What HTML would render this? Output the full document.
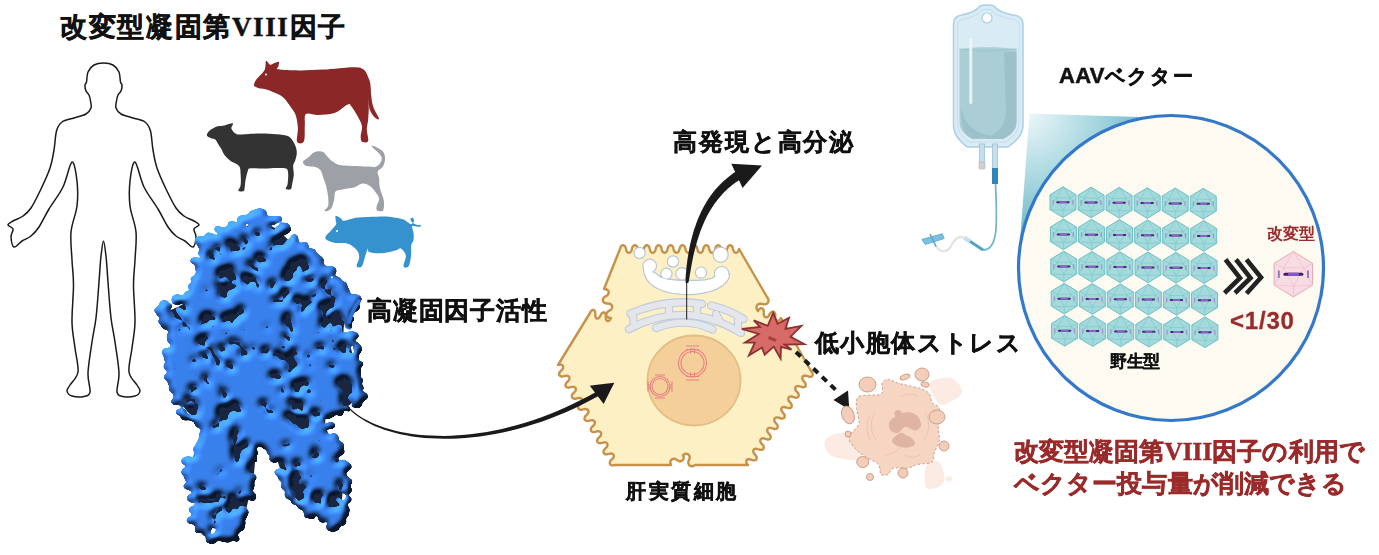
<!DOCTYPE html>
<html><head><meta charset="utf-8">
<style>
html,body{margin:0;padding:0;background:#fff;}
body{width:1379px;height:555px;position:relative;overflow:hidden;font-family:"Liberation Sans",sans-serif;}
.t{position:absolute;white-space:nowrap;line-height:1;font-weight:bold;color:#111;-webkit-text-stroke:0.5px currentColor;}
svg{position:absolute;left:0;top:0;}
</style></head><body>
<svg width="1379" height="555" viewBox="0 0 1379 555">
<defs>
 <radialGradient id="wedge" gradientUnits="userSpaceOnUse" cx="1027" cy="112" r="150">
  <stop offset="0" stop-color="#eef8fa"/>
  <stop offset="0.45" stop-color="#a9d7e0"/>
  <stop offset="1" stop-color="#4fa9bc"/>
 </radialGradient>
 <filter id="rough" x="-10%" y="-10%" width="120%" height="120%">
  <feTurbulence type="fractalNoise" baseFrequency="0.09" numOctaves="2" seed="3" result="n"/>
  <feDisplacementMap in="SourceGraphic" in2="n" scale="14" xChannelSelector="R" yChannelSelector="G"/>
 </filter>
 <filter id="spots" x="0" y="0" width="100%" height="100%">
  <feTurbulence type="fractalNoise" baseFrequency="0.12" numOctaves="2" seed="7" result="n"/>
  <feColorMatrix in="n" type="matrix" values="0 0 0 0 0.09  0 0 0 0 0.14  0 0 0 0 0.28  14 0 0 0 -8.0" result="m"/>
  <feComposite in="m" in2="SourceGraphic" operator="in"/>
 </filter>
 <radialGradient id="pg1" cx="0.4" cy="0.4" r="0.6" fx="0.35" fy="0.3"><stop offset="0" stop-color="#3a86ec"/><stop offset="0.55" stop-color="#2f70d8"/><stop offset="1" stop-color="#1a3f85"/></radialGradient>
 <radialGradient id="pg2" cx="0.4" cy="0.4" r="0.6" fx="0.35" fy="0.3"><stop offset="0" stop-color="#337ae2"/><stop offset="0.6" stop-color="#2a65c8"/><stop offset="1" stop-color="#1c468c"/></radialGradient>
 <radialGradient id="pg3" cx="0.4" cy="0.4" r="0.6" fx="0.35" fy="0.3"><stop offset="0" stop-color="#4390f0"/><stop offset="0.6" stop-color="#3177dd"/><stop offset="1" stop-color="#2356a8"/></radialGradient>
 <filter id="goo" x="-5%" y="-5%" width="110%" height="110%" color-interpolation-filters="sRGB">
  <feGaussianBlur in="SourceAlpha" stdDeviation="1.4" result="b"/>
  <feColorMatrix in="b" type="matrix" values="0 0 0 0 0  0 0 0 0 0  0 0 0 0 0  0 0 0 10 -4.3" result="g"/>
  <feGaussianBlur in="g" stdDeviation="3.0" result="gb"/>
  <feDiffuseLighting in="gb" surfaceScale="8" diffuseConstant="1.4" lighting-color="#3a82ec" result="light"><feDistantLight azimuth="240" elevation="42"/></feDiffuseLighting>
  <feFlood flood-color="#2f6ed6" result="fl"/>
  <feComposite in="light" in2="fl" operator="arithmetic" k1="0" k2="0.85" k3="0.22" k4="0" result="lit"/>
  <feComposite in="lit" in2="g" operator="in"/>
 </filter>
 <clipPath id="pclip"><path d="M 203.0 243.0 C 206.4 238.4 207.8 238.4 214.0 235.0 C 220.2 231.6 227.0 229.6 234.0 226.0 C 241.0 222.4 243.4 219.2 249.0 217.0 C 254.6 214.8 256.4 214.2 262.0 215.0 C 267.6 215.8 270.8 216.8 277.0 221.0 C 283.2 225.2 286.6 229.8 293.0 236.0 C 299.4 242.2 302.4 245.6 309.0 252.0 C 315.6 258.4 319.6 261.4 326.0 268.0 C 332.4 274.6 337.0 278.6 341.0 285.0 C 345.0 291.4 342.8 297.0 346.0 300.0 C 349.2 303.0 356.6 294.4 357.0 300.0 C 357.4 305.6 348.0 317.8 348.0 328.0 C 348.0 338.2 354.6 338.8 357.0 351.0 C 359.4 363.2 360.4 378.0 360.0 389.0 C 359.6 400.0 361.0 400.2 355.0 406.0 C 349.0 411.8 334.0 410.2 330.0 418.0 C 326.0 425.8 332.0 434.8 335.0 445.0 C 338.0 455.2 342.6 458.2 345.0 469.0 C 347.4 479.8 348.0 488.4 347.0 499.0 C 346.0 509.6 344.8 517.8 340.0 522.0 C 335.2 526.2 331.0 523.0 323.0 520.0 C 315.0 517.0 307.2 513.4 300.0 507.0 C 292.8 500.6 291.6 497.0 287.0 488.0 C 282.4 479.0 281.0 470.8 277.0 462.0 C 273.0 453.2 271.0 448.8 267.0 444.0 C 263.0 439.2 259.6 431.6 257.0 438.0 C 254.4 444.4 256.0 461.6 254.0 476.0 C 252.0 490.4 250.2 498.0 247.0 510.0 C 243.8 522.0 243.0 530.2 238.0 536.0 C 233.0 541.8 230.0 540.8 222.0 539.0 C 214.0 537.2 204.0 535.0 198.0 527.0 C 192.0 519.0 194.2 510.4 192.0 499.0 C 189.8 487.6 185.4 481.8 187.0 470.0 C 188.6 458.2 197.4 448.8 200.0 440.0 C 202.6 431.2 203.8 432.0 200.0 426.0 C 196.2 420.0 187.4 419.2 181.0 410.0 C 174.6 400.8 170.6 392.0 168.0 380.0 C 165.4 368.0 167.4 360.8 168.0 350.0 C 168.6 339.2 172.0 331.6 171.0 326.0 C 170.0 320.4 165.0 325.2 163.0 322.0 C 161.0 318.8 158.4 314.0 161.0 310.0 C 163.6 306.0 170.2 305.6 176.0 302.0 C 181.8 298.4 186.0 296.4 190.0 292.0 C 194.0 287.6 194.6 286.8 196.0 280.0 C 197.4 273.2 195.6 265.4 197.0 258.0 C 198.4 250.6 199.6 247.6 203.0 243.0 Z"/></clipPath>
</defs>
<!-- human -->
<path d="M 103.5 63.0 C 100.3 63.0 96.6 63.5 94.0 65.0 C 91.4 66.5 89.2 69.2 88.0 72.0 C 86.8 74.8 87.0 79.8 86.5 82.0 C 86.0 84.2 85.1 83.5 85.0 85.0 C 84.9 86.5 85.3 89.3 86.0 91.0 C 86.7 92.7 88.2 93.3 89.0 95.0 C 89.8 96.7 90.2 98.8 90.5 101.0 C 90.8 103.2 91.8 105.8 91.0 108.0 C 90.2 110.2 88.8 112.3 86.0 114.0 C 83.2 115.7 78.0 116.7 74.0 118.0 C 70.0 119.3 64.9 119.8 62.0 122.0 C 59.1 124.2 57.8 126.3 56.5 131.0 C 55.2 135.7 55.1 143.8 54.0 150.0 C 52.9 156.2 52.2 161.5 50.0 168.0 C 47.8 174.5 44.2 182.3 41.0 189.0 C 37.8 195.7 34.0 203.5 31.0 208.0 C 28.0 212.5 26.0 213.8 23.0 216.0 C 20.0 218.2 15.5 219.5 13.0 221.0 C 10.5 222.5 8.0 223.7 8.0 225.0 C 8.0 226.3 12.5 227.0 13.0 229.0 C 13.5 231.0 10.8 234.0 11.0 237.0 C 11.2 240.0 12.2 246.3 14.0 247.0 C 15.8 247.7 19.2 242.8 22.0 241.0 C 24.8 239.2 28.2 238.3 31.0 236.0 C 33.8 233.7 36.0 231.5 39.0 227.0 C 42.0 222.5 45.0 215.7 49.0 209.0 C 53.0 202.3 59.2 194.8 63.0 187.0 C 66.8 179.2 69.7 163.0 72.0 162.0 C 74.3 161.0 76.2 173.7 77.0 181.0 C 77.8 188.3 78.0 197.5 77.0 206.0 C 76.0 214.5 71.8 223.0 71.0 232.0 C 70.2 241.0 71.6 251.2 72.0 260.0 C 72.4 268.8 73.5 274.7 73.5 285.0 C 73.5 295.3 71.8 311.5 72.0 322.0 C 72.2 332.5 74.0 339.7 75.0 348.0 C 76.0 356.3 78.8 365.8 78.0 372.0 C 77.2 378.2 71.8 381.8 70.0 385.0 C 68.2 388.2 66.7 389.2 67.0 391.0 C 67.3 392.8 69.2 395.1 72.0 396.0 C 74.8 396.9 81.0 397.2 84.0 396.5 C 87.0 395.8 89.3 395.9 90.0 392.0 C 90.7 388.1 87.7 381.3 88.0 373.0 C 88.3 364.7 90.7 351.2 92.0 342.0 C 93.3 332.8 94.8 328.0 96.0 318.0 C 97.2 308.0 98.2 292.3 99.0 282.0 C 99.8 271.7 100.2 262.8 101.0 256.0 C 101.8 249.2 102.7 241.0 103.5 241.0 C 104.3 241.0 105.2 249.2 106.0 256.0 C 106.8 262.8 107.2 271.7 108.0 282.0 C 108.8 292.3 109.8 308.0 111.0 318.0 C 112.2 328.0 113.7 332.8 115.0 342.0 C 116.3 351.2 118.7 364.7 119.0 373.0 C 119.3 381.3 116.3 388.1 117.0 392.0 C 117.7 395.9 120.0 395.8 123.0 396.5 C 126.0 397.2 132.2 396.9 135.0 396.0 C 137.8 395.1 139.7 392.8 140.0 391.0 C 140.3 389.2 138.8 388.2 137.0 385.0 C 135.2 381.8 129.8 378.2 129.0 372.0 C 128.2 365.8 131.0 356.3 132.0 348.0 C 133.0 339.7 134.8 332.5 135.0 322.0 C 135.2 311.5 133.5 295.3 133.5 285.0 C 133.5 274.7 134.6 268.8 135.0 260.0 C 135.4 251.2 136.8 241.0 136.0 232.0 C 135.2 223.0 131.0 214.5 130.0 206.0 C 129.0 197.5 129.2 188.3 130.0 181.0 C 130.8 173.7 132.7 161.0 135.0 162.0 C 137.3 163.0 140.2 179.2 144.0 187.0 C 147.8 194.8 154.0 202.3 158.0 209.0 C 162.0 215.7 165.0 222.5 168.0 227.0 C 171.0 231.5 173.2 233.7 176.0 236.0 C 178.8 238.3 182.2 239.2 185.0 241.0 C 187.8 242.8 191.2 247.7 193.0 247.0 C 194.8 246.3 195.8 240.0 196.0 237.0 C 196.2 234.0 193.5 231.0 194.0 229.0 C 194.5 227.0 199.0 226.3 199.0 225.0 C 199.0 223.7 196.5 222.5 194.0 221.0 C 191.5 219.5 187.0 218.2 184.0 216.0 C 181.0 213.8 179.0 212.5 176.0 208.0 C 173.0 203.5 169.2 195.7 166.0 189.0 C 162.8 182.3 159.2 174.5 157.0 168.0 C 154.8 161.5 154.1 156.2 153.0 150.0 C 151.9 143.8 151.8 135.7 150.5 131.0 C 149.2 126.3 147.9 124.2 145.0 122.0 C 142.1 119.8 137.0 119.3 133.0 118.0 C 129.0 116.7 123.8 115.7 121.0 114.0 C 118.2 112.3 116.8 110.2 116.0 108.0 C 115.2 105.8 116.2 103.2 116.5 101.0 C 116.8 98.8 117.2 96.7 118.0 95.0 C 118.8 93.3 120.3 92.7 121.0 91.0 C 121.7 89.3 122.1 86.5 122.0 85.0 C 121.9 83.5 121.0 84.2 120.5 82.0 C 120.0 79.8 120.2 74.8 119.0 72.0 C 117.8 69.2 115.6 66.5 113.0 65.0 C 110.4 63.5 106.7 63.0 103.5 63.0 Z" fill="#fff" stroke="#1a1a1a" stroke-width="1.5" stroke-linejoin="round"/>
<!-- animals -->
<path d="M 254.1 84.2 C 254.3 83.0 254.9 81.5 256.5 79.3 C 258.1 77.2 262.3 73.4 263.8 71.2 C 265.3 69.1 265.0 68.1 265.4 66.4 C 265.8 64.6 265.4 60.9 266.2 60.7 C 267.0 60.4 268.9 64.3 270.3 64.7 C 271.6 65.1 272.9 63.6 274.3 63.1 C 275.8 62.6 278.2 61.3 278.9 61.8 C 279.6 62.4 278.5 65.1 278.4 66.4 C 278.3 67.6 275.0 68.6 278.4 69.3 C 281.8 70.0 291.2 70.4 298.7 70.4 C 306.1 70.5 313.8 70.1 323.0 69.6 C 332.2 69.1 347.1 67.2 353.8 67.2 C 360.6 67.2 361.2 68.0 363.6 69.6 C 366.0 71.2 367.0 74.5 368.1 76.9 C 369.3 79.3 369.9 80.8 370.4 84.2 C 370.9 87.6 370.8 93.3 371.4 97.2 C 371.9 101.1 372.4 104.2 373.6 107.7 C 374.9 111.3 378.8 117.0 379.0 118.6 C 379.2 120.3 376.5 119.2 374.9 117.6 C 373.4 116.1 370.8 112.5 369.7 109.4 C 368.7 106.2 368.6 98.9 368.4 98.8 C 368.3 98.7 368.8 105.0 368.8 108.5 C 368.7 112.1 368.4 116.4 368.1 119.9 C 367.8 123.4 366.8 126.1 366.8 129.6 C 366.8 133.2 368.9 139.0 368.1 141.0 C 367.3 143.0 363.2 142.6 362.0 141.8 C 360.7 141.0 360.7 138.7 360.7 136.1 C 360.7 133.6 362.4 129.6 362.0 126.4 C 361.5 123.1 359.7 120.0 357.9 116.7 C 356.1 113.4 353.1 108.6 351.4 106.6 C 349.7 104.6 350.7 103.4 347.8 104.5 C 345.0 105.6 339.3 111.3 334.4 113.1 C 329.4 114.8 322.9 114.9 318.1 115.0 C 313.4 115.2 308.2 112.4 306.0 114.1 C 303.8 115.7 305.2 120.2 304.8 124.8 C 304.5 129.3 305.2 138.5 303.9 141.3 C 302.6 144.2 298.1 144.0 297.1 141.8 C 296.1 139.6 298.1 132.4 297.9 128.0 C 297.6 123.6 296.9 118.8 295.8 115.4 C 294.6 111.9 293.0 110.2 290.9 107.2 C 288.8 104.3 286.0 99.9 283.3 97.5 C 280.5 95.1 277.2 94.0 274.3 92.6 C 271.5 91.3 268.7 90.1 266.2 89.4 C 263.8 88.7 261.6 89.0 259.7 88.6 C 257.8 88.1 255.8 87.4 254.9 86.6 C 253.9 85.9 253.8 85.4 254.1 84.2 Z" fill="#8b2727"/>
<circle cx="266" cy="74.5" r="1.1" fill="#fff"/>
<path d="M 206.9 135.4 C 206.7 134.2 207.8 132.3 209.5 130.8 C 211.2 129.3 214.4 127.4 216.9 126.5 C 219.4 125.6 221.8 125.9 224.5 125.4 C 227.2 124.9 231.8 122.9 232.9 123.4 C 234.1 123.9 230.8 126.7 231.4 128.5 C 232.0 130.3 234.3 133.2 236.8 134.2 C 239.2 135.1 241.9 134.3 246.0 134.2 C 250.0 134.0 256.2 133.4 261.3 133.4 C 266.4 133.4 272.0 133.6 276.6 134.2 C 281.2 134.7 285.8 134.7 288.9 136.4 C 291.9 138.2 293.7 142.2 295.0 144.9 C 296.3 147.6 296.8 150.0 296.8 152.5 C 296.9 155.1 295.9 158.0 295.3 160.2 C 294.7 162.4 293.4 163.1 293.2 165.6 C 292.9 168.0 293.9 171.7 293.8 174.8 C 293.6 177.8 292.7 181.5 292.2 183.9 C 291.7 186.4 291.8 188.5 290.7 189.3 C 289.6 190.1 286.3 189.7 285.8 188.8 C 285.3 188.0 287.3 186.5 287.6 183.9 C 288.0 181.3 288.4 175.8 288.1 173.2 C 287.8 170.7 288.0 169.5 286.1 168.6 C 284.2 167.7 280.2 167.9 276.6 167.9 C 273.0 167.9 268.7 168.5 264.3 168.6 C 260.0 168.7 253.3 167.9 250.6 168.3 C 247.8 168.7 248.6 169.1 247.8 170.9 C 247.0 172.8 246.2 176.7 245.7 179.3 C 245.1 182.0 245.1 185.0 244.7 187.0 C 244.4 189.0 244.7 190.5 243.7 191.1 C 242.6 191.8 238.8 191.8 238.3 190.8 C 237.8 189.9 240.2 188.3 240.6 185.5 C 241.0 182.7 240.9 177.3 240.6 174.0 C 240.3 170.7 240.7 168.0 239.1 165.9 C 237.4 163.7 233.1 162.8 230.6 161.0 C 228.2 159.2 226.0 157.1 224.5 155.1 C 223.0 153.1 222.5 150.9 221.4 149.0 C 220.4 147.2 219.1 145.7 218.1 144.1 C 217.1 142.5 216.5 140.5 215.3 139.5 C 214.1 138.5 212.1 138.7 210.7 138.0 C 209.3 137.3 207.1 136.6 206.9 135.4 Z" fill="#333333"/>
<path d="M 303.1 161.6 C 303.7 160.3 306.9 158.7 308.5 157.3 C 310.1 155.9 311.0 154.3 312.6 153.2 C 314.1 152.2 316.1 151.4 318.0 151.2 C 319.8 151.0 322.2 151.4 323.6 152.2 C 325.1 153.0 325.2 154.4 326.8 155.9 C 328.3 157.5 330.7 160.1 332.8 161.6 C 335.0 163.1 335.8 164.3 339.6 165.0 C 343.4 165.7 350.6 165.8 355.8 166.1 C 361.0 166.4 367.5 166.6 370.7 166.8 C 373.9 166.9 373.5 167.5 375.0 167.0 C 376.5 166.5 378.8 165.5 379.9 163.6 C 380.9 161.8 382.6 159.1 381.2 156.2 C 379.9 153.4 372.6 148.0 371.8 146.5 C 370.9 145.0 374.1 146.1 376.1 147.0 C 378.0 148.0 382.0 150.0 383.5 152.2 C 385.0 154.4 385.2 157.8 385.0 160.3 C 384.8 162.7 383.8 165.2 382.6 167.0 C 381.4 168.9 378.3 169.5 377.7 171.4 C 377.1 173.2 378.7 175.4 379.1 177.8 C 379.4 180.3 379.1 183.2 379.6 185.9 C 380.0 188.6 381.0 191.5 381.8 194.1 C 382.5 196.6 383.7 198.7 383.9 201.5 C 384.1 204.2 384.2 209.0 383.1 210.5 C 382.0 212.0 378.2 211.2 377.2 210.5 C 376.1 209.9 376.3 208.5 376.6 206.5 C 376.9 204.5 379.3 200.9 379.1 198.4 C 378.8 195.9 376.5 193.7 375.0 191.6 C 373.5 189.5 372.1 187.3 370.0 185.9 C 367.9 184.6 365.2 183.3 362.6 183.5 C 360.0 183.7 357.6 186.3 354.5 187.3 C 351.3 188.3 346.8 188.6 343.6 189.3 C 340.5 190.0 337.1 189.9 335.5 191.6 C 334.0 193.3 334.8 196.8 334.2 199.5 C 333.6 202.1 332.8 205.6 331.8 207.6 C 330.7 209.5 328.9 210.6 327.7 211.1 C 326.5 211.5 324.4 211.1 324.5 210.3 C 324.5 209.4 327.5 208.2 328.1 205.9 C 328.7 203.7 328.4 200.1 328.1 196.8 C 327.8 193.4 326.9 189.1 326.1 185.9 C 325.3 182.8 324.3 180.7 323.4 178.1 C 322.5 175.5 322.0 172.3 320.7 170.4 C 319.3 168.6 317.1 167.7 315.3 167.0 C 313.5 166.4 311.6 166.6 309.9 166.4 C 308.2 166.1 306.3 166.2 305.1 165.4 C 304.0 164.6 302.5 163.0 303.1 161.6 Z" fill="#9da1a7"/>
<path d="M 325.7 236.5 C 326.0 235.7 326.7 235.1 327.8 233.8 C 329.0 232.5 331.2 230.4 332.6 228.7 C 334.0 227.1 335.6 225.4 336.2 223.9 C 336.7 222.5 335.7 221.3 335.6 219.9 C 335.6 218.5 334.9 216.0 335.8 215.7 C 336.6 215.5 339.4 217.4 340.8 218.3 C 342.2 219.1 341.4 220.9 344.2 220.8 C 347.1 220.7 352.4 218.3 357.9 217.6 C 363.3 216.9 371.3 216.8 376.8 216.7 C 382.3 216.6 386.3 216.5 390.7 217.0 C 395.1 217.5 400.3 218.6 403.3 219.5 C 406.2 220.5 407.0 221.9 408.3 222.7 C 409.6 223.4 410.2 224.1 411.1 223.9 C 412.0 223.8 413.6 222.7 413.9 221.7 C 414.2 220.6 413.7 218.3 413.1 217.9 C 412.5 217.5 410.5 218.4 410.4 219.1 C 410.2 219.9 411.2 221.4 412.4 222.4 C 413.5 223.4 415.7 224.5 417.2 224.9 C 418.6 225.4 420.5 224.9 421.0 225.2 C 421.4 225.5 420.9 226.6 419.7 226.7 C 418.5 226.8 414.9 226.0 413.6 225.9 C 412.3 225.9 411.9 225.2 411.9 226.5 C 411.9 227.7 413.4 231.0 413.6 233.4 C 413.9 235.8 413.8 238.5 413.4 240.6 C 413.0 242.6 411.5 243.2 411.1 245.6 C 410.7 248.1 411.5 252.0 411.1 255.5 C 410.7 258.9 409.9 264.5 408.6 266.3 C 407.3 268.1 404.0 268.1 403.5 266.3 C 403.1 264.5 406.3 258.4 405.8 255.5 C 405.4 252.5 402.4 249.4 400.8 248.5 C 399.1 247.7 399.1 249.7 395.7 250.4 C 392.4 251.2 385.0 253.0 380.6 253.2 C 376.2 253.5 371.3 252.7 369.2 251.9 C 367.1 251.2 368.6 247.9 368.0 248.5 C 367.3 249.1 366.4 252.5 365.4 255.5 C 364.4 258.4 363.4 264.5 361.9 266.3 C 360.4 268.1 357.1 267.7 356.6 266.3 C 356.1 264.9 358.9 260.4 359.1 258.0 C 359.3 255.6 359.1 253.8 357.9 251.7 C 356.6 249.6 353.7 247.1 351.5 245.6 C 349.4 244.2 348.0 243.6 345.2 243.1 C 342.5 242.6 337.9 243.2 335.1 242.9 C 332.4 242.5 330.4 241.6 328.8 241.0 C 327.3 240.3 326.2 239.8 325.7 239.1 C 325.2 238.3 325.3 237.4 325.7 236.5 Z" fill="#3592ce"/>
<circle cx="337" cy="231" r="1.1" fill="#fff"/>
<!-- protein -->
<path d="M 203.0 243.0 C 206.4 238.4 207.8 238.4 214.0 235.0 C 220.2 231.6 227.0 229.6 234.0 226.0 C 241.0 222.4 243.4 219.2 249.0 217.0 C 254.6 214.8 256.4 214.2 262.0 215.0 C 267.6 215.8 270.8 216.8 277.0 221.0 C 283.2 225.2 286.6 229.8 293.0 236.0 C 299.4 242.2 302.4 245.6 309.0 252.0 C 315.6 258.4 319.6 261.4 326.0 268.0 C 332.4 274.6 337.0 278.6 341.0 285.0 C 345.0 291.4 342.8 297.0 346.0 300.0 C 349.2 303.0 356.6 294.4 357.0 300.0 C 357.4 305.6 348.0 317.8 348.0 328.0 C 348.0 338.2 354.6 338.8 357.0 351.0 C 359.4 363.2 360.4 378.0 360.0 389.0 C 359.6 400.0 361.0 400.2 355.0 406.0 C 349.0 411.8 334.0 410.2 330.0 418.0 C 326.0 425.8 332.0 434.8 335.0 445.0 C 338.0 455.2 342.6 458.2 345.0 469.0 C 347.4 479.8 348.0 488.4 347.0 499.0 C 346.0 509.6 344.8 517.8 340.0 522.0 C 335.2 526.2 331.0 523.0 323.0 520.0 C 315.0 517.0 307.2 513.4 300.0 507.0 C 292.8 500.6 291.6 497.0 287.0 488.0 C 282.4 479.0 281.0 470.8 277.0 462.0 C 273.0 453.2 271.0 448.8 267.0 444.0 C 263.0 439.2 259.6 431.6 257.0 438.0 C 254.4 444.4 256.0 461.6 254.0 476.0 C 252.0 490.4 250.2 498.0 247.0 510.0 C 243.8 522.0 243.0 530.2 238.0 536.0 C 233.0 541.8 230.0 540.8 222.0 539.0 C 214.0 537.2 204.0 535.0 198.0 527.0 C 192.0 519.0 194.2 510.4 192.0 499.0 C 189.8 487.6 185.4 481.8 187.0 470.0 C 188.6 458.2 197.4 448.8 200.0 440.0 C 202.6 431.2 203.8 432.0 200.0 426.0 C 196.2 420.0 187.4 419.2 181.0 410.0 C 174.6 400.8 170.6 392.0 168.0 380.0 C 165.4 368.0 167.4 360.8 168.0 350.0 C 168.6 339.2 172.0 331.6 171.0 326.0 C 170.0 320.4 165.0 325.2 163.0 322.0 C 161.0 318.8 158.4 314.0 161.0 310.0 C 163.6 306.0 170.2 305.6 176.0 302.0 C 181.8 298.4 186.0 296.4 190.0 292.0 C 194.0 287.6 194.6 286.8 196.0 280.0 C 197.4 273.2 195.6 265.4 197.0 258.0 C 198.4 250.6 199.6 247.6 203.0 243.0 Z" fill="#1a2540" transform="translate(258 378) scale(0.95) translate(-258 -378)"/>
<g filter="url(#goo)"><ellipse cx="247.3" cy="395.8" rx="11.6" ry="7.9" transform="rotate(91 247.3 395.8)" fill="url(#pg1)"/>
<ellipse cx="189.7" cy="380.0" rx="12.4" ry="5.8" transform="rotate(17 189.7 380.0)" fill="url(#pg2)"/>
<ellipse cx="180.5" cy="388.8" rx="12.1" ry="6.8" transform="rotate(107 180.5 388.8)" fill="url(#pg3)"/>
<ellipse cx="282.3" cy="262.3" rx="7.7" ry="4.9" transform="rotate(11 282.3 262.3)" fill="url(#pg1)"/>
<ellipse cx="339.1" cy="409.1" rx="5.4" ry="4.4" transform="rotate(106 339.1 409.1)" fill="url(#pg1)"/>
<ellipse cx="261.6" cy="422.6" rx="10.9" ry="5.9" transform="rotate(82 261.6 422.6)" fill="url(#pg2)"/>
<ellipse cx="237.5" cy="393.0" rx="8.8" ry="10.5" transform="rotate(46 237.5 393.0)" fill="url(#pg1)"/>
<ellipse cx="260.3" cy="219.9" rx="6.6" ry="7.6" transform="rotate(19 260.3 219.9)" fill="url(#pg2)"/>
<ellipse cx="233.1" cy="528.1" rx="7.9" ry="10.9" transform="rotate(38 233.1 528.1)" fill="url(#pg1)"/>
<ellipse cx="235.4" cy="234.2" rx="10.5" ry="5.0" transform="rotate(49 235.4 234.2)" fill="url(#pg1)"/>
<ellipse cx="238.2" cy="516.4" rx="9.2" ry="4.7" transform="rotate(2 238.2 516.4)" fill="url(#pg3)"/>
<ellipse cx="321.4" cy="269.0" rx="6.5" ry="4.6" transform="rotate(34 321.4 269.0)" fill="url(#pg1)"/>
<ellipse cx="240.1" cy="337.4" rx="12.2" ry="4.7" transform="rotate(0 240.1 337.4)" fill="url(#pg2)"/>
<ellipse cx="279.4" cy="401.6" rx="6.0" ry="6.5" transform="rotate(79 279.4 401.6)" fill="url(#pg1)"/>
<ellipse cx="316.1" cy="319.2" rx="6.6" ry="7.9" transform="rotate(16 316.1 319.2)" fill="url(#pg1)"/>
<ellipse cx="283.8" cy="252.2" rx="12.4" ry="5.6" transform="rotate(24 283.8 252.2)" fill="url(#pg3)"/>
<ellipse cx="345.3" cy="481.5" rx="3.3" ry="3.3" transform="rotate(133 345.3 481.5)" fill="url(#pg1)"/>
<ellipse cx="297.7" cy="338.9" rx="7.2" ry="8.7" transform="rotate(9 297.7 338.9)" fill="url(#pg1)"/>
<ellipse cx="201.3" cy="443.9" rx="5.2" ry="2.3" transform="rotate(107 201.3 443.9)" fill="url(#pg2)"/>
<ellipse cx="253.0" cy="427.0" rx="7.6" ry="9.2" transform="rotate(38 253.0 427.0)" fill="url(#pg1)"/>
<ellipse cx="238.5" cy="292.7" rx="6.7" ry="5.9" transform="rotate(96 238.5 292.7)" fill="url(#pg1)"/>
<ellipse cx="246.8" cy="319.9" rx="11.1" ry="7.1" transform="rotate(170 246.8 319.9)" fill="url(#pg1)"/>
<ellipse cx="348.6" cy="367.6" rx="8.1" ry="6.8" transform="rotate(6 348.6 367.6)" fill="url(#pg1)"/>
<ellipse cx="253.7" cy="452.5" rx="4.7" ry="1.8" transform="rotate(14 253.7 452.5)" fill="url(#pg2)"/>
<ellipse cx="308.5" cy="508.9" rx="6.3" ry="3.3" transform="rotate(143 308.5 508.9)" fill="url(#pg2)"/>
<ellipse cx="225.6" cy="437.5" rx="14.4" ry="6.2" transform="rotate(75 225.6 437.5)" fill="url(#pg1)"/>
<ellipse cx="335.6" cy="400.2" rx="9.7" ry="7.4" transform="rotate(105 335.6 400.2)" fill="url(#pg1)"/>
<ellipse cx="306.6" cy="339.0" rx="11.5" ry="6.8" transform="rotate(79 306.6 339.0)" fill="url(#pg1)"/>
<ellipse cx="261.5" cy="380.8" rx="6.7" ry="7.9" transform="rotate(4 261.5 380.8)" fill="url(#pg1)"/>
<ellipse cx="256.9" cy="414.0" rx="10.0" ry="9.1" transform="rotate(2 256.9 414.0)" fill="url(#pg2)"/>
<ellipse cx="223.6" cy="518.9" rx="8.3" ry="7.7" transform="rotate(73 223.6 518.9)" fill="url(#pg2)"/>
<ellipse cx="192.7" cy="353.1" rx="14.2" ry="5.9" transform="rotate(158 192.7 353.1)" fill="url(#pg3)"/>
<ellipse cx="197.2" cy="515.7" rx="5.4" ry="5.9" transform="rotate(63 197.2 515.7)" fill="url(#pg1)"/>
<ellipse cx="209.5" cy="266.2" rx="8.3" ry="7.3" transform="rotate(39 209.5 266.2)" fill="url(#pg3)"/>
<ellipse cx="232.2" cy="382.6" rx="12.1" ry="6.1" transform="rotate(152 232.2 382.6)" fill="url(#pg3)"/>
<ellipse cx="218.9" cy="485.1" rx="9.4" ry="5.4" transform="rotate(122 218.9 485.1)" fill="url(#pg2)"/>
<ellipse cx="272.7" cy="312.6" rx="7.9" ry="10.5" transform="rotate(24 272.7 312.6)" fill="url(#pg3)"/>
<ellipse cx="190.8" cy="465.4" rx="5.2" ry="2.5" transform="rotate(143 190.8 465.4)" fill="url(#pg1)"/>
<ellipse cx="246.0" cy="419.1" rx="12.6" ry="5.8" transform="rotate(173 246.0 419.1)" fill="url(#pg1)"/>
<ellipse cx="192.9" cy="367.7" rx="5.8" ry="7.9" transform="rotate(85 192.9 367.7)" fill="url(#pg1)"/>
<ellipse cx="188.5" cy="300.4" rx="7.9" ry="4.1" transform="rotate(94 188.5 300.4)" fill="url(#pg1)"/>
<ellipse cx="234.6" cy="472.9" rx="8.7" ry="10.3" transform="rotate(168 234.6 472.9)" fill="url(#pg3)"/>
<ellipse cx="177.9" cy="360.6" rx="13.1" ry="5.4" transform="rotate(68 177.9 360.6)" fill="url(#pg2)"/>
<ellipse cx="249.7" cy="426.2" rx="9.7" ry="4.9" transform="rotate(147 249.7 426.2)" fill="url(#pg1)"/>
<ellipse cx="195.9" cy="508.8" rx="5.3" ry="2.0" transform="rotate(97 195.9 508.8)" fill="url(#pg2)"/>
<ellipse cx="206.3" cy="448.5" rx="7.6" ry="5.0" transform="rotate(7 206.3 448.5)" fill="url(#pg2)"/>
<ellipse cx="254.8" cy="219.4" rx="5.5" ry="6.8" transform="rotate(144 254.8 219.4)" fill="url(#pg1)"/>
<ellipse cx="264.6" cy="437.9" rx="3.9" ry="2.6" transform="rotate(180 264.6 437.9)" fill="url(#pg3)"/>
<ellipse cx="353.3" cy="373.5" rx="7.5" ry="8.9" transform="rotate(40 353.3 373.5)" fill="url(#pg2)"/>
<ellipse cx="328.7" cy="396.4" rx="8.4" ry="5.4" transform="rotate(163 328.7 396.4)" fill="url(#pg2)"/>
<ellipse cx="217.0" cy="336.6" rx="14.3" ry="6.0" transform="rotate(37 217.0 336.6)" fill="url(#pg1)"/>
<ellipse cx="358.2" cy="384.0" rx="3.9" ry="3.8" transform="rotate(96 358.2 384.0)" fill="url(#pg1)"/>
<ellipse cx="358.4" cy="381.3" rx="4.5" ry="2.1" transform="rotate(101 358.4 381.3)" fill="url(#pg3)"/>
<ellipse cx="350.1" cy="362.4" rx="11.1" ry="5.2" transform="rotate(73 350.1 362.4)" fill="url(#pg1)"/>
<ellipse cx="251.7" cy="252.2" rx="11.4" ry="5.2" transform="rotate(162 251.7 252.2)" fill="url(#pg3)"/>
<ellipse cx="262.9" cy="246.1" rx="6.7" ry="8.8" transform="rotate(47 262.9 246.1)" fill="url(#pg1)"/>
<ellipse cx="305.6" cy="291.2" rx="9.9" ry="6.4" transform="rotate(105 305.6 291.2)" fill="url(#pg2)"/>
<ellipse cx="304.3" cy="442.9" rx="8.2" ry="10.8" transform="rotate(114 304.3 442.9)" fill="url(#pg1)"/>
<ellipse cx="264.8" cy="282.5" rx="8.8" ry="5.4" transform="rotate(106 264.8 282.5)" fill="url(#pg1)"/>
<ellipse cx="200.0" cy="455.9" rx="9.6" ry="4.0" transform="rotate(57 200.0 455.9)" fill="url(#pg2)"/>
<ellipse cx="317.3" cy="274.6" rx="9.9" ry="4.2" transform="rotate(24 317.3 274.6)" fill="url(#pg1)"/>
<ellipse cx="205.8" cy="242.2" rx="3.7" ry="2.7" transform="rotate(142 205.8 242.2)" fill="url(#pg1)"/>
<ellipse cx="193.1" cy="418.5" rx="3.0" ry="3.5" transform="rotate(103 193.1 418.5)" fill="url(#pg2)"/>
<ellipse cx="174.8" cy="377.9" rx="9.6" ry="6.3" transform="rotate(123 174.8 377.9)" fill="url(#pg1)"/>
<ellipse cx="322.6" cy="370.0" rx="8.9" ry="4.3" transform="rotate(110 322.6 370.0)" fill="url(#pg3)"/>
<ellipse cx="193.8" cy="489.0" rx="7.0" ry="2.8" transform="rotate(17 193.8 489.0)" fill="url(#pg1)"/>
<ellipse cx="234.0" cy="351.6" rx="7.5" ry="7.3" transform="rotate(67 234.0 351.6)" fill="url(#pg1)"/>
<ellipse cx="247.6" cy="455.5" rx="7.6" ry="7.6" transform="rotate(30 247.6 455.5)" fill="url(#pg1)"/>
<ellipse cx="219.6" cy="238.2" rx="7.9" ry="3.4" transform="rotate(164 219.6 238.2)" fill="url(#pg3)"/>
<ellipse cx="272.5" cy="273.4" rx="9.2" ry="7.4" transform="rotate(137 272.5 273.4)" fill="url(#pg2)"/>
<ellipse cx="317.3" cy="480.5" rx="11.7" ry="4.9" transform="rotate(158 317.3 480.5)" fill="url(#pg2)"/>
<ellipse cx="315.0" cy="464.1" rx="10.7" ry="5.4" transform="rotate(13 315.0 464.1)" fill="url(#pg2)"/>
<ellipse cx="214.9" cy="243.5" rx="10.4" ry="4.0" transform="rotate(162 214.9 243.5)" fill="url(#pg1)"/>
<ellipse cx="199.9" cy="523.6" rx="6.0" ry="4.9" transform="rotate(119 199.9 523.6)" fill="url(#pg1)"/>
<ellipse cx="264.6" cy="339.3" rx="13.3" ry="7.3" transform="rotate(126 264.6 339.3)" fill="url(#pg3)"/>
<ellipse cx="282.3" cy="455.3" rx="8.2" ry="6.1" transform="rotate(9 282.3 455.3)" fill="url(#pg1)"/>
<ellipse cx="205.6" cy="301.5" rx="9.4" ry="5.8" transform="rotate(75 205.6 301.5)" fill="url(#pg1)"/>
<ellipse cx="287.2" cy="478.8" rx="6.4" ry="3.7" transform="rotate(137 287.2 478.8)" fill="url(#pg1)"/>
<ellipse cx="233.1" cy="521.6" rx="12.1" ry="4.7" transform="rotate(154 233.1 521.6)" fill="url(#pg1)"/>
<ellipse cx="242.4" cy="374.2" rx="8.3" ry="6.2" transform="rotate(56 242.4 374.2)" fill="url(#pg2)"/>
<ellipse cx="253.9" cy="299.6" rx="13.1" ry="7.0" transform="rotate(135 253.9 299.6)" fill="url(#pg1)"/>
<ellipse cx="312.2" cy="339.5" rx="13.5" ry="6.6" transform="rotate(9 312.2 339.5)" fill="url(#pg2)"/>
<ellipse cx="242.3" cy="368.6" rx="10.1" ry="9.4" transform="rotate(94 242.3 368.6)" fill="url(#pg3)"/>
<ellipse cx="202.7" cy="444.5" rx="6.7" ry="4.9" transform="rotate(21 202.7 444.5)" fill="url(#pg1)"/>
<ellipse cx="226.7" cy="261.4" rx="7.2" ry="7.8" transform="rotate(75 226.7 261.4)" fill="url(#pg2)"/>
<ellipse cx="287.5" cy="436.4" rx="10.6" ry="5.2" transform="rotate(147 287.5 436.4)" fill="url(#pg1)"/>
<ellipse cx="201.3" cy="247.8" rx="3.4" ry="1.6" transform="rotate(112 201.3 247.8)" fill="url(#pg2)"/>
<ellipse cx="209.1" cy="412.5" rx="12.3" ry="6.3" transform="rotate(34 209.1 412.5)" fill="url(#pg2)"/>
<ellipse cx="312.0" cy="273.0" rx="11.3" ry="4.4" transform="rotate(165 312.0 273.0)" fill="url(#pg1)"/>
<ellipse cx="209.8" cy="460.9" rx="9.3" ry="9.8" transform="rotate(42 209.8 460.9)" fill="url(#pg2)"/>
<ellipse cx="254.1" cy="327.6" rx="9.1" ry="6.0" transform="rotate(24 254.1 327.6)" fill="url(#pg1)"/>
<ellipse cx="322.5" cy="358.5" rx="13.7" ry="6.1" transform="rotate(138 322.5 358.5)" fill="url(#pg3)"/>
<ellipse cx="241.2" cy="295.7" rx="10.4" ry="8.0" transform="rotate(118 241.2 295.7)" fill="url(#pg2)"/>
<ellipse cx="212.5" cy="462.0" rx="9.1" ry="9.3" transform="rotate(118 212.5 462.0)" fill="url(#pg1)"/>
<ellipse cx="249.3" cy="317.6" rx="9.6" ry="6.9" transform="rotate(102 249.3 317.6)" fill="url(#pg3)"/>
<ellipse cx="214.3" cy="467.5" rx="6.5" ry="6.3" transform="rotate(119 214.3 467.5)" fill="url(#pg1)"/>
<ellipse cx="299.4" cy="374.3" rx="9.9" ry="8.1" transform="rotate(159 299.4 374.3)" fill="url(#pg1)"/>
<ellipse cx="226.9" cy="451.0" rx="7.0" ry="7.9" transform="rotate(128 226.9 451.0)" fill="url(#pg2)"/>
<ellipse cx="244.2" cy="476.6" rx="7.9" ry="6.6" transform="rotate(72 244.2 476.6)" fill="url(#pg1)"/>
<ellipse cx="308.8" cy="332.3" rx="7.3" ry="7.8" transform="rotate(106 308.8 332.3)" fill="url(#pg1)"/>
<ellipse cx="339.4" cy="303.4" rx="7.7" ry="5.0" transform="rotate(98 339.4 303.4)" fill="url(#pg2)"/>
<ellipse cx="308.5" cy="508.5" rx="6.6" ry="3.7" transform="rotate(26 308.5 508.5)" fill="url(#pg3)"/>
<ellipse cx="202.8" cy="283.2" rx="9.8" ry="6.2" transform="rotate(138 202.8 283.2)" fill="url(#pg3)"/>
<ellipse cx="225.3" cy="478.0" rx="7.0" ry="7.7" transform="rotate(88 225.3 478.0)" fill="url(#pg1)"/>
<ellipse cx="238.3" cy="484.3" rx="13.0" ry="5.7" transform="rotate(145 238.3 484.3)" fill="url(#pg1)"/>
<ellipse cx="287.7" cy="383.9" rx="12.9" ry="6.0" transform="rotate(76 287.7 383.9)" fill="url(#pg3)"/>
<ellipse cx="297.1" cy="316.5" rx="9.5" ry="6.0" transform="rotate(49 297.1 316.5)" fill="url(#pg1)"/>
<ellipse cx="251.4" cy="452.6" rx="6.3" ry="6.7" transform="rotate(166 251.4 452.6)" fill="url(#pg1)"/>
<ellipse cx="253.4" cy="475.7" rx="2.4" ry="2.3" transform="rotate(65 253.4 475.7)" fill="url(#pg1)"/>
<ellipse cx="279.0" cy="366.7" rx="9.5" ry="6.7" transform="rotate(161 279.0 366.7)" fill="url(#pg3)"/>
<ellipse cx="217.0" cy="392.0" rx="6.2" ry="4.2" transform="rotate(47 217.0 392.0)" fill="url(#pg3)"/>
<ellipse cx="346.6" cy="323.6" rx="4.8" ry="1.9" transform="rotate(87 346.6 323.6)" fill="url(#pg1)"/>
<ellipse cx="235.9" cy="282.2" rx="4.7" ry="2.2" transform="rotate(176 235.9 282.2)" fill="url(#pg2)"/>
<ellipse cx="337.9" cy="510.5" rx="4.3" ry="3.9" transform="rotate(76 337.9 510.5)" fill="url(#pg1)"/>
<ellipse cx="239.4" cy="466.3" rx="5.0" ry="2.1" transform="rotate(146 239.4 466.3)" fill="url(#pg1)"/>
<ellipse cx="207.3" cy="387.5" rx="4.7" ry="2.2" transform="rotate(0 207.3 387.5)" fill="url(#pg1)"/>
<ellipse cx="208.0" cy="447.9" rx="3.8" ry="2.5" transform="rotate(84 208.0 447.9)" fill="url(#pg2)"/>
<ellipse cx="318.0" cy="356.1" rx="3.4" ry="2.5" transform="rotate(89 318.0 356.1)" fill="url(#pg2)"/>
<ellipse cx="218.0" cy="344.6" rx="7.1" ry="2.7" transform="rotate(120 218.0 344.6)" fill="url(#pg1)"/>
<ellipse cx="227.3" cy="438.1" rx="3.6" ry="2.7" transform="rotate(83 227.3 438.1)" fill="url(#pg1)"/>
<ellipse cx="231.1" cy="445.7" rx="4.5" ry="2.7" transform="rotate(82 231.1 445.7)" fill="url(#pg1)"/>
<ellipse cx="334.1" cy="490.4" rx="7.5" ry="3.1" transform="rotate(27 334.1 490.4)" fill="url(#pg3)"/>
<ellipse cx="269.5" cy="238.9" rx="3.8" ry="2.9" transform="rotate(20 269.5 238.9)" fill="url(#pg2)"/>
<ellipse cx="353.2" cy="396.9" rx="5.4" ry="4.4" transform="rotate(149 353.2 396.9)" fill="url(#pg1)"/>
<ellipse cx="243.3" cy="466.0" rx="5.6" ry="2.5" transform="rotate(167 243.3 466.0)" fill="url(#pg1)"/>
<ellipse cx="289.2" cy="464.6" rx="5.9" ry="4.5" transform="rotate(60 289.2 464.6)" fill="url(#pg3)"/>
<ellipse cx="284.0" cy="451.3" rx="5.0" ry="4.1" transform="rotate(142 284.0 451.3)" fill="url(#pg1)"/>
<ellipse cx="291.9" cy="412.1" rx="3.2" ry="2.6" transform="rotate(62 291.9 412.1)" fill="url(#pg3)"/>
<ellipse cx="172.8" cy="335.4" rx="5.2" ry="2.4" transform="rotate(149 172.8 335.4)" fill="url(#pg1)"/>
<ellipse cx="204.6" cy="388.9" rx="3.8" ry="3.5" transform="rotate(110 204.6 388.9)" fill="url(#pg1)"/>
<ellipse cx="273.4" cy="275.8" rx="8.8" ry="3.4" transform="rotate(127 273.4 275.8)" fill="url(#pg1)"/>
<ellipse cx="272.0" cy="218.9" rx="3.4" ry="1.6" transform="rotate(25 272.0 218.9)" fill="url(#pg3)"/>
<ellipse cx="273.9" cy="441.4" rx="5.9" ry="2.4" transform="rotate(65 273.9 441.4)" fill="url(#pg3)"/>
<ellipse cx="339.8" cy="360.2" rx="5.0" ry="4.7" transform="rotate(102 339.8 360.2)" fill="url(#pg1)"/>
<ellipse cx="270.5" cy="297.8" rx="8.7" ry="3.3" transform="rotate(147 270.5 297.8)" fill="url(#pg1)"/>
<ellipse cx="212.0" cy="507.8" rx="4.5" ry="2.7" transform="rotate(150 212.0 507.8)" fill="url(#pg1)"/>
<ellipse cx="247.7" cy="343.9" rx="7.9" ry="3.2" transform="rotate(180 247.7 343.9)" fill="url(#pg1)"/>
<ellipse cx="216.1" cy="432.8" rx="5.6" ry="4.3" transform="rotate(107 216.1 432.8)" fill="url(#pg1)"/>
<ellipse cx="184.1" cy="346.8" rx="3.7" ry="2.3" transform="rotate(21 184.1 346.8)" fill="url(#pg3)"/>
<ellipse cx="187.3" cy="382.6" rx="4.6" ry="2.8" transform="rotate(60 187.3 382.6)" fill="url(#pg1)"/>
<ellipse cx="305.2" cy="471.5" rx="4.9" ry="3.2" transform="rotate(18 305.2 471.5)" fill="url(#pg2)"/>
<ellipse cx="238.5" cy="417.1" rx="6.8" ry="3.3" transform="rotate(135 238.5 417.1)" fill="url(#pg3)"/>
<ellipse cx="341.2" cy="363.9" rx="7.4" ry="3.9" transform="rotate(149 341.2 363.9)" fill="url(#pg1)"/>
<ellipse cx="263.1" cy="384.3" rx="6.2" ry="2.6" transform="rotate(58 263.1 384.3)" fill="url(#pg1)"/>
<ellipse cx="213.6" cy="414.6" rx="4.6" ry="3.5" transform="rotate(58 213.6 414.6)" fill="url(#pg2)"/>
<ellipse cx="339.8" cy="501.2" rx="5.3" ry="2.3" transform="rotate(44 339.8 501.2)" fill="url(#pg3)"/>
<ellipse cx="359.1" cy="367.9" rx="3.3" ry="1.4" transform="rotate(98 359.1 367.9)" fill="url(#pg3)"/>
<ellipse cx="337.4" cy="332.4" rx="5.6" ry="3.4" transform="rotate(30 337.4 332.4)" fill="url(#pg3)"/>
<ellipse cx="176.6" cy="388.5" rx="4.7" ry="6.4" transform="rotate(44 176.6 388.5)" fill="url(#pg2)"/>
<ellipse cx="244.8" cy="359.4" rx="4.1" ry="4.5" transform="rotate(125 244.8 359.4)" fill="url(#pg1)"/>
<ellipse cx="343.2" cy="312.2" rx="6.6" ry="2.7" transform="rotate(176 343.2 312.2)" fill="url(#pg3)"/>
<ellipse cx="162.7" cy="314.9" rx="5.2" ry="2.2" transform="rotate(3 162.7 314.9)" fill="url(#pg1)"/>
<ellipse cx="264.6" cy="288.4" rx="8.8" ry="3.4" transform="rotate(117 264.6 288.4)" fill="url(#pg2)"/>
<ellipse cx="306.0" cy="313.9" rx="8.1" ry="3.5" transform="rotate(128 306.0 313.9)" fill="url(#pg1)"/>
<ellipse cx="222.0" cy="527.7" rx="5.9" ry="4.3" transform="rotate(30 222.0 527.7)" fill="url(#pg2)"/>
<ellipse cx="207.8" cy="449.1" rx="4.6" ry="3.9" transform="rotate(49 207.8 449.1)" fill="url(#pg1)"/>
<ellipse cx="276.8" cy="286.0" rx="5.7" ry="2.3" transform="rotate(120 276.8 286.0)" fill="url(#pg2)"/>
<ellipse cx="249.5" cy="235.3" rx="4.9" ry="5.9" transform="rotate(163 249.5 235.3)" fill="url(#pg1)"/>
<ellipse cx="278.9" cy="304.5" rx="5.2" ry="2.4" transform="rotate(16 278.9 304.5)" fill="url(#pg2)"/>
<ellipse cx="345.6" cy="316.5" rx="3.7" ry="4.8" transform="rotate(52 345.6 316.5)" fill="url(#pg1)"/>
<ellipse cx="174.1" cy="354.6" rx="6.0" ry="3.7" transform="rotate(46 174.1 354.6)" fill="url(#pg1)"/>
<ellipse cx="205.8" cy="390.7" rx="6.9" ry="4.0" transform="rotate(47 205.8 390.7)" fill="url(#pg1)"/>
<ellipse cx="278.3" cy="447.3" rx="6.7" ry="2.9" transform="rotate(32 278.3 447.3)" fill="url(#pg1)"/>
<ellipse cx="280.8" cy="412.0" rx="6.3" ry="4.1" transform="rotate(130 280.8 412.0)" fill="url(#pg1)"/>
<ellipse cx="272.3" cy="390.4" rx="5.2" ry="4.9" transform="rotate(26 272.3 390.4)" fill="url(#pg2)"/>
<ellipse cx="241.5" cy="441.0" rx="7.3" ry="3.6" transform="rotate(141 241.5 441.0)" fill="url(#pg3)"/>
<ellipse cx="328.6" cy="471.2" rx="3.5" ry="2.6" transform="rotate(66 328.6 471.2)" fill="url(#pg1)"/>
<ellipse cx="279.2" cy="254.7" rx="6.2" ry="3.9" transform="rotate(177 279.2 254.7)" fill="url(#pg1)"/>
<ellipse cx="201.7" cy="505.5" rx="3.7" ry="2.8" transform="rotate(54 201.7 505.5)" fill="url(#pg3)"/>
<ellipse cx="296.2" cy="448.1" rx="7.4" ry="4.2" transform="rotate(53 296.2 448.1)" fill="url(#pg1)"/>
<ellipse cx="268.7" cy="290.2" rx="6.5" ry="2.6" transform="rotate(66 268.7 290.2)" fill="url(#pg2)"/>
<ellipse cx="196.9" cy="263.3" rx="3.1" ry="1.2" transform="rotate(133 196.9 263.3)" fill="url(#pg1)"/>
<ellipse cx="249.5" cy="340.5" rx="5.9" ry="4.5" transform="rotate(141 249.5 340.5)" fill="url(#pg1)"/>
<ellipse cx="240.0" cy="291.8" rx="7.4" ry="3.4" transform="rotate(86 240.0 291.8)" fill="url(#pg3)"/>
<ellipse cx="196.1" cy="365.3" rx="4.4" ry="3.1" transform="rotate(179 196.1 365.3)" fill="url(#pg1)"/>
<ellipse cx="335.5" cy="277.9" rx="2.1" ry="2.6" transform="rotate(124 335.5 277.9)" fill="url(#pg2)"/>
<ellipse cx="260.1" cy="398.4" rx="4.7" ry="4.6" transform="rotate(19 260.1 398.4)" fill="url(#pg1)"/>
<ellipse cx="227.3" cy="464.2" rx="7.5" ry="3.1" transform="rotate(4 227.3 464.2)" fill="url(#pg2)"/>
<ellipse cx="330.3" cy="359.4" rx="6.0" ry="4.6" transform="rotate(46 330.3 359.4)" fill="url(#pg1)"/>
<ellipse cx="215.0" cy="411.8" rx="4.2" ry="4.2" transform="rotate(93 215.0 411.8)" fill="url(#pg1)"/>
<ellipse cx="241.2" cy="390.6" rx="4.5" ry="2.3" transform="rotate(47 241.2 390.6)" fill="url(#pg3)"/>
<ellipse cx="293.2" cy="258.9" rx="3.6" ry="3.2" transform="rotate(128 293.2 258.9)" fill="url(#pg3)"/>
<ellipse cx="179.4" cy="381.6" rx="3.6" ry="4.1" transform="rotate(67 179.4 381.6)" fill="url(#pg1)"/>
<ellipse cx="310.6" cy="370.3" rx="4.1" ry="2.0" transform="rotate(134 310.6 370.3)" fill="url(#pg1)"/>
<ellipse cx="298.2" cy="431.3" rx="8.4" ry="3.6" transform="rotate(42 298.2 431.3)" fill="url(#pg2)"/>
<ellipse cx="169.3" cy="352.0" rx="2.7" ry="3.4" transform="rotate(69 169.3 352.0)" fill="url(#pg2)"/>
<ellipse cx="211.2" cy="443.5" rx="5.4" ry="2.2" transform="rotate(36 211.2 443.5)" fill="url(#pg1)"/>
<ellipse cx="225.4" cy="446.5" rx="6.1" ry="3.0" transform="rotate(163 225.4 446.5)" fill="url(#pg1)"/>
<ellipse cx="252.8" cy="295.3" rx="5.7" ry="4.8" transform="rotate(165 252.8 295.3)" fill="url(#pg3)"/>
<ellipse cx="346.2" cy="300.3" rx="2.8" ry="1.3" transform="rotate(54 346.2 300.3)" fill="url(#pg2)"/>
<ellipse cx="230.3" cy="308.7" rx="7.8" ry="3.3" transform="rotate(116 230.3 308.7)" fill="url(#pg3)"/>
<ellipse cx="228.0" cy="401.3" rx="7.9" ry="3.8" transform="rotate(113 228.0 401.3)" fill="url(#pg3)"/>
<ellipse cx="281.8" cy="231.1" rx="3.6" ry="2.5" transform="rotate(81 281.8 231.1)" fill="url(#pg3)"/>
<ellipse cx="259.0" cy="312.5" rx="6.1" ry="2.4" transform="rotate(27 259.0 312.5)" fill="url(#pg1)"/>
<ellipse cx="208.0" cy="295.7" rx="4.3" ry="2.7" transform="rotate(167 208.0 295.7)" fill="url(#pg3)"/>
<ellipse cx="332.5" cy="464.1" rx="4.5" ry="2.0" transform="rotate(159 332.5 464.1)" fill="url(#pg2)"/>
<ellipse cx="206.8" cy="244.5" rx="4.2" ry="2.0" transform="rotate(37 206.8 244.5)" fill="url(#pg3)"/>
<ellipse cx="283.6" cy="372.9" rx="5.0" ry="3.9" transform="rotate(51 283.6 372.9)" fill="url(#pg3)"/>
<ellipse cx="201.0" cy="292.8" rx="3.7" ry="3.8" transform="rotate(92 201.0 292.8)" fill="url(#pg1)"/>
<ellipse cx="325.8" cy="504.0" rx="5.5" ry="2.5" transform="rotate(92 325.8 504.0)" fill="url(#pg3)"/>
<ellipse cx="238.7" cy="370.0" rx="4.4" ry="3.3" transform="rotate(133 238.7 370.0)" fill="url(#pg3)"/>
<ellipse cx="204.4" cy="420.7" rx="5.3" ry="2.8" transform="rotate(33 204.4 420.7)" fill="url(#pg1)"/>
<ellipse cx="331.2" cy="485.1" rx="5.2" ry="3.8" transform="rotate(127 331.2 485.1)" fill="url(#pg2)"/>
<ellipse cx="231.0" cy="432.2" rx="3.4" ry="3.5" transform="rotate(2 231.0 432.2)" fill="url(#pg1)"/>
<ellipse cx="207.6" cy="300.0" rx="4.8" ry="2.6" transform="rotate(70 207.6 300.0)" fill="url(#pg1)"/>
<ellipse cx="211.5" cy="452.8" rx="5.3" ry="5.9" transform="rotate(59 211.5 452.8)" fill="url(#pg1)"/>
<ellipse cx="329.0" cy="494.0" rx="3.0" ry="3.6" transform="rotate(79 329.0 494.0)" fill="url(#pg2)"/>
<ellipse cx="198.1" cy="449.7" rx="3.8" ry="4.1" transform="rotate(104 198.1 449.7)" fill="url(#pg1)"/>
<ellipse cx="204.0" cy="372.1" rx="3.5" ry="2.9" transform="rotate(3 204.0 372.1)" fill="url(#pg1)"/>
<ellipse cx="208.9" cy="342.8" rx="3.4" ry="4.1" transform="rotate(36 208.9 342.8)" fill="url(#pg2)"/>
<ellipse cx="270.2" cy="260.3" rx="4.1" ry="2.0" transform="rotate(121 270.2 260.3)" fill="url(#pg1)"/>
<ellipse cx="189.2" cy="370.5" rx="5.7" ry="5.6" transform="rotate(156 189.2 370.5)" fill="url(#pg3)"/>
<ellipse cx="270.4" cy="395.0" rx="4.5" ry="2.6" transform="rotate(149 270.4 395.0)" fill="url(#pg2)"/>
<ellipse cx="209.6" cy="521.7" rx="8.5" ry="3.2" transform="rotate(80 209.6 521.7)" fill="url(#pg1)"/>
<ellipse cx="312.0" cy="312.9" rx="3.7" ry="5.0" transform="rotate(38 312.0 312.9)" fill="url(#pg2)"/>
<ellipse cx="324.2" cy="473.0" rx="5.7" ry="4.2" transform="rotate(145 324.2 473.0)" fill="url(#pg1)"/>
<ellipse cx="351.3" cy="370.1" rx="6.0" ry="4.4" transform="rotate(162 351.3 370.1)" fill="url(#pg1)"/>
<ellipse cx="219.6" cy="450.5" rx="4.5" ry="4.0" transform="rotate(179 219.6 450.5)" fill="url(#pg3)"/>
<ellipse cx="226.1" cy="302.7" rx="5.9" ry="4.9" transform="rotate(17 226.1 302.7)" fill="url(#pg2)"/>
<ellipse cx="215.5" cy="278.4" rx="3.7" ry="3.9" transform="rotate(67 215.5 278.4)" fill="url(#pg1)"/>
<ellipse cx="258.1" cy="343.9" rx="4.7" ry="2.9" transform="rotate(171 258.1 343.9)" fill="url(#pg1)"/>
<ellipse cx="274.4" cy="316.7" rx="6.5" ry="2.6" transform="rotate(90 274.4 316.7)" fill="url(#pg1)"/>
<ellipse cx="233.9" cy="515.7" rx="7.7" ry="3.7" transform="rotate(95 233.9 515.7)" fill="url(#pg1)"/>
<ellipse cx="231.3" cy="423.8" rx="4.5" ry="2.6" transform="rotate(160 231.3 423.8)" fill="url(#pg3)"/>
<ellipse cx="258.5" cy="398.5" rx="4.7" ry="2.1" transform="rotate(124 258.5 398.5)" fill="url(#pg3)"/>
<ellipse cx="243.8" cy="365.1" rx="6.4" ry="4.2" transform="rotate(68 243.8 365.1)" fill="url(#pg1)"/>
<ellipse cx="260.8" cy="220.7" rx="5.5" ry="3.8" transform="rotate(107 260.8 220.7)" fill="url(#pg1)"/>
<ellipse cx="308.7" cy="313.9" rx="7.9" ry="3.0" transform="rotate(72 308.7 313.9)" fill="url(#pg1)"/>
<ellipse cx="311.9" cy="507.9" rx="3.1" ry="3.1" transform="rotate(166 311.9 507.9)" fill="url(#pg1)"/>
<ellipse cx="328.3" cy="474.8" rx="6.9" ry="2.6" transform="rotate(12 328.3 474.8)" fill="url(#pg1)"/>
<ellipse cx="303.0" cy="293.2" rx="6.1" ry="4.2" transform="rotate(97 303.0 293.2)" fill="url(#pg3)"/>
<ellipse cx="192.1" cy="302.8" rx="4.2" ry="5.1" transform="rotate(100 192.1 302.8)" fill="url(#pg3)"/>
<ellipse cx="256.8" cy="228.6" rx="8.4" ry="3.3" transform="rotate(12 256.8 228.6)" fill="url(#pg1)"/>
<ellipse cx="324.5" cy="269.3" rx="4.5" ry="1.8" transform="rotate(172 324.5 269.3)" fill="url(#pg1)"/>
<ellipse cx="189.1" cy="339.0" rx="6.9" ry="3.9" transform="rotate(162 189.1 339.0)" fill="url(#pg1)"/>
<ellipse cx="264.4" cy="315.0" rx="8.8" ry="3.4" transform="rotate(101 264.4 315.0)" fill="url(#pg3)"/>
<ellipse cx="231.3" cy="481.1" rx="7.2" ry="3.2" transform="rotate(170 231.3 481.1)" fill="url(#pg1)"/>
<ellipse cx="299.4" cy="270.0" rx="4.4" ry="2.3" transform="rotate(84 299.4 270.0)" fill="url(#pg1)"/>
<ellipse cx="209.8" cy="295.9" rx="5.0" ry="2.8" transform="rotate(55 209.8 295.9)" fill="url(#pg1)"/>
<ellipse cx="308.3" cy="329.6" rx="4.3" ry="3.2" transform="rotate(26 308.3 329.6)" fill="url(#pg2)"/>
<ellipse cx="241.3" cy="482.3" rx="4.8" ry="3.3" transform="rotate(91 241.3 482.3)" fill="url(#pg1)"/>
<ellipse cx="224.5" cy="443.6" rx="4.5" ry="2.7" transform="rotate(51 224.5 443.6)" fill="url(#pg2)"/>
<ellipse cx="289.4" cy="284.9" rx="4.2" ry="4.1" transform="rotate(75 289.4 284.9)" fill="url(#pg1)"/>
<ellipse cx="246.4" cy="231.3" rx="4.3" ry="3.7" transform="rotate(79 246.4 231.3)" fill="url(#pg2)"/>
<ellipse cx="213.0" cy="440.7" rx="4.9" ry="4.5" transform="rotate(74 213.0 440.7)" fill="url(#pg1)"/>
<ellipse cx="233.4" cy="302.4" rx="4.7" ry="2.0" transform="rotate(138 233.4 302.4)" fill="url(#pg1)"/>
<ellipse cx="267.4" cy="243.0" rx="4.9" ry="5.8" transform="rotate(65 267.4 243.0)" fill="url(#pg2)"/>
<ellipse cx="325.4" cy="499.9" rx="4.6" ry="4.8" transform="rotate(13 325.4 499.9)" fill="url(#pg1)"/>
<ellipse cx="249.9" cy="314.9" rx="6.2" ry="3.6" transform="rotate(175 249.9 314.9)" fill="url(#pg1)"/>
<ellipse cx="328.2" cy="425.8" rx="3.3" ry="1.3" transform="rotate(12 328.2 425.8)" fill="url(#pg3)"/>
<ellipse cx="291.1" cy="472.4" rx="6.8" ry="4.3" transform="rotate(105 291.1 472.4)" fill="url(#pg3)"/>
<ellipse cx="229.5" cy="257.5" rx="5.6" ry="2.8" transform="rotate(15 229.5 257.5)" fill="url(#pg1)"/>
<ellipse cx="319.1" cy="510.8" rx="7.5" ry="2.9" transform="rotate(85 319.1 510.8)" fill="url(#pg1)"/>
<ellipse cx="243.1" cy="261.7" rx="4.4" ry="3.4" transform="rotate(150 243.1 261.7)" fill="url(#pg1)"/>
<ellipse cx="173.4" cy="347.1" rx="7.0" ry="2.7" transform="rotate(140 173.4 347.1)" fill="url(#pg1)"/>
<ellipse cx="214.8" cy="378.4" rx="4.1" ry="2.5" transform="rotate(23 214.8 378.4)" fill="url(#pg1)"/>
<ellipse cx="259.6" cy="312.4" rx="4.0" ry="3.7" transform="rotate(106 259.6 312.4)" fill="url(#pg3)"/>
<ellipse cx="247.1" cy="395.3" rx="6.2" ry="2.7" transform="rotate(19 247.1 395.3)" fill="url(#pg1)"/>
<ellipse cx="181.0" cy="397.4" rx="4.4" ry="2.5" transform="rotate(173 181.0 397.4)" fill="url(#pg1)"/>
<ellipse cx="307.9" cy="446.6" rx="4.1" ry="2.6" transform="rotate(5 307.9 446.6)" fill="url(#pg1)"/>
<ellipse cx="316.8" cy="339.4" rx="3.7" ry="3.6" transform="rotate(97 316.8 339.4)" fill="url(#pg3)"/>
<ellipse cx="220.7" cy="372.3" rx="7.1" ry="3.0" transform="rotate(170 220.7 372.3)" fill="url(#pg1)"/>
<ellipse cx="234.8" cy="309.4" rx="5.1" ry="4.7" transform="rotate(66 234.8 309.4)" fill="url(#pg3)"/>
<ellipse cx="320.2" cy="337.7" rx="5.1" ry="4.2" transform="rotate(21 320.2 337.7)" fill="url(#pg2)"/>
<ellipse cx="263.5" cy="391.8" rx="4.0" ry="3.8" transform="rotate(18 263.5 391.8)" fill="url(#pg2)"/>
<ellipse cx="354.5" cy="382.6" rx="6.1" ry="3.0" transform="rotate(67 354.5 382.6)" fill="url(#pg1)"/>
<ellipse cx="278.6" cy="332.5" rx="4.8" ry="2.8" transform="rotate(106 278.6 332.5)" fill="url(#pg2)"/>
<ellipse cx="313.1" cy="324.4" rx="5.3" ry="5.1" transform="rotate(106 313.1 324.4)" fill="url(#pg3)"/>
<ellipse cx="289.2" cy="334.0" rx="4.0" ry="2.4" transform="rotate(18 289.2 334.0)" fill="url(#pg3)"/>
<ellipse cx="220.6" cy="315.4" rx="7.5" ry="3.5" transform="rotate(116 220.6 315.4)" fill="url(#pg1)"/>
<ellipse cx="235.0" cy="237.8" rx="3.6" ry="2.9" transform="rotate(129 235.0 237.8)" fill="url(#pg1)"/>
<ellipse cx="308.4" cy="348.9" rx="7.6" ry="2.9" transform="rotate(165 308.4 348.9)" fill="url(#pg1)"/>
<ellipse cx="297.3" cy="256.5" rx="6.8" ry="3.6" transform="rotate(144 297.3 256.5)" fill="url(#pg3)"/>
<ellipse cx="218.8" cy="453.9" rx="2.8" ry="3.2" transform="rotate(150 218.8 453.9)" fill="url(#pg1)"/>
<ellipse cx="301.1" cy="341.9" rx="6.4" ry="3.5" transform="rotate(20 301.1 341.9)" fill="url(#pg1)"/>
<ellipse cx="170.9" cy="317.6" rx="5.1" ry="2.0" transform="rotate(28 170.9 317.6)" fill="url(#pg2)"/>
<ellipse cx="251.6" cy="220.4" rx="4.6" ry="3.5" transform="rotate(121 251.6 220.4)" fill="url(#pg3)"/>
<ellipse cx="256.1" cy="438.9" rx="3.4" ry="1.6" transform="rotate(19 256.1 438.9)" fill="url(#pg1)"/>
<ellipse cx="316.2" cy="317.6" rx="4.2" ry="1.9" transform="rotate(117 316.2 317.6)" fill="url(#pg3)"/>
<ellipse cx="277.2" cy="382.6" rx="5.1" ry="3.0" transform="rotate(152 277.2 382.6)" fill="url(#pg2)"/>
<ellipse cx="315.7" cy="259.1" rx="2.7" ry="2.0" transform="rotate(16 315.7 259.1)" fill="url(#pg3)"/>
<ellipse cx="200.2" cy="296.7" rx="6.3" ry="3.8" transform="rotate(46 200.2 296.7)" fill="url(#pg1)"/>
<ellipse cx="322.6" cy="294.6" rx="3.6" ry="3.4" transform="rotate(163 322.6 294.6)" fill="url(#pg1)"/>
<ellipse cx="345.6" cy="361.3" rx="4.3" ry="4.1" transform="rotate(136 345.6 361.3)" fill="url(#pg1)"/>
<ellipse cx="296.1" cy="376.2" rx="5.2" ry="2.0" transform="rotate(63 296.1 376.2)" fill="url(#pg1)"/>
<ellipse cx="268.6" cy="320.6" rx="5.1" ry="2.0" transform="rotate(138 268.6 320.6)" fill="url(#pg2)"/>
<ellipse cx="197.0" cy="276.2" rx="3.1" ry="1.8" transform="rotate(22 197.0 276.2)" fill="url(#pg1)"/>
<ellipse cx="228.3" cy="525.7" rx="5.2" ry="4.5" transform="rotate(154 228.3 525.7)" fill="url(#pg2)"/>
<ellipse cx="173.7" cy="328.9" rx="5.1" ry="2.1" transform="rotate(120 173.7 328.9)" fill="url(#pg2)"/>
<ellipse cx="204.4" cy="253.7" rx="4.4" ry="3.9" transform="rotate(51 204.4 253.7)" fill="url(#pg2)"/>
<ellipse cx="233.8" cy="482.9" rx="4.1" ry="4.6" transform="rotate(16 233.8 482.9)" fill="url(#pg1)"/>
<ellipse cx="264.9" cy="429.1" rx="7.8" ry="3.7" transform="rotate(47 264.9 429.1)" fill="url(#pg1)"/>
<ellipse cx="241.8" cy="468.9" rx="5.9" ry="3.7" transform="rotate(87 241.8 468.9)" fill="url(#pg2)"/>
<ellipse cx="224.3" cy="281.8" rx="4.9" ry="4.4" transform="rotate(131 224.3 281.8)" fill="url(#pg1)"/>
<ellipse cx="309.7" cy="310.4" rx="4.4" ry="1.8" transform="rotate(173 309.7 310.4)" fill="url(#pg1)"/>
<ellipse cx="333.9" cy="470.6" rx="3.9" ry="4.7" transform="rotate(95 333.9 470.6)" fill="url(#pg1)"/>
<ellipse cx="205.1" cy="282.8" rx="3.5" ry="3.7" transform="rotate(97 205.1 282.8)" fill="url(#pg1)"/>
<ellipse cx="334.6" cy="520.4" rx="3.5" ry="2.3" transform="rotate(106 334.6 520.4)" fill="url(#pg2)"/>
<ellipse cx="328.4" cy="438.6" rx="5.6" ry="3.3" transform="rotate(136 328.4 438.6)" fill="url(#pg1)"/>
<ellipse cx="329.2" cy="345.3" rx="4.2" ry="3.4" transform="rotate(3 329.2 345.3)" fill="url(#pg1)"/>
<ellipse cx="206.4" cy="404.4" rx="4.8" ry="3.9" transform="rotate(121 206.4 404.4)" fill="url(#pg3)"/>
<ellipse cx="239.1" cy="276.7" rx="4.1" ry="2.8" transform="rotate(40 239.1 276.7)" fill="url(#pg2)"/>
<ellipse cx="281.2" cy="407.7" rx="5.7" ry="3.4" transform="rotate(4 281.2 407.7)" fill="url(#pg2)"/>
<ellipse cx="199.9" cy="310.1" rx="5.3" ry="2.7" transform="rotate(121 199.9 310.1)" fill="url(#pg1)"/>
<ellipse cx="266.1" cy="236.1" rx="5.2" ry="4.8" transform="rotate(39 266.1 236.1)" fill="url(#pg3)"/>
<ellipse cx="269.8" cy="255.8" rx="4.3" ry="5.2" transform="rotate(13 269.8 255.8)" fill="url(#pg3)"/>
<ellipse cx="294.1" cy="287.2" rx="5.7" ry="5.5" transform="rotate(163 294.1 287.2)" fill="url(#pg1)"/>
<ellipse cx="252.3" cy="481.7" rx="2.9" ry="1.9" transform="rotate(68 252.3 481.7)" fill="url(#pg1)"/>
<ellipse cx="241.3" cy="262.6" rx="2.9" ry="3.1" transform="rotate(89 241.3 262.6)" fill="url(#pg1)"/>
<ellipse cx="247.6" cy="333.6" rx="3.3" ry="3.0" transform="rotate(169 247.6 333.6)" fill="url(#pg1)"/>
<ellipse cx="295.4" cy="250.9" rx="4.8" ry="2.9" transform="rotate(49 295.4 250.9)" fill="url(#pg3)"/>
<ellipse cx="313.9" cy="384.9" rx="5.0" ry="6.0" transform="rotate(40 313.9 384.9)" fill="url(#pg1)"/>
<ellipse cx="287.2" cy="244.8" rx="6.4" ry="2.7" transform="rotate(108 287.2 244.8)" fill="url(#pg2)"/>
<ellipse cx="250.0" cy="273.3" rx="8.8" ry="3.4" transform="rotate(4 250.0 273.3)" fill="url(#pg3)"/>
<ellipse cx="266.8" cy="303.5" rx="3.4" ry="2.5" transform="rotate(148 266.8 303.5)" fill="url(#pg1)"/>
<ellipse cx="223.5" cy="265.2" rx="6.2" ry="5.0" transform="rotate(153 223.5 265.2)" fill="url(#pg2)"/>
<ellipse cx="297.9" cy="293.3" rx="4.8" ry="5.0" transform="rotate(26 297.9 293.3)" fill="url(#pg3)"/>
<ellipse cx="242.4" cy="404.8" rx="5.6" ry="2.2" transform="rotate(88 242.4 404.8)" fill="url(#pg1)"/>
<ellipse cx="250.7" cy="396.4" rx="7.8" ry="3.8" transform="rotate(168 250.7 396.4)" fill="url(#pg2)"/>
<ellipse cx="200.6" cy="403.8" rx="5.1" ry="2.1" transform="rotate(51 200.6 403.8)" fill="url(#pg1)"/>
<ellipse cx="253.1" cy="247.2" rx="7.2" ry="3.3" transform="rotate(117 253.1 247.2)" fill="url(#pg1)"/>
<ellipse cx="292.5" cy="343.1" rx="6.3" ry="2.8" transform="rotate(102 292.5 343.1)" fill="url(#pg1)"/>
<ellipse cx="169.3" cy="375.2" rx="4.9" ry="2.7" transform="rotate(175 169.3 375.2)" fill="url(#pg2)"/>
<ellipse cx="265.8" cy="226.7" rx="3.2" ry="4.0" transform="rotate(105 265.8 226.7)" fill="url(#pg3)"/>
<ellipse cx="321.6" cy="294.5" rx="6.6" ry="4.3" transform="rotate(77 321.6 294.5)" fill="url(#pg1)"/>
<ellipse cx="353.4" cy="372.6" rx="4.5" ry="3.9" transform="rotate(151 353.4 372.6)" fill="url(#pg2)"/>
<ellipse cx="298.3" cy="358.1" rx="5.0" ry="2.7" transform="rotate(23 298.3 358.1)" fill="url(#pg1)"/>
<ellipse cx="321.4" cy="446.3" rx="7.5" ry="3.5" transform="rotate(32 321.4 446.3)" fill="url(#pg3)"/>
<ellipse cx="215.2" cy="291.0" rx="4.7" ry="6.2" transform="rotate(92 215.2 291.0)" fill="url(#pg2)"/>
<ellipse cx="251.2" cy="423.8" rx="5.5" ry="4.1" transform="rotate(169 251.2 423.8)" fill="url(#pg1)"/>
<ellipse cx="205.8" cy="305.6" rx="4.1" ry="3.7" transform="rotate(110 205.8 305.6)" fill="url(#pg2)"/>
<ellipse cx="315.3" cy="470.7" rx="6.8" ry="4.1" transform="rotate(170 315.3 470.7)" fill="url(#pg3)"/>
<ellipse cx="198.4" cy="446.1" rx="3.9" ry="1.7" transform="rotate(90 198.4 446.1)" fill="url(#pg1)"/>
<ellipse cx="199.6" cy="415.3" rx="3.1" ry="3.2" transform="rotate(78 199.6 415.3)" fill="url(#pg3)"/>
<ellipse cx="208.7" cy="272.2" rx="6.4" ry="3.4" transform="rotate(170 208.7 272.2)" fill="url(#pg2)"/>
<ellipse cx="274.8" cy="310.6" rx="3.7" ry="4.6" transform="rotate(20 274.8 310.6)" fill="url(#pg1)"/>
<ellipse cx="262.3" cy="372.0" rx="4.4" ry="1.9" transform="rotate(96 262.3 372.0)" fill="url(#pg3)"/>
<ellipse cx="312.7" cy="384.7" rx="5.7" ry="2.3" transform="rotate(66 312.7 384.7)" fill="url(#pg3)"/>
<ellipse cx="220.4" cy="233.2" rx="2.7" ry="2.1" transform="rotate(95 220.4 233.2)" fill="url(#pg3)"/>
<ellipse cx="196.3" cy="515.5" rx="5.2" ry="2.1" transform="rotate(14 196.3 515.5)" fill="url(#pg3)"/>
<ellipse cx="243.1" cy="437.6" rx="6.3" ry="3.9" transform="rotate(115 243.1 437.6)" fill="url(#pg2)"/>
<ellipse cx="276.0" cy="349.3" rx="2.6" ry="3.1" transform="rotate(33 276.0 349.3)" fill="url(#pg1)"/>
<ellipse cx="282.3" cy="271.0" rx="8.1" ry="3.8" transform="rotate(105 282.3 271.0)" fill="url(#pg2)"/>
<ellipse cx="207.7" cy="474.7" rx="2.6" ry="3.3" transform="rotate(11 207.7 474.7)" fill="url(#pg1)"/>
<ellipse cx="204.3" cy="510.3" rx="3.7" ry="5.1" transform="rotate(84 204.3 510.3)" fill="url(#pg3)"/>
<ellipse cx="202.6" cy="480.5" rx="5.3" ry="2.3" transform="rotate(74 202.6 480.5)" fill="url(#pg1)"/>
<ellipse cx="302.8" cy="252.7" rx="3.6" ry="2.4" transform="rotate(3 302.8 252.7)" fill="url(#pg1)"/>
<ellipse cx="309.7" cy="452.5" rx="4.6" ry="4.5" transform="rotate(44 309.7 452.5)" fill="url(#pg3)"/>
<ellipse cx="329.6" cy="449.4" rx="6.3" ry="3.1" transform="rotate(157 329.6 449.4)" fill="url(#pg1)"/>
<ellipse cx="205.3" cy="472.7" rx="5.8" ry="4.0" transform="rotate(66 205.3 472.7)" fill="url(#pg3)"/>
<ellipse cx="194.0" cy="354.5" rx="3.0" ry="3.9" transform="rotate(157 194.0 354.5)" fill="url(#pg1)"/>
<ellipse cx="247.9" cy="367.2" rx="6.4" ry="4.4" transform="rotate(68 247.9 367.2)" fill="url(#pg3)"/>
<ellipse cx="198.8" cy="285.9" rx="5.9" ry="3.4" transform="rotate(179 198.8 285.9)" fill="url(#pg3)"/>
<ellipse cx="243.5" cy="426.9" rx="5.0" ry="2.4" transform="rotate(97 243.5 426.9)" fill="url(#pg2)"/>
<ellipse cx="271.1" cy="339.9" rx="5.8" ry="4.6" transform="rotate(77 271.1 339.9)" fill="url(#pg1)"/>
<ellipse cx="281.9" cy="283.3" rx="6.4" ry="2.4" transform="rotate(35 281.9 283.3)" fill="url(#pg3)"/>
<ellipse cx="326.6" cy="488.0" rx="5.1" ry="3.0" transform="rotate(128 326.6 488.0)" fill="url(#pg2)"/>
<ellipse cx="310.5" cy="402.2" rx="4.9" ry="2.5" transform="rotate(101 310.5 402.2)" fill="url(#pg1)"/>
<ellipse cx="317.8" cy="317.8" rx="7.7" ry="3.1" transform="rotate(49 317.8 317.8)" fill="url(#pg2)"/>
<ellipse cx="263.6" cy="374.4" rx="4.4" ry="2.5" transform="rotate(161 263.6 374.4)" fill="url(#pg3)"/>
<ellipse cx="212.2" cy="477.6" rx="3.9" ry="4.1" transform="rotate(109 212.2 477.6)" fill="url(#pg3)"/>
<ellipse cx="249.5" cy="395.0" rx="3.5" ry="4.7" transform="rotate(52 249.5 395.0)" fill="url(#pg3)"/>
<ellipse cx="214.6" cy="439.7" rx="7.1" ry="3.2" transform="rotate(68 214.6 439.7)" fill="url(#pg2)"/>
<ellipse cx="181.5" cy="402.0" rx="5.4" ry="3.4" transform="rotate(72 181.5 402.0)" fill="url(#pg3)"/>
<ellipse cx="181.9" cy="313.3" rx="8.3" ry="3.4" transform="rotate(45 181.9 313.3)" fill="url(#pg1)"/>
<ellipse cx="293.1" cy="306.7" rx="5.0" ry="2.8" transform="rotate(65 293.1 306.7)" fill="url(#pg2)"/>
<ellipse cx="222.5" cy="501.6" rx="4.2" ry="2.8" transform="rotate(56 222.5 501.6)" fill="url(#pg3)"/>
<ellipse cx="210.5" cy="377.7" rx="4.9" ry="3.0" transform="rotate(108 210.5 377.7)" fill="url(#pg2)"/>
<ellipse cx="223.4" cy="356.1" rx="6.0" ry="2.7" transform="rotate(165 223.4 356.1)" fill="url(#pg1)"/>
<ellipse cx="251.7" cy="410.7" rx="5.5" ry="2.6" transform="rotate(57 251.7 410.7)" fill="url(#pg1)"/>
<ellipse cx="253.0" cy="229.6" rx="5.7" ry="3.1" transform="rotate(153 253.0 229.6)" fill="url(#pg1)"/>
<ellipse cx="314.8" cy="435.9" rx="4.8" ry="6.3" transform="rotate(58 314.8 435.9)" fill="url(#pg2)"/>
<ellipse cx="313.8" cy="373.3" rx="5.0" ry="3.8" transform="rotate(143 313.8 373.3)" fill="url(#pg3)"/>
<ellipse cx="187.9" cy="300.5" rx="6.5" ry="3.4" transform="rotate(58 187.9 300.5)" fill="url(#pg3)"/>
<ellipse cx="317.6" cy="283.4" rx="3.0" ry="2.7" transform="rotate(1 317.6 283.4)" fill="url(#pg2)"/>
<ellipse cx="228.3" cy="348.3" rx="3.3" ry="3.3" transform="rotate(29 228.3 348.3)" fill="url(#pg1)"/>
<ellipse cx="250.9" cy="379.9" rx="5.7" ry="2.4" transform="rotate(136 250.9 379.9)" fill="url(#pg3)"/>
<ellipse cx="298.9" cy="376.2" rx="4.6" ry="3.5" transform="rotate(91 298.9 376.2)" fill="url(#pg3)"/>
<ellipse cx="245.5" cy="401.0" rx="8.3" ry="3.8" transform="rotate(152 245.5 401.0)" fill="url(#pg2)"/>
<ellipse cx="283.4" cy="304.8" rx="5.1" ry="2.2" transform="rotate(151 283.4 304.8)" fill="url(#pg3)"/>
<ellipse cx="298.7" cy="457.2" rx="4.7" ry="3.5" transform="rotate(100 298.7 457.2)" fill="url(#pg1)"/>
<ellipse cx="358.8" cy="390.4" rx="3.3" ry="2.7" transform="rotate(155 358.8 390.4)" fill="url(#pg2)"/>
<ellipse cx="181.9" cy="339.3" rx="4.3" ry="4.9" transform="rotate(101 181.9 339.3)" fill="url(#pg3)"/>
<ellipse cx="277.2" cy="391.5" rx="4.2" ry="2.1" transform="rotate(12 277.2 391.5)" fill="url(#pg1)"/>
<ellipse cx="294.9" cy="282.0" rx="5.2" ry="3.2" transform="rotate(61 294.9 282.0)" fill="url(#pg1)"/>
<ellipse cx="202.2" cy="313.3" rx="5.1" ry="2.2" transform="rotate(94 202.2 313.3)" fill="url(#pg1)"/>
<ellipse cx="206.4" cy="480.4" rx="7.0" ry="3.4" transform="rotate(10 206.4 480.4)" fill="url(#pg1)"/>
<ellipse cx="306.1" cy="447.6" rx="6.8" ry="3.8" transform="rotate(133 306.1 447.6)" fill="url(#pg3)"/>
<ellipse cx="323.1" cy="509.2" rx="5.4" ry="4.5" transform="rotate(21 323.1 509.2)" fill="url(#pg1)"/>
<ellipse cx="271.1" cy="337.1" rx="5.4" ry="4.9" transform="rotate(129 271.1 337.1)" fill="url(#pg1)"/>
<ellipse cx="239.3" cy="427.4" rx="3.8" ry="2.2" transform="rotate(49 239.3 427.4)" fill="url(#pg1)"/>
<ellipse cx="212.3" cy="490.4" rx="7.7" ry="3.0" transform="rotate(121 212.3 490.4)" fill="url(#pg3)"/>
<ellipse cx="276.5" cy="250.5" rx="3.3" ry="3.7" transform="rotate(65 276.5 250.5)" fill="url(#pg2)"/>
<ellipse cx="269.9" cy="339.3" rx="7.4" ry="4.1" transform="rotate(109 269.9 339.3)" fill="url(#pg1)"/>
<ellipse cx="257.5" cy="375.9" rx="6.4" ry="3.9" transform="rotate(43 257.5 375.9)" fill="url(#pg1)"/>
<ellipse cx="254.2" cy="224.2" rx="6.9" ry="2.7" transform="rotate(23 254.2 224.2)" fill="url(#pg3)"/>
<ellipse cx="250.6" cy="490.2" rx="3.7" ry="1.8" transform="rotate(137 250.6 490.2)" fill="url(#pg1)"/>
<ellipse cx="225.4" cy="232.3" rx="4.8" ry="2.7" transform="rotate(161 225.4 232.3)" fill="url(#pg1)"/>
<ellipse cx="338.5" cy="336.5" rx="2.7" ry="3.4" transform="rotate(152 338.5 336.5)" fill="url(#pg1)"/>
<ellipse cx="277.4" cy="286.4" rx="4.0" ry="2.8" transform="rotate(79 277.4 286.4)" fill="url(#pg1)"/>
<ellipse cx="287.7" cy="265.8" rx="4.2" ry="2.6" transform="rotate(68 287.7 265.8)" fill="url(#pg1)"/>
<ellipse cx="231.3" cy="458.0" rx="2.6" ry="3.6" transform="rotate(55 231.3 458.0)" fill="url(#pg1)"/>
<ellipse cx="191.6" cy="321.5" rx="4.4" ry="1.9" transform="rotate(106 191.6 321.5)" fill="url(#pg3)"/>
<ellipse cx="212.3" cy="304.9" rx="4.6" ry="4.8" transform="rotate(144 212.3 304.9)" fill="url(#pg2)"/>
<ellipse cx="290.4" cy="297.6" rx="3.8" ry="3.5" transform="rotate(179 290.4 297.6)" fill="url(#pg1)"/>
<ellipse cx="189.9" cy="340.6" rx="7.5" ry="3.6" transform="rotate(20 189.9 340.6)" fill="url(#pg1)"/>
<ellipse cx="309.2" cy="497.5" rx="5.1" ry="2.9" transform="rotate(173 309.2 497.5)" fill="url(#pg2)"/>
<ellipse cx="180.9" cy="344.0" rx="4.2" ry="4.6" transform="rotate(141 180.9 344.0)" fill="url(#pg1)"/>
<ellipse cx="243.4" cy="402.2" rx="5.4" ry="2.1" transform="rotate(70 243.4 402.2)" fill="url(#pg2)"/>
<ellipse cx="246.2" cy="494.6" rx="5.9" ry="5.3" transform="rotate(66 246.2 494.6)" fill="url(#pg1)"/>
<ellipse cx="266.6" cy="297.3" rx="5.1" ry="2.9" transform="rotate(132 266.6 297.3)" fill="url(#pg1)"/>
<ellipse cx="220.6" cy="301.4" rx="7.5" ry="4.2" transform="rotate(12 220.6 301.4)" fill="url(#pg1)"/>
<ellipse cx="322.3" cy="269.1" rx="5.0" ry="3.4" transform="rotate(121 322.3 269.1)" fill="url(#pg2)"/>
<ellipse cx="218.3" cy="342.0" rx="5.3" ry="2.6" transform="rotate(83 218.3 342.0)" fill="url(#pg1)"/>
<ellipse cx="278.8" cy="437.5" rx="6.0" ry="2.7" transform="rotate(98 278.8 437.5)" fill="url(#pg1)"/>
<ellipse cx="273.1" cy="433.9" rx="5.0" ry="6.2" transform="rotate(18 273.1 433.9)" fill="url(#pg1)"/>
<ellipse cx="205.1" cy="294.9" rx="6.1" ry="2.7" transform="rotate(169 205.1 294.9)" fill="url(#pg1)"/>
<ellipse cx="264.3" cy="252.5" rx="6.7" ry="3.0" transform="rotate(62 264.3 252.5)" fill="url(#pg1)"/>
<ellipse cx="230.2" cy="425.7" rx="4.6" ry="3.3" transform="rotate(115 230.2 425.7)" fill="url(#pg1)"/>
<ellipse cx="316.5" cy="420.1" rx="3.6" ry="4.8" transform="rotate(86 316.5 420.1)" fill="url(#pg2)"/>
<ellipse cx="183.7" cy="298.4" rx="2.6" ry="2.1" transform="rotate(66 183.7 298.4)" fill="url(#pg1)"/>
<ellipse cx="212.4" cy="361.3" rx="6.2" ry="2.9" transform="rotate(71 212.4 361.3)" fill="url(#pg3)"/>
<ellipse cx="354.9" cy="357.4" rx="4.1" ry="4.8" transform="rotate(41 354.9 357.4)" fill="url(#pg1)"/>
<ellipse cx="245.6" cy="308.0" rx="5.9" ry="2.5" transform="rotate(38 245.6 308.0)" fill="url(#pg1)"/>
<ellipse cx="307.7" cy="398.1" rx="3.6" ry="2.9" transform="rotate(33 307.7 398.1)" fill="url(#pg1)"/>
<ellipse cx="301.6" cy="351.0" rx="3.9" ry="2.4" transform="rotate(176 301.6 351.0)" fill="url(#pg2)"/>
<ellipse cx="320.0" cy="278.6" rx="3.9" ry="2.2" transform="rotate(85 320.0 278.6)" fill="url(#pg2)"/>
<ellipse cx="216.0" cy="348.7" rx="7.9" ry="3.1" transform="rotate(75 216.0 348.7)" fill="url(#pg1)"/>
<ellipse cx="218.9" cy="450.4" rx="7.8" ry="3.7" transform="rotate(7 218.9 450.4)" fill="url(#pg1)"/>
<ellipse cx="180.1" cy="391.4" rx="8.3" ry="3.6" transform="rotate(45 180.1 391.4)" fill="url(#pg2)"/>
<ellipse cx="338.1" cy="407.5" rx="3.7" ry="3.4" transform="rotate(121 338.1 407.5)" fill="url(#pg1)"/>
<ellipse cx="249.7" cy="249.3" rx="3.0" ry="3.1" transform="rotate(149 249.7 249.3)" fill="url(#pg3)"/>
<ellipse cx="332.0" cy="371.3" rx="3.1" ry="3.7" transform="rotate(41 332.0 371.3)" fill="url(#pg1)"/>
<ellipse cx="278.6" cy="413.6" rx="6.6" ry="3.8" transform="rotate(158 278.6 413.6)" fill="url(#pg3)"/>
<ellipse cx="237.4" cy="425.3" rx="4.5" ry="3.3" transform="rotate(66 237.4 425.3)" fill="url(#pg2)"/>
<ellipse cx="225.8" cy="326.9" rx="7.6" ry="3.5" transform="rotate(122 225.8 326.9)" fill="url(#pg2)"/>
<ellipse cx="233.0" cy="423.4" rx="3.9" ry="3.2" transform="rotate(18 233.0 423.4)" fill="url(#pg1)"/>
<ellipse cx="348.1" cy="310.5" rx="3.7" ry="4.1" transform="rotate(26 348.1 310.5)" fill="url(#pg1)"/>
<ellipse cx="255.3" cy="241.3" rx="4.2" ry="2.2" transform="rotate(170 255.3 241.3)" fill="url(#pg2)"/>
<ellipse cx="215.7" cy="369.2" rx="4.4" ry="2.6" transform="rotate(140 215.7 369.2)" fill="url(#pg3)"/>
<ellipse cx="247.5" cy="408.8" rx="3.3" ry="4.2" transform="rotate(76 247.5 408.8)" fill="url(#pg2)"/>
<ellipse cx="205.4" cy="254.3" rx="6.5" ry="3.2" transform="rotate(123 205.4 254.3)" fill="url(#pg1)"/>
<ellipse cx="238.3" cy="261.9" rx="7.3" ry="4.3" transform="rotate(161 238.3 261.9)" fill="url(#pg1)"/>
<ellipse cx="313.0" cy="424.4" rx="6.0" ry="2.9" transform="rotate(120 313.0 424.4)" fill="url(#pg1)"/>
<ellipse cx="323.3" cy="457.3" rx="7.0" ry="4.0" transform="rotate(148 323.3 457.3)" fill="url(#pg3)"/>
<ellipse cx="244.4" cy="364.5" rx="4.7" ry="4.1" transform="rotate(140 244.4 364.5)" fill="url(#pg2)"/>
<ellipse cx="172.3" cy="321.0" rx="4.9" ry="3.2" transform="rotate(68 172.3 321.0)" fill="url(#pg1)"/>
<ellipse cx="315.3" cy="406.2" rx="5.5" ry="4.0" transform="rotate(94 315.3 406.2)" fill="url(#pg1)"/>
<ellipse cx="242.0" cy="223.8" rx="3.6" ry="2.5" transform="rotate(99 242.0 223.8)" fill="url(#pg1)"/>
<ellipse cx="271.9" cy="389.0" rx="6.7" ry="2.6" transform="rotate(38 271.9 389.0)" fill="url(#pg3)"/>
<ellipse cx="284.7" cy="368.1" rx="5.6" ry="3.9" transform="rotate(127 284.7 368.1)" fill="url(#pg3)"/>
<ellipse cx="199.7" cy="508.8" rx="6.5" ry="4.4" transform="rotate(23 199.7 508.8)" fill="url(#pg2)"/>
<ellipse cx="332.1" cy="388.5" rx="6.0" ry="2.4" transform="rotate(5 332.1 388.5)" fill="url(#pg2)"/>
<ellipse cx="320.7" cy="377.9" rx="8.4" ry="3.6" transform="rotate(175 320.7 377.9)" fill="url(#pg1)"/>
<ellipse cx="183.1" cy="384.6" rx="6.9" ry="2.8" transform="rotate(99 183.1 384.6)" fill="url(#pg3)"/>
<ellipse cx="293.8" cy="284.5" rx="3.5" ry="4.2" transform="rotate(40 293.8 284.5)" fill="url(#pg1)"/>
<ellipse cx="216.9" cy="255.5" rx="6.7" ry="3.0" transform="rotate(69 216.9 255.5)" fill="url(#pg1)"/>
<ellipse cx="189.6" cy="323.3" rx="5.9" ry="2.8" transform="rotate(34 189.6 323.3)" fill="url(#pg1)"/>
<ellipse cx="193.0" cy="335.6" rx="3.8" ry="4.5" transform="rotate(151 193.0 335.6)" fill="url(#pg1)"/>
<ellipse cx="247.2" cy="327.9" rx="6.1" ry="2.8" transform="rotate(47 247.2 327.9)" fill="url(#pg1)"/>
<ellipse cx="347.8" cy="409.5" rx="3.6" ry="1.5" transform="rotate(31 347.8 409.5)" fill="url(#pg2)"/>
<ellipse cx="193.1" cy="477.1" rx="3.4" ry="2.9" transform="rotate(80 193.1 477.1)" fill="url(#pg2)"/>
<ellipse cx="193.8" cy="508.1" rx="3.0" ry="2.0" transform="rotate(9 193.8 508.1)" fill="url(#pg2)"/>
<ellipse cx="346.2" cy="477.8" rx="2.1" ry="2.6" transform="rotate(154 346.2 477.8)" fill="url(#pg3)"/>
<ellipse cx="307.2" cy="323.0" rx="3.1" ry="3.8" transform="rotate(9 307.2 323.0)" fill="url(#pg3)"/>
<ellipse cx="208.1" cy="306.9" rx="6.9" ry="4.3" transform="rotate(66 208.1 306.9)" fill="url(#pg3)"/>
<ellipse cx="295.0" cy="321.5" rx="4.8" ry="3.7" transform="rotate(49 295.0 321.5)" fill="url(#pg1)"/>
<ellipse cx="322.8" cy="407.6" rx="4.3" ry="5.6" transform="rotate(1 322.8 407.6)" fill="url(#pg1)"/>
<ellipse cx="318.8" cy="394.7" rx="4.7" ry="3.8" transform="rotate(135 318.8 394.7)" fill="url(#pg3)"/>
<ellipse cx="320.4" cy="487.4" rx="7.5" ry="3.8" transform="rotate(121 320.4 487.4)" fill="url(#pg3)"/>
<ellipse cx="329.8" cy="381.3" rx="8.7" ry="3.6" transform="rotate(150 329.8 381.3)" fill="url(#pg1)"/>
<ellipse cx="278.8" cy="254.0" rx="3.7" ry="2.2" transform="rotate(162 278.8 254.0)" fill="url(#pg2)"/>
<ellipse cx="255.2" cy="454.2" rx="2.7" ry="1.2" transform="rotate(1 255.2 454.2)" fill="url(#pg1)"/>
<ellipse cx="342.2" cy="335.7" rx="6.9" ry="3.3" transform="rotate(173 342.2 335.7)" fill="url(#pg3)"/>
<ellipse cx="302.5" cy="452.8" rx="4.7" ry="1.9" transform="rotate(95 302.5 452.8)" fill="url(#pg1)"/>
<ellipse cx="245.1" cy="292.6" rx="4.3" ry="2.5" transform="rotate(69 245.1 292.6)" fill="url(#pg3)"/>
<ellipse cx="176.7" cy="357.9" rx="4.9" ry="2.6" transform="rotate(20 176.7 357.9)" fill="url(#pg2)"/>
<ellipse cx="232.7" cy="381.0" rx="4.1" ry="4.5" transform="rotate(56 232.7 381.0)" fill="url(#pg1)"/>
<ellipse cx="328.2" cy="285.8" rx="4.2" ry="2.9" transform="rotate(116 328.2 285.8)" fill="url(#pg2)"/>
<ellipse cx="291.1" cy="307.8" rx="4.4" ry="4.9" transform="rotate(168 291.1 307.8)" fill="url(#pg1)"/>
<ellipse cx="291.5" cy="243.1" rx="2.9" ry="3.4" transform="rotate(157 291.5 243.1)" fill="url(#pg1)"/>
<ellipse cx="245.6" cy="302.3" rx="7.0" ry="4.1" transform="rotate(23 245.6 302.3)" fill="url(#pg2)"/>
<ellipse cx="315.0" cy="379.1" rx="4.5" ry="2.8" transform="rotate(119 315.0 379.1)" fill="url(#pg2)"/>
<ellipse cx="309.5" cy="255.2" rx="4.5" ry="1.8" transform="rotate(31 309.5 255.2)" fill="url(#pg1)"/>
<ellipse cx="330.8" cy="491.7" rx="6.6" ry="4.0" transform="rotate(13 330.8 491.7)" fill="url(#pg1)"/>
<ellipse cx="307.1" cy="372.0" rx="8.6" ry="3.3" transform="rotate(80 307.1 372.0)" fill="url(#pg1)"/>
<ellipse cx="293.0" cy="440.3" rx="5.2" ry="2.9" transform="rotate(12 293.0 440.3)" fill="url(#pg3)"/>
<ellipse cx="305.6" cy="476.5" rx="4.2" ry="4.1" transform="rotate(81 305.6 476.5)" fill="url(#pg1)"/>
<ellipse cx="326.3" cy="406.2" rx="4.7" ry="2.2" transform="rotate(121 326.3 406.2)" fill="url(#pg1)"/>
<ellipse cx="307.3" cy="413.7" rx="4.2" ry="3.4" transform="rotate(13 307.3 413.7)" fill="url(#pg1)"/>
<ellipse cx="332.6" cy="392.4" rx="3.6" ry="2.4" transform="rotate(87 332.6 392.4)" fill="url(#pg1)"/>
<ellipse cx="281.6" cy="330.6" rx="4.2" ry="1.9" transform="rotate(112 281.6 330.6)" fill="url(#pg3)"/>
<ellipse cx="220.1" cy="326.6" rx="6.5" ry="4.9" transform="rotate(49 220.1 326.6)" fill="url(#pg1)"/>
<ellipse cx="259.6" cy="328.5" rx="3.9" ry="2.2" transform="rotate(123 259.6 328.5)" fill="url(#pg2)"/>
<ellipse cx="214.8" cy="507.3" rx="4.5" ry="3.0" transform="rotate(94 214.8 507.3)" fill="url(#pg2)"/>
<ellipse cx="300.0" cy="328.8" rx="6.1" ry="2.6" transform="rotate(171 300.0 328.8)" fill="url(#pg1)"/>
<ellipse cx="336.3" cy="456.0" rx="2.8" ry="3.1" transform="rotate(135 336.3 456.0)" fill="url(#pg1)"/>
<ellipse cx="244.2" cy="363.9" rx="4.3" ry="3.6" transform="rotate(174 244.2 363.9)" fill="url(#pg1)"/>
<ellipse cx="205.8" cy="282.4" rx="4.8" ry="2.8" transform="rotate(58 205.8 282.4)" fill="url(#pg1)"/>
<ellipse cx="341.1" cy="515.9" rx="5.2" ry="2.3" transform="rotate(16 341.1 515.9)" fill="url(#pg1)"/>
<ellipse cx="253.7" cy="380.2" rx="4.9" ry="4.6" transform="rotate(130 253.7 380.2)" fill="url(#pg1)"/>
<ellipse cx="331.7" cy="465.5" rx="7.4" ry="3.2" transform="rotate(89 331.7 465.5)" fill="url(#pg3)"/>
<ellipse cx="295.8" cy="248.7" rx="6.7" ry="3.5" transform="rotate(59 295.8 248.7)" fill="url(#pg1)"/>
<ellipse cx="238.9" cy="384.6" rx="3.9" ry="3.3" transform="rotate(160 238.9 384.6)" fill="url(#pg2)"/>
<ellipse cx="194.0" cy="515.1" rx="2.2" ry="2.5" transform="rotate(179 194.0 515.1)" fill="url(#pg3)"/>
<ellipse cx="213.6" cy="287.4" rx="3.3" ry="3.6" transform="rotate(5 213.6 287.4)" fill="url(#pg3)"/>
<ellipse cx="274.9" cy="347.4" rx="6.7" ry="2.8" transform="rotate(55 274.9 347.4)" fill="url(#pg1)"/>
<ellipse cx="264.5" cy="244.1" rx="3.8" ry="2.2" transform="rotate(157 264.5 244.1)" fill="url(#pg1)"/>
<ellipse cx="202.4" cy="251.7" rx="5.6" ry="2.5" transform="rotate(145 202.4 251.7)" fill="url(#pg1)"/>
<ellipse cx="202.6" cy="261.8" rx="8.5" ry="3.5" transform="rotate(166 202.6 261.8)" fill="url(#pg3)"/>
<ellipse cx="339.3" cy="327.4" rx="3.4" ry="2.7" transform="rotate(37 339.3 327.4)" fill="url(#pg3)"/>
<ellipse cx="201.4" cy="493.2" rx="3.9" ry="3.1" transform="rotate(54 201.4 493.2)" fill="url(#pg1)"/>
<ellipse cx="244.9" cy="478.2" rx="5.3" ry="2.4" transform="rotate(44 244.9 478.2)" fill="url(#pg3)"/>
<ellipse cx="327.1" cy="298.1" rx="5.0" ry="3.8" transform="rotate(43 327.1 298.1)" fill="url(#pg3)"/>
<ellipse cx="198.1" cy="276.1" rx="3.3" ry="2.9" transform="rotate(100 198.1 276.1)" fill="url(#pg1)"/>
<ellipse cx="259.5" cy="324.2" rx="6.6" ry="4.2" transform="rotate(9 259.5 324.2)" fill="url(#pg3)"/>
<ellipse cx="339.4" cy="339.4" rx="5.5" ry="5.7" transform="rotate(131 339.4 339.4)" fill="url(#pg1)"/>
<ellipse cx="251.2" cy="325.0" rx="7.8" ry="3.5" transform="rotate(75 251.2 325.0)" fill="url(#pg1)"/>
<ellipse cx="277.7" cy="423.6" rx="7.5" ry="3.4" transform="rotate(25 277.7 423.6)" fill="url(#pg2)"/>
<ellipse cx="247.1" cy="342.7" rx="5.7" ry="3.2" transform="rotate(29 247.1 342.7)" fill="url(#pg3)"/>
<ellipse cx="328.8" cy="315.3" rx="4.0" ry="2.8" transform="rotate(83 328.8 315.3)" fill="url(#pg3)"/>
<ellipse cx="242.7" cy="497.7" rx="7.9" ry="3.9" transform="rotate(159 242.7 497.7)" fill="url(#pg2)"/>
<ellipse cx="215.1" cy="393.1" rx="8.6" ry="3.6" transform="rotate(103 215.1 393.1)" fill="url(#pg1)"/>
<ellipse cx="269.3" cy="387.6" rx="6.2" ry="2.4" transform="rotate(136 269.3 387.6)" fill="url(#pg3)"/>
<ellipse cx="325.8" cy="455.5" rx="6.3" ry="4.3" transform="rotate(79 325.8 455.5)" fill="url(#pg1)"/>
<ellipse cx="296.1" cy="449.3" rx="4.0" ry="2.6" transform="rotate(118 296.1 449.3)" fill="url(#pg1)"/>
<ellipse cx="269.0" cy="263.0" rx="5.4" ry="2.4" transform="rotate(105 269.0 263.0)" fill="url(#pg1)"/>
<ellipse cx="224.1" cy="490.5" rx="5.2" ry="3.5" transform="rotate(38 224.1 490.5)" fill="url(#pg3)"/>
<ellipse cx="203.0" cy="414.0" rx="7.7" ry="3.8" transform="rotate(50 203.0 414.0)" fill="url(#pg2)"/>
<ellipse cx="206.5" cy="275.5" rx="7.2" ry="3.3" transform="rotate(38 206.5 275.5)" fill="url(#pg2)"/>
<ellipse cx="186.3" cy="394.8" rx="4.2" ry="2.0" transform="rotate(7 186.3 394.8)" fill="url(#pg1)"/>
<ellipse cx="315.8" cy="403.3" rx="3.2" ry="3.9" transform="rotate(34 315.8 403.3)" fill="url(#pg1)"/>
<ellipse cx="342.6" cy="365.2" rx="5.1" ry="2.2" transform="rotate(0 342.6 365.2)" fill="url(#pg1)"/>
<ellipse cx="283.8" cy="403.3" rx="4.3" ry="3.3" transform="rotate(103 283.8 403.3)" fill="url(#pg1)"/>
<ellipse cx="293.0" cy="290.6" rx="3.0" ry="3.3" transform="rotate(145 293.0 290.6)" fill="url(#pg2)"/>
<ellipse cx="261.4" cy="411.1" rx="6.0" ry="3.2" transform="rotate(100 261.4 411.1)" fill="url(#pg1)"/>
<ellipse cx="213.0" cy="401.1" rx="3.5" ry="4.0" transform="rotate(169 213.0 401.1)" fill="url(#pg1)"/>
<ellipse cx="273.6" cy="382.1" rx="4.0" ry="4.1" transform="rotate(142 273.6 382.1)" fill="url(#pg1)"/>
<ellipse cx="299.2" cy="436.5" rx="4.4" ry="6.0" transform="rotate(119 299.2 436.5)" fill="url(#pg1)"/>
<ellipse cx="262.6" cy="267.1" rx="6.1" ry="3.5" transform="rotate(112 262.6 267.1)" fill="url(#pg3)"/>
<ellipse cx="251.3" cy="256.8" rx="5.3" ry="3.4" transform="rotate(95 251.3 256.8)" fill="url(#pg2)"/>
<ellipse cx="307.7" cy="404.4" rx="7.4" ry="4.2" transform="rotate(99 307.7 404.4)" fill="url(#pg1)"/>
<ellipse cx="212.0" cy="333.7" rx="5.7" ry="2.8" transform="rotate(129 212.0 333.7)" fill="url(#pg1)"/>
<ellipse cx="226.6" cy="258.6" rx="5.3" ry="3.4" transform="rotate(61 226.6 258.6)" fill="url(#pg1)"/>
<ellipse cx="232.7" cy="238.9" rx="3.7" ry="2.2" transform="rotate(129 232.7 238.9)" fill="url(#pg1)"/>
<ellipse cx="318.3" cy="354.8" rx="6.5" ry="3.7" transform="rotate(114 318.3 354.8)" fill="url(#pg2)"/>
<ellipse cx="293.4" cy="395.9" rx="4.2" ry="2.2" transform="rotate(127 293.4 395.9)" fill="url(#pg3)"/>
<ellipse cx="253.2" cy="451.4" rx="4.8" ry="3.6" transform="rotate(112 253.2 451.4)" fill="url(#pg2)"/>
<ellipse cx="186.6" cy="381.7" rx="5.2" ry="6.1" transform="rotate(155 186.6 381.7)" fill="url(#pg1)"/>
<ellipse cx="268.0" cy="276.4" rx="4.9" ry="5.9" transform="rotate(141 268.0 276.4)" fill="url(#pg1)"/>
<ellipse cx="333.9" cy="332.6" rx="5.3" ry="2.5" transform="rotate(110 333.9 332.6)" fill="url(#pg3)"/>
<ellipse cx="271.4" cy="351.0" rx="5.4" ry="2.1" transform="rotate(123 271.4 351.0)" fill="url(#pg2)"/>
<ellipse cx="254.8" cy="305.6" rx="3.4" ry="3.2" transform="rotate(79 254.8 305.6)" fill="url(#pg3)"/>
<ellipse cx="225.3" cy="504.9" rx="5.5" ry="3.1" transform="rotate(114 225.3 504.9)" fill="url(#pg1)"/>
<ellipse cx="267.5" cy="321.2" rx="4.9" ry="2.5" transform="rotate(79 267.5 321.2)" fill="url(#pg2)"/>
<ellipse cx="280.6" cy="416.7" rx="6.3" ry="2.4" transform="rotate(71 280.6 416.7)" fill="url(#pg3)"/>
<ellipse cx="274.2" cy="383.6" rx="5.6" ry="3.4" transform="rotate(171 274.2 383.6)" fill="url(#pg1)"/>
<ellipse cx="326.0" cy="301.5" rx="2.9" ry="2.9" transform="rotate(89 326.0 301.5)" fill="url(#pg3)"/>
<ellipse cx="217.8" cy="373.0" rx="7.5" ry="4.1" transform="rotate(154 217.8 373.0)" fill="url(#pg1)"/>
<ellipse cx="201.6" cy="333.6" rx="3.9" ry="4.4" transform="rotate(166 201.6 333.6)" fill="url(#pg3)"/>
<ellipse cx="198.2" cy="262.6" rx="4.3" ry="2.9" transform="rotate(42 198.2 262.6)" fill="url(#pg1)"/>
<ellipse cx="190.3" cy="377.8" rx="4.9" ry="4.6" transform="rotate(124 190.3 377.8)" fill="url(#pg2)"/>
<ellipse cx="247.9" cy="379.2" rx="3.0" ry="3.6" transform="rotate(116 247.9 379.2)" fill="url(#pg1)"/>
<ellipse cx="342.0" cy="473.9" rx="4.9" ry="4.0" transform="rotate(83 342.0 473.9)" fill="url(#pg1)"/>
<ellipse cx="245.7" cy="388.7" rx="7.2" ry="3.2" transform="rotate(141 245.7 388.7)" fill="url(#pg1)"/>
<ellipse cx="197.9" cy="417.2" rx="3.0" ry="4.1" transform="rotate(67 197.9 417.2)" fill="url(#pg3)"/>
<ellipse cx="237.1" cy="466.4" rx="4.3" ry="3.2" transform="rotate(12 237.1 466.4)" fill="url(#pg2)"/>
<ellipse cx="331.8" cy="282.7" rx="5.6" ry="2.6" transform="rotate(54 331.8 282.7)" fill="url(#pg1)"/>
<ellipse cx="248.5" cy="403.6" rx="4.6" ry="6.1" transform="rotate(57 248.5 403.6)" fill="url(#pg3)"/>
<ellipse cx="303.6" cy="389.7" rx="4.9" ry="3.8" transform="rotate(129 303.6 389.7)" fill="url(#pg3)"/>
<ellipse cx="255.8" cy="294.0" rx="5.8" ry="2.3" transform="rotate(86 255.8 294.0)" fill="url(#pg2)"/>
<ellipse cx="307.8" cy="430.1" rx="4.2" ry="2.0" transform="rotate(12 307.8 430.1)" fill="url(#pg1)"/>
<ellipse cx="324.0" cy="364.8" rx="3.7" ry="2.2" transform="rotate(33 324.0 364.8)" fill="url(#pg1)"/>
<ellipse cx="198.1" cy="465.5" rx="5.3" ry="2.5" transform="rotate(89 198.1 465.5)" fill="url(#pg3)"/>
<ellipse cx="286.8" cy="397.2" rx="5.4" ry="4.0" transform="rotate(152 286.8 397.2)" fill="url(#pg2)"/>
<ellipse cx="328.0" cy="466.3" rx="6.1" ry="3.7" transform="rotate(45 328.0 466.3)" fill="url(#pg1)"/>
<ellipse cx="286.9" cy="260.1" rx="4.5" ry="3.6" transform="rotate(162 286.9 260.1)" fill="url(#pg1)"/>
<ellipse cx="215.3" cy="441.3" rx="5.8" ry="4.8" transform="rotate(56 215.3 441.3)" fill="url(#pg3)"/>
<ellipse cx="275.6" cy="345.2" rx="5.9" ry="3.8" transform="rotate(51 275.6 345.2)" fill="url(#pg1)"/>
<ellipse cx="328.3" cy="348.7" rx="5.5" ry="3.5" transform="rotate(66 328.3 348.7)" fill="url(#pg1)"/>
<ellipse cx="324.1" cy="426.6" rx="6.3" ry="3.0" transform="rotate(14 324.1 426.6)" fill="url(#pg1)"/>
<ellipse cx="320.1" cy="302.8" rx="4.4" ry="1.9" transform="rotate(12 320.1 302.8)" fill="url(#pg2)"/>
<ellipse cx="224.7" cy="423.1" rx="5.7" ry="3.2" transform="rotate(171 224.7 423.1)" fill="url(#pg1)"/>
<ellipse cx="312.5" cy="284.8" rx="5.3" ry="2.6" transform="rotate(119 312.5 284.8)" fill="url(#pg1)"/>
<ellipse cx="247.2" cy="464.6" rx="7.3" ry="4.2" transform="rotate(118 247.2 464.6)" fill="url(#pg3)"/>
<ellipse cx="253.1" cy="336.0" rx="3.9" ry="2.3" transform="rotate(170 253.1 336.0)" fill="url(#pg2)"/>
<ellipse cx="336.5" cy="332.2" rx="6.8" ry="2.6" transform="rotate(62 336.5 332.2)" fill="url(#pg1)"/>
<ellipse cx="194.2" cy="463.1" rx="6.9" ry="3.0" transform="rotate(99 194.2 463.1)" fill="url(#pg2)"/>
<ellipse cx="275.0" cy="290.4" rx="3.7" ry="2.3" transform="rotate(75 275.0 290.4)" fill="url(#pg2)"/>
<ellipse cx="191.0" cy="339.1" rx="5.5" ry="3.8" transform="rotate(126 191.0 339.1)" fill="url(#pg1)"/>
<ellipse cx="280.8" cy="428.6" rx="5.6" ry="2.3" transform="rotate(63 280.8 428.6)" fill="url(#pg1)"/>
<ellipse cx="192.0" cy="353.8" rx="3.6" ry="4.3" transform="rotate(20 192.0 353.8)" fill="url(#pg2)"/>
<ellipse cx="232.9" cy="335.7" rx="4.2" ry="3.3" transform="rotate(29 232.9 335.7)" fill="url(#pg3)"/>
<ellipse cx="292.0" cy="306.4" rx="5.3" ry="4.8" transform="rotate(32 292.0 306.4)" fill="url(#pg1)"/>
<ellipse cx="330.8" cy="513.3" rx="6.4" ry="4.6" transform="rotate(107 330.8 513.3)" fill="url(#pg1)"/>
<ellipse cx="236.0" cy="329.4" rx="6.8" ry="4.5" transform="rotate(143 236.0 329.4)" fill="url(#pg1)"/>
<ellipse cx="286.0" cy="259.0" rx="4.8" ry="4.5" transform="rotate(111 286.0 259.0)" fill="url(#pg3)"/>
<ellipse cx="202.2" cy="385.2" rx="5.8" ry="4.7" transform="rotate(58 202.2 385.2)" fill="url(#pg1)"/>
<ellipse cx="265.0" cy="432.4" rx="5.0" ry="6.0" transform="rotate(59 265.0 432.4)" fill="url(#pg3)"/>
<ellipse cx="326.8" cy="446.9" rx="6.9" ry="3.9" transform="rotate(113 326.8 446.9)" fill="url(#pg3)"/>
<ellipse cx="215.4" cy="270.5" rx="3.4" ry="3.9" transform="rotate(5 215.4 270.5)" fill="url(#pg1)"/>
<ellipse cx="254.2" cy="386.9" rx="4.6" ry="4.8" transform="rotate(79 254.2 386.9)" fill="url(#pg2)"/>
<ellipse cx="326.5" cy="339.3" rx="4.8" ry="5.5" transform="rotate(78 326.5 339.3)" fill="url(#pg1)"/>
<ellipse cx="303.0" cy="361.2" rx="5.5" ry="4.9" transform="rotate(78 303.0 361.2)" fill="url(#pg1)"/>
<ellipse cx="307.6" cy="409.6" rx="4.1" ry="4.2" transform="rotate(116 307.6 409.6)" fill="url(#pg3)"/>
<ellipse cx="321.2" cy="339.6" rx="3.9" ry="3.6" transform="rotate(57 321.2 339.6)" fill="url(#pg2)"/>
<ellipse cx="222.8" cy="365.2" rx="5.3" ry="2.8" transform="rotate(69 222.8 365.2)" fill="url(#pg2)"/>
<ellipse cx="266.0" cy="436.3" rx="3.7" ry="2.6" transform="rotate(110 266.0 436.3)" fill="url(#pg3)"/>
<ellipse cx="246.6" cy="434.3" rx="6.3" ry="4.2" transform="rotate(42 246.6 434.3)" fill="url(#pg1)"/>
<ellipse cx="301.4" cy="456.0" rx="7.3" ry="2.9" transform="rotate(174 301.4 456.0)" fill="url(#pg2)"/>
<ellipse cx="307.8" cy="465.9" rx="6.4" ry="4.8" transform="rotate(71 307.8 465.9)" fill="url(#pg3)"/>
<ellipse cx="208.4" cy="394.8" rx="7.4" ry="3.2" transform="rotate(91 208.4 394.8)" fill="url(#pg3)"/>
<ellipse cx="255.4" cy="379.6" rx="3.9" ry="4.0" transform="rotate(36 255.4 379.6)" fill="url(#pg3)"/>
<ellipse cx="260.9" cy="222.8" rx="6.8" ry="3.0" transform="rotate(117 260.9 222.8)" fill="url(#pg1)"/>
<ellipse cx="251.8" cy="246.1" rx="5.2" ry="5.3" transform="rotate(38 251.8 246.1)" fill="url(#pg3)"/>
<ellipse cx="207.4" cy="271.9" rx="2.9" ry="3.7" transform="rotate(116 207.4 271.9)" fill="url(#pg1)"/>
<ellipse cx="204.1" cy="526.0" rx="4.8" ry="3.3" transform="rotate(167 204.1 526.0)" fill="url(#pg3)"/>
<ellipse cx="210.9" cy="238.4" rx="2.7" ry="3.4" transform="rotate(33 210.9 238.4)" fill="url(#pg2)"/>
<ellipse cx="187.7" cy="474.9" rx="3.1" ry="1.7" transform="rotate(14 187.7 474.9)" fill="url(#pg2)"/>
<ellipse cx="306.7" cy="397.5" rx="5.3" ry="4.0" transform="rotate(22 306.7 397.5)" fill="url(#pg1)"/>
<ellipse cx="205.5" cy="465.3" rx="6.0" ry="4.6" transform="rotate(145 205.5 465.3)" fill="url(#pg3)"/>
<ellipse cx="187.1" cy="316.3" rx="4.8" ry="6.3" transform="rotate(29 187.1 316.3)" fill="url(#pg1)"/>
<ellipse cx="313.9" cy="299.0" rx="4.6" ry="2.0" transform="rotate(175 313.9 299.0)" fill="url(#pg1)"/>
<ellipse cx="271.7" cy="238.2" rx="6.6" ry="3.6" transform="rotate(150 271.7 238.2)" fill="url(#pg3)"/>
<ellipse cx="249.3" cy="358.1" rx="6.7" ry="3.2" transform="rotate(106 249.3 358.1)" fill="url(#pg1)"/>
<ellipse cx="208.4" cy="507.6" rx="5.9" ry="4.7" transform="rotate(5 208.4 507.6)" fill="url(#pg3)"/>
<ellipse cx="313.3" cy="266.0" rx="5.6" ry="3.9" transform="rotate(39 313.3 266.0)" fill="url(#pg2)"/>
<ellipse cx="212.1" cy="237.4" rx="3.8" ry="1.6" transform="rotate(120 212.1 237.4)" fill="url(#pg1)"/>
<ellipse cx="210.5" cy="363.6" rx="5.4" ry="2.5" transform="rotate(37 210.5 363.6)" fill="url(#pg1)"/>
<ellipse cx="227.2" cy="354.8" rx="4.6" ry="2.5" transform="rotate(110 227.2 354.8)" fill="url(#pg1)"/>
<ellipse cx="255.3" cy="355.7" rx="2.9" ry="3.2" transform="rotate(100 255.3 355.7)" fill="url(#pg3)"/>
<ellipse cx="206.5" cy="369.2" rx="9.0" ry="3.5" transform="rotate(35 206.5 369.2)" fill="url(#pg3)"/>
<ellipse cx="205.5" cy="457.6" rx="4.4" ry="2.6" transform="rotate(133 205.5 457.6)" fill="url(#pg2)"/>
<ellipse cx="320.4" cy="329.1" rx="4.8" ry="2.7" transform="rotate(23 320.4 329.1)" fill="url(#pg1)"/>
<ellipse cx="255.8" cy="334.3" rx="5.8" ry="5.4" transform="rotate(69 255.8 334.3)" fill="url(#pg2)"/>
<ellipse cx="316.6" cy="360.4" rx="5.1" ry="6.1" transform="rotate(85 316.6 360.4)" fill="url(#pg2)"/>
<ellipse cx="222.7" cy="435.1" rx="2.8" ry="3.3" transform="rotate(16 222.7 435.1)" fill="url(#pg1)"/>
<ellipse cx="264.1" cy="240.3" rx="6.2" ry="4.0" transform="rotate(141 264.1 240.3)" fill="url(#pg3)"/>
<ellipse cx="271.7" cy="266.8" rx="2.9" ry="3.5" transform="rotate(78 271.7 266.8)" fill="url(#pg2)"/>
<ellipse cx="305.0" cy="414.4" rx="3.7" ry="4.2" transform="rotate(13 305.0 414.4)" fill="url(#pg3)"/>
<ellipse cx="277.9" cy="404.2" rx="4.4" ry="3.5" transform="rotate(25 277.9 404.2)" fill="url(#pg2)"/>
<ellipse cx="284.7" cy="229.3" rx="3.3" ry="2.3" transform="rotate(70 284.7 229.3)" fill="url(#pg1)"/>
<ellipse cx="259.3" cy="388.6" rx="4.4" ry="2.6" transform="rotate(56 259.3 388.6)" fill="url(#pg1)"/>
<ellipse cx="253.5" cy="408.0" rx="3.7" ry="2.8" transform="rotate(173 253.5 408.0)" fill="url(#pg1)"/>
<ellipse cx="197.5" cy="346.3" rx="3.6" ry="2.5" transform="rotate(173 197.5 346.3)" fill="url(#pg1)"/>
<ellipse cx="204.7" cy="419.2" rx="3.8" ry="5.2" transform="rotate(35 204.7 419.2)" fill="url(#pg1)"/>
<ellipse cx="266.6" cy="254.0" rx="5.1" ry="2.6" transform="rotate(175 266.6 254.0)" fill="url(#pg2)"/>
<ellipse cx="296.4" cy="396.3" rx="4.5" ry="4.0" transform="rotate(170 296.4 396.3)" fill="url(#pg3)"/>
<ellipse cx="227.6" cy="312.6" rx="3.1" ry="2.9" transform="rotate(3 227.6 312.6)" fill="url(#pg3)"/>
<ellipse cx="281.1" cy="315.9" rx="5.9" ry="4.0" transform="rotate(36 281.1 315.9)" fill="url(#pg3)"/>
<ellipse cx="226.0" cy="459.9" rx="5.6" ry="4.5" transform="rotate(133 226.0 459.9)" fill="url(#pg2)"/>
<ellipse cx="323.5" cy="480.1" rx="4.3" ry="3.7" transform="rotate(6 323.5 480.1)" fill="url(#pg3)"/>
<ellipse cx="306.0" cy="439.9" rx="6.8" ry="3.5" transform="rotate(165 306.0 439.9)" fill="url(#pg3)"/>
<ellipse cx="214.5" cy="273.1" rx="4.6" ry="3.9" transform="rotate(129 214.5 273.1)" fill="url(#pg3)"/>
<ellipse cx="283.1" cy="341.5" rx="5.7" ry="3.9" transform="rotate(20 283.1 341.5)" fill="url(#pg3)"/>
<ellipse cx="282.5" cy="413.7" rx="5.6" ry="3.7" transform="rotate(91 282.5 413.7)" fill="url(#pg3)"/>
<ellipse cx="205.9" cy="492.6" rx="6.5" ry="2.6" transform="rotate(166 205.9 492.6)" fill="url(#pg1)"/>
<ellipse cx="284.5" cy="232.1" rx="2.8" ry="3.1" transform="rotate(5 284.5 232.1)" fill="url(#pg3)"/>
<ellipse cx="213.2" cy="311.7" rx="7.8" ry="3.7" transform="rotate(176 213.2 311.7)" fill="url(#pg1)"/>
<ellipse cx="331.2" cy="311.4" rx="4.5" ry="2.9" transform="rotate(137 331.2 311.4)" fill="url(#pg2)"/>
<ellipse cx="205.7" cy="399.4" rx="3.6" ry="3.9" transform="rotate(16 205.7 399.4)" fill="url(#pg3)"/>
<ellipse cx="227.6" cy="387.5" rx="4.4" ry="5.9" transform="rotate(157 227.6 387.5)" fill="url(#pg2)"/>
<ellipse cx="259.1" cy="378.5" rx="7.9" ry="3.2" transform="rotate(154 259.1 378.5)" fill="url(#pg1)"/>
<ellipse cx="201.4" cy="307.9" rx="5.7" ry="3.3" transform="rotate(14 201.4 307.9)" fill="url(#pg2)"/>
<ellipse cx="169.5" cy="314.4" rx="4.4" ry="3.6" transform="rotate(31 169.5 314.4)" fill="url(#pg1)"/>
<ellipse cx="326.2" cy="410.5" rx="7.0" ry="4.5" transform="rotate(126 326.2 410.5)" fill="url(#pg1)"/>
<ellipse cx="332.1" cy="408.7" rx="7.1" ry="2.9" transform="rotate(172 332.1 408.7)" fill="url(#pg1)"/>
<ellipse cx="199.2" cy="280.3" rx="5.7" ry="2.3" transform="rotate(3 199.2 280.3)" fill="url(#pg2)"/>
<ellipse cx="289.0" cy="349.2" rx="4.2" ry="4.7" transform="rotate(41 289.0 349.2)" fill="url(#pg3)"/>
<ellipse cx="304.0" cy="249.0" rx="2.6" ry="2.8" transform="rotate(95 304.0 249.0)" fill="url(#pg1)"/>
<ellipse cx="262.9" cy="358.4" rx="6.0" ry="4.5" transform="rotate(137 262.9 358.4)" fill="url(#pg1)"/>
<ellipse cx="201.5" cy="471.4" rx="2.6" ry="3.4" transform="rotate(63 201.5 471.4)" fill="url(#pg3)"/>
<ellipse cx="329.8" cy="355.4" rx="6.2" ry="4.2" transform="rotate(105 329.8 355.4)" fill="url(#pg2)"/>
<ellipse cx="328.5" cy="358.4" rx="5.0" ry="2.5" transform="rotate(38 328.5 358.4)" fill="url(#pg1)"/>
<ellipse cx="212.5" cy="322.3" rx="4.4" ry="2.6" transform="rotate(7 212.5 322.3)" fill="url(#pg1)"/>
<ellipse cx="313.2" cy="261.3" rx="4.7" ry="6.3" transform="rotate(6 313.2 261.3)" fill="url(#pg1)"/>
<ellipse cx="217.4" cy="378.8" rx="7.7" ry="3.5" transform="rotate(155 217.4 378.8)" fill="url(#pg1)"/>
<ellipse cx="189.4" cy="318.4" rx="4.9" ry="2.8" transform="rotate(3 189.4 318.4)" fill="url(#pg1)"/>
<ellipse cx="238.4" cy="229.7" rx="5.0" ry="4.1" transform="rotate(54 238.4 229.7)" fill="url(#pg2)"/>
<ellipse cx="197.4" cy="291.7" rx="7.9" ry="4.0" transform="rotate(133 197.4 291.7)" fill="url(#pg2)"/>
<ellipse cx="263.5" cy="344.2" rx="3.3" ry="2.9" transform="rotate(32 263.5 344.2)" fill="url(#pg1)"/>
<ellipse cx="297.2" cy="309.4" rx="7.6" ry="2.9" transform="rotate(123 297.2 309.4)" fill="url(#pg2)"/>
<ellipse cx="315.9" cy="389.1" rx="5.3" ry="3.3" transform="rotate(165 315.9 389.1)" fill="url(#pg1)"/>
<ellipse cx="234.8" cy="493.0" rx="3.7" ry="3.0" transform="rotate(58 234.8 493.0)" fill="url(#pg1)"/>
<ellipse cx="319.2" cy="420.5" rx="5.7" ry="4.1" transform="rotate(144 319.2 420.5)" fill="url(#pg1)"/>
<ellipse cx="316.1" cy="307.5" rx="3.6" ry="2.6" transform="rotate(104 316.1 307.5)" fill="url(#pg1)"/>
<ellipse cx="222.6" cy="475.5" rx="6.2" ry="2.7" transform="rotate(124 222.6 475.5)" fill="url(#pg1)"/>
<ellipse cx="321.1" cy="297.0" rx="6.3" ry="5.0" transform="rotate(106 321.1 297.0)" fill="url(#pg1)"/>
<ellipse cx="320.0" cy="449.1" rx="5.1" ry="3.8" transform="rotate(56 320.0 449.1)" fill="url(#pg2)"/>
<ellipse cx="301.7" cy="282.2" rx="4.4" ry="1.9" transform="rotate(141 301.7 282.2)" fill="url(#pg2)"/>
<ellipse cx="243.8" cy="336.2" rx="5.4" ry="4.5" transform="rotate(17 243.8 336.2)" fill="url(#pg3)"/>
<ellipse cx="191.8" cy="345.5" rx="4.5" ry="2.9" transform="rotate(136 191.8 345.5)" fill="url(#pg1)"/>
<ellipse cx="307.7" cy="454.7" rx="3.6" ry="2.6" transform="rotate(88 307.7 454.7)" fill="url(#pg1)"/>
<ellipse cx="226.5" cy="235.5" rx="4.9" ry="2.0" transform="rotate(80 226.5 235.5)" fill="url(#pg1)"/>
<ellipse cx="298.0" cy="413.2" rx="5.2" ry="3.4" transform="rotate(74 298.0 413.2)" fill="url(#pg1)"/>
<ellipse cx="302.7" cy="361.6" rx="7.4" ry="3.4" transform="rotate(15 302.7 361.6)" fill="url(#pg2)"/>
<ellipse cx="202.8" cy="449.9" rx="4.4" ry="4.2" transform="rotate(30 202.8 449.9)" fill="url(#pg3)"/>
<ellipse cx="281.5" cy="364.0" rx="3.7" ry="2.3" transform="rotate(156 281.5 364.0)" fill="url(#pg2)"/>
<ellipse cx="328.4" cy="393.6" rx="9.0" ry="3.5" transform="rotate(18 328.4 393.6)" fill="url(#pg3)"/>
<ellipse cx="315.9" cy="405.8" rx="7.9" ry="3.5" transform="rotate(48 315.9 405.8)" fill="url(#pg3)"/>
<ellipse cx="277.7" cy="325.4" rx="8.0" ry="3.4" transform="rotate(173 277.7 325.4)" fill="url(#pg1)"/>
<ellipse cx="199.6" cy="419.8" rx="6.2" ry="3.5" transform="rotate(164 199.6 419.8)" fill="url(#pg1)"/>
<ellipse cx="317.3" cy="426.0" rx="7.4" ry="3.0" transform="rotate(27 317.3 426.0)" fill="url(#pg2)"/>
<ellipse cx="201.1" cy="331.3" rx="4.8" ry="6.4" transform="rotate(126 201.1 331.3)" fill="url(#pg1)"/>
<ellipse cx="276.8" cy="441.1" rx="5.6" ry="3.1" transform="rotate(70 276.8 441.1)" fill="url(#pg2)"/>
<ellipse cx="330.8" cy="514.3" rx="5.8" ry="4.7" transform="rotate(89 330.8 514.3)" fill="url(#pg3)"/>
<ellipse cx="293.8" cy="456.2" rx="4.2" ry="2.7" transform="rotate(3 293.8 456.2)" fill="url(#pg1)"/>
<ellipse cx="328.4" cy="361.5" rx="4.2" ry="2.1" transform="rotate(14 328.4 361.5)" fill="url(#pg1)"/>
<ellipse cx="198.5" cy="422.8" rx="3.0" ry="1.8" transform="rotate(1 198.5 422.8)" fill="url(#pg1)"/>
<ellipse cx="218.3" cy="453.5" rx="8.4" ry="3.5" transform="rotate(175 218.3 453.5)" fill="url(#pg1)"/>
<ellipse cx="240.9" cy="400.2" rx="7.0" ry="4.2" transform="rotate(5 240.9 400.2)" fill="url(#pg3)"/>
<ellipse cx="290.0" cy="454.2" rx="4.4" ry="3.0" transform="rotate(76 290.0 454.2)" fill="url(#pg1)"/>
<ellipse cx="341.1" cy="356.6" rx="2.8" ry="3.3" transform="rotate(18 341.1 356.6)" fill="url(#pg1)"/>
<ellipse cx="218.8" cy="310.9" rx="4.7" ry="2.5" transform="rotate(143 218.8 310.9)" fill="url(#pg1)"/>
<ellipse cx="211.7" cy="343.2" rx="7.2" ry="3.6" transform="rotate(178 211.7 343.2)" fill="url(#pg3)"/>
<ellipse cx="309.0" cy="481.7" rx="5.9" ry="3.1" transform="rotate(154 309.0 481.7)" fill="url(#pg2)"/>
<ellipse cx="302.0" cy="480.9" rx="5.0" ry="2.2" transform="rotate(136 302.0 480.9)" fill="url(#pg1)"/>
<ellipse cx="230.5" cy="527.2" rx="6.6" ry="2.6" transform="rotate(89 230.5 527.2)" fill="url(#pg1)"/>
<ellipse cx="245.4" cy="346.8" rx="5.2" ry="2.3" transform="rotate(58 245.4 346.8)" fill="url(#pg1)"/>
<ellipse cx="212.5" cy="435.2" rx="3.5" ry="2.6" transform="rotate(118 212.5 435.2)" fill="url(#pg1)"/>
<ellipse cx="269.8" cy="368.6" rx="5.7" ry="4.6" transform="rotate(83 269.8 368.6)" fill="url(#pg1)"/>
<ellipse cx="199.4" cy="481.0" rx="2.5" ry="3.3" transform="rotate(68 199.4 481.0)" fill="url(#pg3)"/>
<ellipse cx="283.5" cy="249.2" rx="4.8" ry="2.5" transform="rotate(104 283.5 249.2)" fill="url(#pg3)"/>
<ellipse cx="314.8" cy="429.0" rx="3.7" ry="2.5" transform="rotate(76 314.8 429.0)" fill="url(#pg3)"/>
<ellipse cx="205.8" cy="364.1" rx="5.9" ry="2.3" transform="rotate(85 205.8 364.1)" fill="url(#pg1)"/>
<ellipse cx="296.4" cy="274.2" rx="3.4" ry="3.0" transform="rotate(171 296.4 274.2)" fill="url(#pg3)"/>
<ellipse cx="279.9" cy="368.5" rx="6.3" ry="2.7" transform="rotate(29 279.9 368.5)" fill="url(#pg3)"/>
<ellipse cx="257.8" cy="421.3" rx="6.3" ry="3.5" transform="rotate(32 257.8 421.3)" fill="url(#pg1)"/>
<ellipse cx="242.1" cy="435.8" rx="5.0" ry="4.9" transform="rotate(67 242.1 435.8)" fill="url(#pg2)"/>
<ellipse cx="206.1" cy="307.5" rx="5.5" ry="5.1" transform="rotate(30 206.1 307.5)" fill="url(#pg2)"/>
<ellipse cx="177.3" cy="333.6" rx="3.5" ry="2.6" transform="rotate(81 177.3 333.6)" fill="url(#pg3)"/>
<ellipse cx="236.2" cy="321.7" rx="3.4" ry="2.8" transform="rotate(128 236.2 321.7)" fill="url(#pg3)"/>
<ellipse cx="329.5" cy="517.7" rx="4.4" ry="4.0" transform="rotate(0 329.5 517.7)" fill="url(#pg1)"/>
<ellipse cx="256.6" cy="293.0" rx="5.4" ry="3.7" transform="rotate(137 256.6 293.0)" fill="url(#pg2)"/>
<ellipse cx="259.1" cy="247.6" rx="4.9" ry="4.9" transform="rotate(68 259.1 247.6)" fill="url(#pg1)"/>
<ellipse cx="206.9" cy="496.6" rx="7.0" ry="2.7" transform="rotate(4 206.9 496.6)" fill="url(#pg3)"/>
<ellipse cx="256.0" cy="392.3" rx="5.0" ry="2.0" transform="rotate(83 256.0 392.3)" fill="url(#pg3)"/>
<ellipse cx="285.1" cy="422.7" rx="7.5" ry="2.9" transform="rotate(62 285.1 422.7)" fill="url(#pg3)"/>
<ellipse cx="333.8" cy="481.0" rx="5.6" ry="3.6" transform="rotate(52 333.8 481.0)" fill="url(#pg1)"/>
<ellipse cx="166.3" cy="318.9" rx="3.7" ry="3.7" transform="rotate(177 166.3 318.9)" fill="url(#pg2)"/>
<ellipse cx="277.1" cy="348.7" rx="8.0" ry="3.6" transform="rotate(32 277.1 348.7)" fill="url(#pg3)"/>
<ellipse cx="227.4" cy="457.3" rx="5.5" ry="2.9" transform="rotate(91 227.4 457.3)" fill="url(#pg3)"/>
<ellipse cx="253.3" cy="338.6" rx="6.6" ry="3.5" transform="rotate(17 253.3 338.6)" fill="url(#pg2)"/>
<ellipse cx="239.7" cy="243.3" rx="6.4" ry="3.0" transform="rotate(27 239.7 243.3)" fill="url(#pg3)"/>
<ellipse cx="287.8" cy="424.6" rx="5.7" ry="4.3" transform="rotate(77 287.8 424.6)" fill="url(#pg1)"/>
<ellipse cx="194.4" cy="460.1" rx="6.6" ry="2.8" transform="rotate(12 194.4 460.1)" fill="url(#pg1)"/>
<ellipse cx="300.2" cy="434.7" rx="4.4" ry="3.8" transform="rotate(14 300.2 434.7)" fill="url(#pg2)"/>
<ellipse cx="265.4" cy="379.8" rx="6.6" ry="3.1" transform="rotate(130 265.4 379.8)" fill="url(#pg3)"/>
<ellipse cx="214.9" cy="300.3" rx="3.8" ry="4.6" transform="rotate(9 214.9 300.3)" fill="url(#pg1)"/>
<ellipse cx="200.5" cy="528.6" rx="2.9" ry="1.9" transform="rotate(84 200.5 528.6)" fill="url(#pg1)"/>
<ellipse cx="286.3" cy="330.3" rx="3.6" ry="4.0" transform="rotate(165 286.3 330.3)" fill="url(#pg3)"/>
<ellipse cx="290.7" cy="309.9" rx="6.2" ry="3.7" transform="rotate(10 290.7 309.9)" fill="url(#pg1)"/>
<ellipse cx="219.9" cy="525.7" rx="6.1" ry="2.7" transform="rotate(5 219.9 525.7)" fill="url(#pg1)"/>
<ellipse cx="254.9" cy="339.1" rx="3.9" ry="3.1" transform="rotate(32 254.9 339.1)" fill="url(#pg3)"/>
<ellipse cx="225.2" cy="249.4" rx="5.2" ry="5.6" transform="rotate(22 225.2 249.4)" fill="url(#pg1)"/>
<ellipse cx="195.8" cy="523.1" rx="2.5" ry="2.2" transform="rotate(75 195.8 523.1)" fill="url(#pg3)"/>
<ellipse cx="276.0" cy="360.2" rx="4.2" ry="3.2" transform="rotate(93 276.0 360.2)" fill="url(#pg1)"/>
<ellipse cx="330.1" cy="374.4" rx="7.5" ry="3.6" transform="rotate(74 330.1 374.4)" fill="url(#pg1)"/>
<ellipse cx="227.4" cy="358.3" rx="4.4" ry="1.8" transform="rotate(43 227.4 358.3)" fill="url(#pg1)"/>
<ellipse cx="207.8" cy="522.1" rx="8.5" ry="3.5" transform="rotate(76 207.8 522.1)" fill="url(#pg1)"/>
<ellipse cx="243.3" cy="462.0" rx="5.0" ry="4.4" transform="rotate(36 243.3 462.0)" fill="url(#pg1)"/>
<ellipse cx="305.7" cy="510.6" rx="2.2" ry="2.5" transform="rotate(96 305.7 510.6)" fill="url(#pg2)"/>
<ellipse cx="219.5" cy="339.5" rx="7.7" ry="3.2" transform="rotate(102 219.5 339.5)" fill="url(#pg3)"/>
<ellipse cx="277.7" cy="404.9" rx="6.3" ry="2.4" transform="rotate(56 277.7 404.9)" fill="url(#pg1)"/>
<ellipse cx="280.2" cy="229.3" rx="6.1" ry="2.4" transform="rotate(12 280.2 229.3)" fill="url(#pg2)"/>
<ellipse cx="272.8" cy="386.9" rx="5.5" ry="4.6" transform="rotate(162 272.8 386.9)" fill="url(#pg3)"/>
<ellipse cx="298.2" cy="400.7" rx="4.4" ry="2.7" transform="rotate(170 298.2 400.7)" fill="url(#pg1)"/>
<ellipse cx="286.8" cy="301.2" rx="8.0" ry="3.1" transform="rotate(120 286.8 301.2)" fill="url(#pg1)"/>
<ellipse cx="339.4" cy="392.7" rx="4.9" ry="3.6" transform="rotate(102 339.4 392.7)" fill="url(#pg3)"/>
<ellipse cx="278.5" cy="457.7" rx="5.8" ry="2.5" transform="rotate(138 278.5 457.7)" fill="url(#pg2)"/>
<ellipse cx="290.2" cy="433.6" rx="5.2" ry="2.0" transform="rotate(1 290.2 433.6)" fill="url(#pg3)"/>
<ellipse cx="210.9" cy="510.3" rx="6.2" ry="2.8" transform="rotate(47 210.9 510.3)" fill="url(#pg2)"/>
<ellipse cx="243.4" cy="522.8" rx="3.0" ry="1.9" transform="rotate(65 243.4 522.8)" fill="url(#pg3)"/>
<ellipse cx="342.6" cy="463.0" rx="3.2" ry="1.7" transform="rotate(144 342.6 463.0)" fill="url(#pg3)"/>
<ellipse cx="218.2" cy="300.1" rx="4.7" ry="4.1" transform="rotate(130 218.2 300.1)" fill="url(#pg2)"/>
<ellipse cx="253.3" cy="386.6" rx="5.1" ry="2.4" transform="rotate(33 253.3 386.6)" fill="url(#pg1)"/>
<ellipse cx="206.6" cy="423.4" rx="4.8" ry="3.1" transform="rotate(49 206.6 423.4)" fill="url(#pg2)"/>
<ellipse cx="289.5" cy="490.9" rx="3.0" ry="1.8" transform="rotate(102 289.5 490.9)" fill="url(#pg1)"/>
<ellipse cx="348.8" cy="345.5" rx="6.3" ry="2.5" transform="rotate(104 348.8 345.5)" fill="url(#pg3)"/>
<ellipse cx="261.4" cy="428.5" rx="4.1" ry="3.1" transform="rotate(2 261.4 428.5)" fill="url(#pg1)"/>
<ellipse cx="327.1" cy="454.4" rx="7.9" ry="3.9" transform="rotate(19 327.1 454.4)" fill="url(#pg2)"/>
<ellipse cx="236.6" cy="521.6" rx="7.1" ry="4.3" transform="rotate(130 236.6 521.6)" fill="url(#pg3)"/>
<ellipse cx="344.8" cy="504.6" rx="2.8" ry="3.8" transform="rotate(169 344.8 504.6)" fill="url(#pg2)"/>
<ellipse cx="304.0" cy="436.7" rx="7.5" ry="3.5" transform="rotate(154 304.0 436.7)" fill="url(#pg2)"/>
<ellipse cx="237.9" cy="260.6" rx="5.2" ry="4.1" transform="rotate(142 237.9 260.6)" fill="url(#pg2)"/>
<ellipse cx="218.1" cy="534.8" rx="5.0" ry="3.5" transform="rotate(7 218.1 534.8)" fill="url(#pg1)"/>
<ellipse cx="269.8" cy="406.5" rx="3.4" ry="3.7" transform="rotate(142 269.8 406.5)" fill="url(#pg1)"/>
<ellipse cx="217.4" cy="265.7" rx="5.1" ry="3.5" transform="rotate(36 217.4 265.7)" fill="url(#pg1)"/>
<ellipse cx="331.7" cy="410.6" rx="6.9" ry="3.4" transform="rotate(72 331.7 410.6)" fill="url(#pg2)"/>
<ellipse cx="321.5" cy="381.7" rx="7.8" ry="3.6" transform="rotate(76 321.5 381.7)" fill="url(#pg2)"/>
<ellipse cx="241.2" cy="336.0" rx="4.7" ry="6.0" transform="rotate(177 241.2 336.0)" fill="url(#pg1)"/>
<ellipse cx="222.7" cy="260.8" rx="5.5" ry="2.7" transform="rotate(122 222.7 260.8)" fill="url(#pg1)"/>
<ellipse cx="204.4" cy="465.4" rx="4.7" ry="3.0" transform="rotate(50 204.4 465.4)" fill="url(#pg3)"/>
<ellipse cx="307.9" cy="494.4" rx="3.6" ry="3.2" transform="rotate(131 307.9 494.4)" fill="url(#pg2)"/>
<ellipse cx="324.8" cy="387.3" rx="5.3" ry="2.7" transform="rotate(118 324.8 387.3)" fill="url(#pg3)"/>
<ellipse cx="185.7" cy="374.2" rx="7.3" ry="4.2" transform="rotate(178 185.7 374.2)" fill="url(#pg2)"/>
<ellipse cx="251.8" cy="458.6" rx="4.0" ry="2.1" transform="rotate(156 251.8 458.6)" fill="url(#pg3)"/>
<ellipse cx="299.7" cy="378.3" rx="3.0" ry="3.9" transform="rotate(58 299.7 378.3)" fill="url(#pg2)"/>
<ellipse cx="175.9" cy="383.6" rx="4.8" ry="5.0" transform="rotate(83 175.9 383.6)" fill="url(#pg1)"/>
<ellipse cx="219.6" cy="402.7" rx="6.7" ry="4.0" transform="rotate(104 219.6 402.7)" fill="url(#pg2)"/>
<ellipse cx="302.6" cy="507.2" rx="4.0" ry="1.6" transform="rotate(5 302.6 507.2)" fill="url(#pg1)"/>
<ellipse cx="262.4" cy="343.7" rx="7.2" ry="4.1" transform="rotate(41 262.4 343.7)" fill="url(#pg1)"/>
<ellipse cx="299.0" cy="291.6" rx="3.1" ry="4.1" transform="rotate(81 299.0 291.6)" fill="url(#pg2)"/>
<ellipse cx="228.5" cy="336.4" rx="5.1" ry="2.4" transform="rotate(152 228.5 336.4)" fill="url(#pg1)"/>
<ellipse cx="339.7" cy="511.7" rx="7.8" ry="3.4" transform="rotate(122 339.7 511.7)" fill="url(#pg1)"/>
<ellipse cx="326.8" cy="339.0" rx="7.5" ry="3.7" transform="rotate(112 326.8 339.0)" fill="url(#pg2)"/>
<ellipse cx="324.4" cy="301.5" rx="3.1" ry="2.9" transform="rotate(176 324.4 301.5)" fill="url(#pg2)"/>
<ellipse cx="309.5" cy="502.6" rx="4.4" ry="4.2" transform="rotate(105 309.5 502.6)" fill="url(#pg2)"/>
<ellipse cx="300.0" cy="468.7" rx="4.3" ry="2.3" transform="rotate(29 300.0 468.7)" fill="url(#pg2)"/>
<ellipse cx="228.0" cy="262.8" rx="4.9" ry="4.3" transform="rotate(92 228.0 262.8)" fill="url(#pg2)"/>
<ellipse cx="262.9" cy="430.4" rx="7.3" ry="3.4" transform="rotate(125 262.9 430.4)" fill="url(#pg1)"/>
<ellipse cx="218.3" cy="381.4" rx="5.6" ry="3.4" transform="rotate(152 218.3 381.4)" fill="url(#pg1)"/>
<ellipse cx="312.0" cy="273.2" rx="6.6" ry="2.8" transform="rotate(155 312.0 273.2)" fill="url(#pg1)"/>
<ellipse cx="167.8" cy="316.6" rx="3.4" ry="4.1" transform="rotate(68 167.8 316.6)" fill="url(#pg2)"/>
<ellipse cx="278.4" cy="321.2" rx="2.9" ry="3.7" transform="rotate(122 278.4 321.2)" fill="url(#pg2)"/>
<ellipse cx="200.1" cy="359.2" rx="4.7" ry="3.1" transform="rotate(32 200.1 359.2)" fill="url(#pg1)"/>
<ellipse cx="265.5" cy="383.3" rx="5.4" ry="4.2" transform="rotate(14 265.5 383.3)" fill="url(#pg3)"/>
<ellipse cx="300.1" cy="350.6" rx="4.5" ry="3.4" transform="rotate(23 300.1 350.6)" fill="url(#pg2)"/>
<ellipse cx="302.8" cy="503.6" rx="3.8" ry="4.7" transform="rotate(7 302.8 503.6)" fill="url(#pg1)"/>
<ellipse cx="215.3" cy="445.9" rx="4.0" ry="2.8" transform="rotate(46 215.3 445.9)" fill="url(#pg1)"/>
<ellipse cx="318.7" cy="269.9" rx="3.7" ry="4.8" transform="rotate(87 318.7 269.9)" fill="url(#pg3)"/>
<ellipse cx="215.0" cy="420.3" rx="5.2" ry="3.4" transform="rotate(115 215.0 420.3)" fill="url(#pg3)"/>
<ellipse cx="324.2" cy="436.6" rx="5.1" ry="5.1" transform="rotate(36 324.2 436.6)" fill="url(#pg1)"/>
<ellipse cx="310.2" cy="254.5" rx="3.6" ry="1.5" transform="rotate(34 310.2 254.5)" fill="url(#pg2)"/>
<ellipse cx="273.3" cy="320.8" rx="4.2" ry="3.3" transform="rotate(87 273.3 320.8)" fill="url(#pg1)"/>
<ellipse cx="193.6" cy="330.8" rx="4.5" ry="2.3" transform="rotate(86 193.6 330.8)" fill="url(#pg3)"/>
<ellipse cx="351.0" cy="341.6" rx="4.5" ry="1.9" transform="rotate(36 351.0 341.6)" fill="url(#pg3)"/>
<ellipse cx="254.2" cy="413.0" rx="5.3" ry="3.8" transform="rotate(84 254.2 413.0)" fill="url(#pg1)"/>
<ellipse cx="213.9" cy="506.4" rx="6.6" ry="3.8" transform="rotate(161 213.9 506.4)" fill="url(#pg3)"/>
<ellipse cx="267.8" cy="399.1" rx="3.1" ry="3.3" transform="rotate(113 267.8 399.1)" fill="url(#pg2)"/>
<ellipse cx="204.8" cy="520.0" rx="5.9" ry="4.6" transform="rotate(73 204.8 520.0)" fill="url(#pg3)"/>
<ellipse cx="265.4" cy="216.5" rx="3.1" ry="1.8" transform="rotate(39 265.4 216.5)" fill="url(#pg1)"/>
<ellipse cx="273.6" cy="272.6" rx="7.1" ry="4.4" transform="rotate(24 273.6 272.6)" fill="url(#pg1)"/>
<ellipse cx="328.5" cy="491.2" rx="5.6" ry="2.3" transform="rotate(146 328.5 491.2)" fill="url(#pg1)"/>
<ellipse cx="281.8" cy="308.4" rx="8.0" ry="3.7" transform="rotate(35 281.8 308.4)" fill="url(#pg3)"/>
<ellipse cx="296.7" cy="326.8" rx="6.9" ry="4.2" transform="rotate(89 296.7 326.8)" fill="url(#pg1)"/>
<ellipse cx="270.8" cy="359.6" rx="4.8" ry="2.3" transform="rotate(113 270.8 359.6)" fill="url(#pg3)"/>
<ellipse cx="344.3" cy="479.2" rx="5.0" ry="3.4" transform="rotate(96 344.3 479.2)" fill="url(#pg1)"/>
<ellipse cx="288.7" cy="448.7" rx="5.2" ry="2.5" transform="rotate(155 288.7 448.7)" fill="url(#pg3)"/>
<ellipse cx="235.9" cy="253.2" rx="5.5" ry="2.4" transform="rotate(0 235.9 253.2)" fill="url(#pg2)"/>
<ellipse cx="328.3" cy="327.9" rx="6.3" ry="2.4" transform="rotate(122 328.3 327.9)" fill="url(#pg3)"/>
<ellipse cx="297.2" cy="245.0" rx="4.0" ry="2.7" transform="rotate(94 297.2 245.0)" fill="url(#pg1)"/>
<ellipse cx="331.9" cy="489.9" rx="8.1" ry="3.1" transform="rotate(155 331.9 489.9)" fill="url(#pg1)"/>
<ellipse cx="207.9" cy="295.2" rx="2.8" ry="3.1" transform="rotate(68 207.9 295.2)" fill="url(#pg3)"/>
<ellipse cx="194.2" cy="323.4" rx="5.4" ry="5.7" transform="rotate(75 194.2 323.4)" fill="url(#pg1)"/>
<ellipse cx="242.2" cy="286.7" rx="4.5" ry="5.3" transform="rotate(174 242.2 286.7)" fill="url(#pg2)"/>
<ellipse cx="220.8" cy="309.6" rx="3.6" ry="3.0" transform="rotate(124 220.8 309.6)" fill="url(#pg2)"/>
<ellipse cx="242.2" cy="465.7" rx="4.4" ry="2.7" transform="rotate(95 242.2 465.7)" fill="url(#pg2)"/>
<ellipse cx="268.4" cy="233.0" rx="7.4" ry="3.6" transform="rotate(3 268.4 233.0)" fill="url(#pg2)"/>
<ellipse cx="263.0" cy="317.4" rx="5.7" ry="5.3" transform="rotate(110 263.0 317.4)" fill="url(#pg1)"/>
<ellipse cx="234.1" cy="299.5" rx="5.7" ry="2.9" transform="rotate(53 234.1 299.5)" fill="url(#pg3)"/>
<ellipse cx="293.7" cy="434.1" rx="4.5" ry="1.9" transform="rotate(56 293.7 434.1)" fill="url(#pg2)"/>
<ellipse cx="268.8" cy="431.6" rx="6.4" ry="3.5" transform="rotate(177 268.8 431.6)" fill="url(#pg1)"/>
<ellipse cx="247.4" cy="252.8" rx="4.2" ry="5.6" transform="rotate(31 247.4 252.8)" fill="url(#pg2)"/>
<ellipse cx="301.4" cy="364.7" rx="4.4" ry="2.2" transform="rotate(155 301.4 364.7)" fill="url(#pg2)"/>
<ellipse cx="184.7" cy="330.3" rx="4.0" ry="3.6" transform="rotate(158 184.7 330.3)" fill="url(#pg1)"/>
<ellipse cx="308.4" cy="258.0" rx="2.7" ry="3.6" transform="rotate(16 308.4 258.0)" fill="url(#pg1)"/>
<ellipse cx="318.6" cy="282.9" rx="7.3" ry="3.5" transform="rotate(113 318.6 282.9)" fill="url(#pg1)"/>
<ellipse cx="226.3" cy="260.1" rx="4.3" ry="3.3" transform="rotate(91 226.3 260.1)" fill="url(#pg3)"/>
<ellipse cx="227.0" cy="441.7" rx="4.4" ry="2.4" transform="rotate(49 227.0 441.7)" fill="url(#pg3)"/>
<ellipse cx="307.8" cy="490.4" rx="3.9" ry="2.8" transform="rotate(150 307.8 490.4)" fill="url(#pg1)"/>
<ellipse cx="282.9" cy="285.3" rx="6.3" ry="4.3" transform="rotate(48 282.9 285.3)" fill="url(#pg3)"/>
<ellipse cx="196.2" cy="316.9" rx="8.0" ry="3.0" transform="rotate(42 196.2 316.9)" fill="url(#pg2)"/>
<ellipse cx="270.0" cy="427.8" rx="5.6" ry="4.2" transform="rotate(69 270.0 427.8)" fill="url(#pg1)"/>
<ellipse cx="250.3" cy="287.5" rx="4.2" ry="1.9" transform="rotate(66 250.3 287.5)" fill="url(#pg2)"/>
<ellipse cx="238.9" cy="269.9" rx="6.1" ry="4.6" transform="rotate(2 238.9 269.9)" fill="url(#pg3)"/>
<ellipse cx="270.2" cy="360.9" rx="6.5" ry="2.9" transform="rotate(151 270.2 360.9)" fill="url(#pg1)"/>
<ellipse cx="206.4" cy="253.9" rx="7.9" ry="3.3" transform="rotate(131 206.4 253.9)" fill="url(#pg1)"/>
<ellipse cx="253.2" cy="223.9" rx="7.3" ry="3.2" transform="rotate(95 253.2 223.9)" fill="url(#pg1)"/>
<ellipse cx="244.3" cy="360.1" rx="5.1" ry="2.0" transform="rotate(2 244.3 360.1)" fill="url(#pg2)"/>
<ellipse cx="254.5" cy="361.2" rx="6.2" ry="3.7" transform="rotate(126 254.5 361.2)" fill="url(#pg1)"/>
<ellipse cx="323.9" cy="275.8" rx="6.6" ry="4.3" transform="rotate(159 323.9 275.8)" fill="url(#pg1)"/>
<ellipse cx="288.0" cy="352.5" rx="5.4" ry="4.3" transform="rotate(131 288.0 352.5)" fill="url(#pg3)"/>
<ellipse cx="256.4" cy="304.0" rx="5.4" ry="4.8" transform="rotate(55 256.4 304.0)" fill="url(#pg1)"/>
<ellipse cx="290.3" cy="434.2" rx="4.2" ry="4.6" transform="rotate(12 290.3 434.2)" fill="url(#pg1)"/>
<ellipse cx="207.1" cy="327.7" rx="4.6" ry="3.9" transform="rotate(93 207.1 327.7)" fill="url(#pg1)"/>
<ellipse cx="173.7" cy="332.6" rx="4.1" ry="2.4" transform="rotate(166 173.7 332.6)" fill="url(#pg3)"/>
<ellipse cx="214.5" cy="479.8" rx="4.0" ry="4.5" transform="rotate(34 214.5 479.8)" fill="url(#pg1)"/>
<ellipse cx="329.9" cy="441.5" rx="5.2" ry="3.6" transform="rotate(145 329.9 441.5)" fill="url(#pg3)"/>
<ellipse cx="278.9" cy="262.8" rx="5.1" ry="5.3" transform="rotate(125 278.9 262.8)" fill="url(#pg3)"/>
<ellipse cx="167.3" cy="366.8" rx="2.2" ry="2.5" transform="rotate(143 167.3 366.8)" fill="url(#pg3)"/>
<ellipse cx="252.9" cy="440.2" rx="6.1" ry="2.8" transform="rotate(41 252.9 440.2)" fill="url(#pg1)"/>
<ellipse cx="326.5" cy="275.4" rx="3.4" ry="3.3" transform="rotate(96 326.5 275.4)" fill="url(#pg2)"/>
<ellipse cx="215.8" cy="312.5" rx="5.0" ry="3.9" transform="rotate(54 215.8 312.5)" fill="url(#pg3)"/>
<ellipse cx="313.1" cy="305.7" rx="5.1" ry="3.1" transform="rotate(160 313.1 305.7)" fill="url(#pg3)"/>
<ellipse cx="258.0" cy="420.5" rx="2.8" ry="3.3" transform="rotate(158 258.0 420.5)" fill="url(#pg1)"/>
<ellipse cx="188.6" cy="380.8" rx="6.6" ry="4.2" transform="rotate(97 188.6 380.8)" fill="url(#pg1)"/>
<ellipse cx="261.7" cy="326.5" rx="5.1" ry="2.9" transform="rotate(105 261.7 326.5)" fill="url(#pg3)"/>
<ellipse cx="208.4" cy="285.8" rx="7.7" ry="3.1" transform="rotate(42 208.4 285.8)" fill="url(#pg2)"/>
<ellipse cx="193.4" cy="486.7" rx="5.1" ry="5.6" transform="rotate(8 193.4 486.7)" fill="url(#pg1)"/>
<ellipse cx="200.2" cy="477.4" rx="5.4" ry="3.2" transform="rotate(118 200.2 477.4)" fill="url(#pg2)"/>
<ellipse cx="200.2" cy="479.7" rx="6.2" ry="4.1" transform="rotate(99 200.2 479.7)" fill="url(#pg1)"/>
<ellipse cx="277.0" cy="235.6" rx="4.1" ry="4.1" transform="rotate(85 277.0 235.6)" fill="url(#pg1)"/>
<ellipse cx="209.9" cy="446.9" rx="6.3" ry="4.4" transform="rotate(67 209.9 446.9)" fill="url(#pg3)"/>
<ellipse cx="253.3" cy="404.0" rx="7.0" ry="3.7" transform="rotate(32 253.3 404.0)" fill="url(#pg3)"/>
<ellipse cx="252.7" cy="273.3" rx="3.6" ry="4.0" transform="rotate(70 252.7 273.3)" fill="url(#pg3)"/>
<ellipse cx="270.5" cy="432.1" rx="4.6" ry="4.2" transform="rotate(177 270.5 432.1)" fill="url(#pg3)"/>
<ellipse cx="233.3" cy="329.5" rx="6.1" ry="5.2" transform="rotate(178 233.3 329.5)" fill="url(#pg3)"/>
<ellipse cx="262.0" cy="305.1" rx="5.7" ry="3.3" transform="rotate(70 262.0 305.1)" fill="url(#pg3)"/>
<ellipse cx="247.0" cy="407.4" rx="7.2" ry="3.3" transform="rotate(170 247.0 407.4)" fill="url(#pg1)"/>
<ellipse cx="208.1" cy="277.3" rx="5.5" ry="4.0" transform="rotate(61 208.1 277.3)" fill="url(#pg3)"/>
<ellipse cx="183.5" cy="366.2" rx="4.2" ry="5.1" transform="rotate(101 183.5 366.2)" fill="url(#pg1)"/>
<ellipse cx="335.2" cy="477.5" rx="7.4" ry="3.8" transform="rotate(79 335.2 477.5)" fill="url(#pg2)"/>
<ellipse cx="252.0" cy="356.1" rx="5.0" ry="4.1" transform="rotate(144 252.0 356.1)" fill="url(#pg1)"/>
<ellipse cx="243.5" cy="381.0" rx="7.2" ry="3.2" transform="rotate(147 243.5 381.0)" fill="url(#pg1)"/>
<ellipse cx="207.3" cy="511.1" rx="4.1" ry="3.9" transform="rotate(23 207.3 511.1)" fill="url(#pg3)"/>
<ellipse cx="227.3" cy="370.9" rx="3.4" ry="3.7" transform="rotate(104 227.3 370.9)" fill="url(#pg1)"/>
<ellipse cx="350.0" cy="310.3" rx="5.2" ry="5.8" transform="rotate(54 350.0 310.3)" fill="url(#pg2)"/>
<ellipse cx="199.9" cy="367.5" rx="5.3" ry="2.5" transform="rotate(72 199.9 367.5)" fill="url(#pg1)"/>
<ellipse cx="236.1" cy="423.7" rx="3.9" ry="4.5" transform="rotate(120 236.1 423.7)" fill="url(#pg3)"/>
<ellipse cx="183.6" cy="396.0" rx="4.5" ry="2.7" transform="rotate(121 183.6 396.0)" fill="url(#pg1)"/>
<ellipse cx="316.0" cy="266.5" rx="3.6" ry="3.8" transform="rotate(146 316.0 266.5)" fill="url(#pg3)"/>
<ellipse cx="273.3" cy="431.1" rx="7.0" ry="4.4" transform="rotate(79 273.3 431.1)" fill="url(#pg2)"/>
<ellipse cx="176.7" cy="323.5" rx="4.7" ry="6.1" transform="rotate(114 176.7 323.5)" fill="url(#pg1)"/>
<ellipse cx="267.8" cy="300.3" rx="3.7" ry="3.5" transform="rotate(144 267.8 300.3)" fill="url(#pg1)"/>
<ellipse cx="196.7" cy="394.1" rx="3.7" ry="2.3" transform="rotate(62 196.7 394.1)" fill="url(#pg1)"/>
<ellipse cx="191.7" cy="308.4" rx="4.7" ry="5.8" transform="rotate(88 191.7 308.4)" fill="url(#pg3)"/>
<ellipse cx="287.9" cy="259.3" rx="3.4" ry="3.5" transform="rotate(163 287.9 259.3)" fill="url(#pg1)"/>
<ellipse cx="211.5" cy="335.4" rx="5.0" ry="2.5" transform="rotate(75 211.5 335.4)" fill="url(#pg2)"/>
<ellipse cx="270.7" cy="440.5" rx="4.0" ry="4.8" transform="rotate(150 270.7 440.5)" fill="url(#pg1)"/>
<ellipse cx="258.3" cy="366.4" rx="6.0" ry="3.5" transform="rotate(147 258.3 366.4)" fill="url(#pg3)"/>
<ellipse cx="235.6" cy="357.8" rx="4.0" ry="2.1" transform="rotate(125 235.6 357.8)" fill="url(#pg1)"/>
<ellipse cx="208.5" cy="428.7" rx="4.1" ry="3.6" transform="rotate(174 208.5 428.7)" fill="url(#pg1)"/>
<ellipse cx="214.1" cy="403.6" rx="5.3" ry="2.7" transform="rotate(148 214.1 403.6)" fill="url(#pg2)"/>
<ellipse cx="325.6" cy="489.9" rx="5.0" ry="2.1" transform="rotate(148 325.6 489.9)" fill="url(#pg1)"/>
<ellipse cx="327.9" cy="479.8" rx="5.9" ry="4.0" transform="rotate(12 327.9 479.8)" fill="url(#pg3)"/>
<ellipse cx="229.0" cy="468.7" rx="7.8" ry="3.3" transform="rotate(13 229.0 468.7)" fill="url(#pg3)"/>
<ellipse cx="201.6" cy="272.1" rx="6.4" ry="3.2" transform="rotate(40 201.6 272.1)" fill="url(#pg2)"/>
<ellipse cx="265.6" cy="429.8" rx="8.5" ry="3.3" transform="rotate(117 265.6 429.8)" fill="url(#pg1)"/>
<ellipse cx="208.5" cy="416.6" rx="5.8" ry="3.6" transform="rotate(115 208.5 416.6)" fill="url(#pg1)"/>
<ellipse cx="295.2" cy="373.4" rx="5.0" ry="4.1" transform="rotate(107 295.2 373.4)" fill="url(#pg1)"/>
<ellipse cx="271.1" cy="417.5" rx="5.7" ry="2.7" transform="rotate(54 271.1 417.5)" fill="url(#pg3)"/>
<ellipse cx="275.2" cy="386.7" rx="4.5" ry="5.9" transform="rotate(113 275.2 386.7)" fill="url(#pg1)"/>
<ellipse cx="241.3" cy="526.2" rx="3.1" ry="2.9" transform="rotate(79 241.3 526.2)" fill="url(#pg2)"/>
<ellipse cx="311.5" cy="376.2" rx="7.1" ry="2.9" transform="rotate(145 311.5 376.2)" fill="url(#pg3)"/>
<ellipse cx="317.9" cy="460.9" rx="3.9" ry="2.6" transform="rotate(165 317.9 460.9)" fill="url(#pg1)"/>
<ellipse cx="279.2" cy="337.9" rx="5.2" ry="2.9" transform="rotate(125 279.2 337.9)" fill="url(#pg2)"/>
<ellipse cx="285.6" cy="439.3" rx="5.2" ry="3.7" transform="rotate(88 285.6 439.3)" fill="url(#pg1)"/>
<ellipse cx="257.0" cy="419.2" rx="3.9" ry="2.3" transform="rotate(125 257.0 419.2)" fill="url(#pg2)"/>
<ellipse cx="188.1" cy="365.1" rx="6.1" ry="2.5" transform="rotate(108 188.1 365.1)" fill="url(#pg3)"/>
<ellipse cx="329.9" cy="461.0" rx="5.0" ry="3.1" transform="rotate(58 329.9 461.0)" fill="url(#pg1)"/>
<ellipse cx="293.0" cy="456.9" rx="6.2" ry="3.3" transform="rotate(87 293.0 456.9)" fill="url(#pg1)"/>
<ellipse cx="252.9" cy="376.1" rx="6.5" ry="4.6" transform="rotate(102 252.9 376.1)" fill="url(#pg1)"/>
<ellipse cx="250.3" cy="325.8" rx="2.9" ry="2.9" transform="rotate(179 250.3 325.8)" fill="url(#pg3)"/>
<ellipse cx="279.6" cy="278.0" rx="5.0" ry="2.6" transform="rotate(37 279.6 278.0)" fill="url(#pg2)"/>
<ellipse cx="243.3" cy="510.8" rx="6.1" ry="4.2" transform="rotate(48 243.3 510.8)" fill="url(#pg3)"/>
<ellipse cx="206.6" cy="483.8" rx="3.5" ry="3.5" transform="rotate(131 206.6 483.8)" fill="url(#pg3)"/>
<ellipse cx="324.6" cy="272.8" rx="3.4" ry="2.7" transform="rotate(164 324.6 272.8)" fill="url(#pg1)"/>
<ellipse cx="250.3" cy="402.7" rx="4.7" ry="2.0" transform="rotate(136 250.3 402.7)" fill="url(#pg1)"/>
<ellipse cx="266.6" cy="232.9" rx="7.3" ry="3.3" transform="rotate(150 266.6 232.9)" fill="url(#pg2)"/>
<ellipse cx="252.8" cy="284.3" rx="3.6" ry="2.6" transform="rotate(18 252.8 284.3)" fill="url(#pg1)"/>
<ellipse cx="291.9" cy="294.8" rx="3.9" ry="2.9" transform="rotate(135 291.9 294.8)" fill="url(#pg2)"/>
<ellipse cx="248.8" cy="411.6" rx="5.6" ry="2.2" transform="rotate(115 248.8 411.6)" fill="url(#pg1)"/>
<ellipse cx="229.4" cy="402.1" rx="6.1" ry="3.8" transform="rotate(137 229.4 402.1)" fill="url(#pg2)"/>
<ellipse cx="281.4" cy="397.8" rx="4.9" ry="5.0" transform="rotate(77 281.4 397.8)" fill="url(#pg1)"/>
<ellipse cx="266.6" cy="428.4" rx="6.6" ry="3.4" transform="rotate(130 266.6 428.4)" fill="url(#pg1)"/>
<ellipse cx="282.0" cy="228.2" rx="4.8" ry="2.5" transform="rotate(36 282.0 228.2)" fill="url(#pg3)"/>
<ellipse cx="277.5" cy="267.0" rx="6.0" ry="3.3" transform="rotate(175 277.5 267.0)" fill="url(#pg2)"/>
<ellipse cx="332.4" cy="403.7" rx="5.2" ry="3.3" transform="rotate(57 332.4 403.7)" fill="url(#pg1)"/>
<ellipse cx="222.9" cy="356.0" rx="4.9" ry="4.1" transform="rotate(109 222.9 356.0)" fill="url(#pg1)"/>
<ellipse cx="195.5" cy="304.4" rx="5.7" ry="5.1" transform="rotate(129 195.5 304.4)" fill="url(#pg1)"/>
<ellipse cx="301.9" cy="456.3" rx="7.9" ry="3.5" transform="rotate(169 301.9 456.3)" fill="url(#pg2)"/>
<ellipse cx="304.7" cy="349.7" rx="6.9" ry="4.3" transform="rotate(98 304.7 349.7)" fill="url(#pg1)"/>
<ellipse cx="261.0" cy="323.2" rx="7.8" ry="3.0" transform="rotate(115 261.0 323.2)" fill="url(#pg1)"/>
<ellipse cx="286.3" cy="230.2" rx="2.8" ry="1.9" transform="rotate(119 286.3 230.2)" fill="url(#pg2)"/>
<ellipse cx="197.5" cy="280.3" rx="4.0" ry="1.5" transform="rotate(175 197.5 280.3)" fill="url(#pg1)"/>
<ellipse cx="261.1" cy="341.2" rx="7.8" ry="3.8" transform="rotate(70 261.1 341.2)" fill="url(#pg3)"/>
<ellipse cx="342.8" cy="470.1" rx="4.9" ry="3.4" transform="rotate(7 342.8 470.1)" fill="url(#pg3)"/>
<ellipse cx="201.5" cy="288.2" rx="3.3" ry="2.6" transform="rotate(172 201.5 288.2)" fill="url(#pg2)"/>
<ellipse cx="333.3" cy="454.1" rx="4.5" ry="5.3" transform="rotate(97 333.3 454.1)" fill="url(#pg2)"/>
<ellipse cx="319.7" cy="473.7" rx="4.2" ry="4.8" transform="rotate(122 319.7 473.7)" fill="url(#pg3)"/>
<ellipse cx="251.2" cy="326.9" rx="5.1" ry="2.2" transform="rotate(26 251.2 326.9)" fill="url(#pg1)"/>
<ellipse cx="340.6" cy="297.2" rx="5.0" ry="3.2" transform="rotate(83 340.6 297.2)" fill="url(#pg1)"/>
<ellipse cx="257.2" cy="264.6" rx="4.2" ry="2.8" transform="rotate(27 257.2 264.6)" fill="url(#pg3)"/>
<ellipse cx="216.7" cy="330.5" rx="5.0" ry="2.1" transform="rotate(101 216.7 330.5)" fill="url(#pg1)"/>
<ellipse cx="261.1" cy="392.6" rx="4.5" ry="3.7" transform="rotate(174 261.1 392.6)" fill="url(#pg3)"/>
<ellipse cx="256.3" cy="239.8" rx="4.1" ry="5.2" transform="rotate(85 256.3 239.8)" fill="url(#pg1)"/>
<ellipse cx="196.7" cy="470.1" rx="6.0" ry="3.7" transform="rotate(97 196.7 470.1)" fill="url(#pg2)"/>
<ellipse cx="204.1" cy="449.0" rx="4.7" ry="2.1" transform="rotate(74 204.1 449.0)" fill="url(#pg1)"/>
<ellipse cx="230.5" cy="459.9" rx="6.9" ry="3.9" transform="rotate(55 230.5 459.9)" fill="url(#pg3)"/>
<ellipse cx="256.2" cy="354.4" rx="4.1" ry="4.9" transform="rotate(27 256.2 354.4)" fill="url(#pg2)"/>
<ellipse cx="242.4" cy="269.8" rx="3.8" ry="2.2" transform="rotate(161 242.4 269.8)" fill="url(#pg1)"/>
<ellipse cx="231.8" cy="393.6" rx="4.2" ry="4.4" transform="rotate(49 231.8 393.6)" fill="url(#pg1)"/>
<ellipse cx="204.7" cy="327.9" rx="4.4" ry="3.9" transform="rotate(92 204.7 327.9)" fill="url(#pg1)"/>
<ellipse cx="345.1" cy="300.4" rx="2.6" ry="2.1" transform="rotate(134 345.1 300.4)" fill="url(#pg3)"/>
<ellipse cx="232.1" cy="294.6" rx="5.0" ry="5.3" transform="rotate(101 232.1 294.6)" fill="url(#pg2)"/>
<ellipse cx="259.7" cy="307.3" rx="5.0" ry="4.0" transform="rotate(120 259.7 307.3)" fill="url(#pg3)"/>
<ellipse cx="322.4" cy="466.9" rx="3.4" ry="3.0" transform="rotate(120 322.4 466.9)" fill="url(#pg1)"/>
<ellipse cx="342.0" cy="356.2" rx="2.7" ry="3.3" transform="rotate(9 342.0 356.2)" fill="url(#pg2)"/>
<ellipse cx="223.1" cy="370.5" rx="3.8" ry="2.1" transform="rotate(162 223.1 370.5)" fill="url(#pg1)"/>
<ellipse cx="297.1" cy="282.6" rx="6.6" ry="4.6" transform="rotate(148 297.1 282.6)" fill="url(#pg3)"/>
<ellipse cx="201.8" cy="454.7" rx="3.6" ry="3.0" transform="rotate(94 201.8 454.7)" fill="url(#pg3)"/>
<ellipse cx="279.3" cy="296.9" rx="4.1" ry="2.5" transform="rotate(30 279.3 296.9)" fill="url(#pg2)"/>
<ellipse cx="232.4" cy="236.4" rx="6.2" ry="3.4" transform="rotate(80 232.4 236.4)" fill="url(#pg2)"/>
<ellipse cx="316.6" cy="474.4" rx="3.9" ry="3.8" transform="rotate(170 316.6 474.4)" fill="url(#pg2)"/>
<ellipse cx="313.8" cy="422.6" rx="3.2" ry="4.1" transform="rotate(162 313.8 422.6)" fill="url(#pg2)"/>
<ellipse cx="289.6" cy="483.4" rx="4.2" ry="3.7" transform="rotate(45 289.6 483.4)" fill="url(#pg1)"/>
<ellipse cx="222.2" cy="310.5" rx="5.6" ry="2.7" transform="rotate(151 222.2 310.5)" fill="url(#pg1)"/>
<ellipse cx="249.0" cy="488.2" rx="3.7" ry="3.3" transform="rotate(26 249.0 488.2)" fill="url(#pg3)"/>
<ellipse cx="223.0" cy="488.8" rx="7.8" ry="3.8" transform="rotate(97 223.0 488.8)" fill="url(#pg1)"/>
<ellipse cx="293.9" cy="376.9" rx="5.2" ry="3.1" transform="rotate(3 293.9 376.9)" fill="url(#pg2)"/>
<ellipse cx="210.6" cy="488.8" rx="3.2" ry="3.5" transform="rotate(145 210.6 488.8)" fill="url(#pg1)"/>
<ellipse cx="220.6" cy="528.8" rx="4.9" ry="5.0" transform="rotate(71 220.6 528.8)" fill="url(#pg1)"/>
<ellipse cx="311.7" cy="261.9" rx="3.4" ry="3.7" transform="rotate(64 311.7 261.9)" fill="url(#pg2)"/>
<ellipse cx="251.5" cy="354.0" rx="6.5" ry="2.9" transform="rotate(74 251.5 354.0)" fill="url(#pg2)"/>
<ellipse cx="284.2" cy="407.0" rx="8.3" ry="3.7" transform="rotate(162 284.2 407.0)" fill="url(#pg3)"/>
<ellipse cx="170.5" cy="341.2" rx="3.1" ry="3.0" transform="rotate(175 170.5 341.2)" fill="url(#pg3)"/>
<ellipse cx="273.6" cy="398.5" rx="3.5" ry="3.2" transform="rotate(152 273.6 398.5)" fill="url(#pg2)"/>
<ellipse cx="316.8" cy="315.6" rx="4.9" ry="2.9" transform="rotate(80 316.8 315.6)" fill="url(#pg3)"/>
<ellipse cx="282.4" cy="330.1" rx="4.4" ry="3.3" transform="rotate(151 282.4 330.1)" fill="url(#pg1)"/>
<ellipse cx="261.4" cy="278.5" rx="5.5" ry="5.4" transform="rotate(81 261.4 278.5)" fill="url(#pg2)"/>
<ellipse cx="274.3" cy="448.7" rx="4.6" ry="5.9" transform="rotate(55 274.3 448.7)" fill="url(#pg1)"/>
<ellipse cx="222.4" cy="262.1" rx="6.3" ry="4.4" transform="rotate(30 222.4 262.1)" fill="url(#pg2)"/>
<ellipse cx="229.4" cy="536.8" rx="5.2" ry="4.0" transform="rotate(66 229.4 536.8)" fill="url(#pg2)"/>
<ellipse cx="227.6" cy="494.1" rx="5.6" ry="2.7" transform="rotate(62 227.6 494.1)" fill="url(#pg1)"/>
<ellipse cx="280.9" cy="309.7" rx="6.4" ry="3.5" transform="rotate(91 280.9 309.7)" fill="url(#pg1)"/>
<ellipse cx="250.9" cy="259.9" rx="6.5" ry="2.6" transform="rotate(168 250.9 259.9)" fill="url(#pg2)"/>
<ellipse cx="302.6" cy="434.5" rx="7.9" ry="4.0" transform="rotate(148 302.6 434.5)" fill="url(#pg1)"/>
<ellipse cx="315.9" cy="367.2" rx="4.4" ry="2.0" transform="rotate(13 315.9 367.2)" fill="url(#pg1)"/>
<ellipse cx="312.6" cy="468.3" rx="5.9" ry="2.4" transform="rotate(25 312.6 468.3)" fill="url(#pg2)"/>
<ellipse cx="338.3" cy="343.3" rx="5.7" ry="3.8" transform="rotate(128 338.3 343.3)" fill="url(#pg2)"/>
<ellipse cx="304.5" cy="462.2" rx="4.6" ry="2.5" transform="rotate(143 304.5 462.2)" fill="url(#pg1)"/>
<ellipse cx="188.3" cy="392.5" rx="4.6" ry="1.8" transform="rotate(117 188.3 392.5)" fill="url(#pg1)"/>
<ellipse cx="271.8" cy="401.7" rx="4.2" ry="4.5" transform="rotate(25 271.8 401.7)" fill="url(#pg3)"/>
<ellipse cx="265.7" cy="381.2" rx="2.8" ry="3.7" transform="rotate(160 265.7 381.2)" fill="url(#pg3)"/>
<ellipse cx="190.6" cy="417.8" rx="2.6" ry="2.1" transform="rotate(142 190.6 417.8)" fill="url(#pg1)"/>
<ellipse cx="302.8" cy="441.7" rx="3.6" ry="2.9" transform="rotate(134 302.8 441.7)" fill="url(#pg1)"/>
<ellipse cx="298.3" cy="503.5" rx="3.8" ry="2.1" transform="rotate(32 298.3 503.5)" fill="url(#pg1)"/>
<ellipse cx="238.7" cy="322.3" rx="3.2" ry="3.2" transform="rotate(73 238.7 322.3)" fill="url(#pg1)"/>
<ellipse cx="311.5" cy="420.5" rx="5.7" ry="2.8" transform="rotate(89 311.5 420.5)" fill="url(#pg1)"/>
<ellipse cx="315.6" cy="486.8" rx="4.7" ry="3.4" transform="rotate(63 315.6 486.8)" fill="url(#pg3)"/>
<ellipse cx="310.3" cy="491.3" rx="7.5" ry="4.0" transform="rotate(172 310.3 491.3)" fill="url(#pg3)"/>
<ellipse cx="330.0" cy="379.6" rx="4.5" ry="3.6" transform="rotate(162 330.0 379.6)" fill="url(#pg1)"/>
<ellipse cx="294.9" cy="433.7" rx="5.1" ry="4.8" transform="rotate(124 294.9 433.7)" fill="url(#pg3)"/>
<ellipse cx="277.4" cy="391.9" rx="5.2" ry="3.2" transform="rotate(59 277.4 391.9)" fill="url(#pg1)"/>
<ellipse cx="248.0" cy="270.2" rx="4.3" ry="5.5" transform="rotate(148 248.0 270.2)" fill="url(#pg1)"/>
<ellipse cx="194.0" cy="395.5" rx="4.9" ry="2.2" transform="rotate(136 194.0 395.5)" fill="url(#pg3)"/>
<ellipse cx="227.3" cy="501.8" rx="3.1" ry="3.2" transform="rotate(9 227.3 501.8)" fill="url(#pg3)"/>
<ellipse cx="230.3" cy="440.8" rx="5.7" ry="2.3" transform="rotate(85 230.3 440.8)" fill="url(#pg3)"/>
<ellipse cx="318.9" cy="396.2" rx="4.2" ry="2.3" transform="rotate(25 318.9 396.2)" fill="url(#pg1)"/>
<ellipse cx="261.0" cy="304.5" rx="5.5" ry="3.8" transform="rotate(11 261.0 304.5)" fill="url(#pg1)"/>
<ellipse cx="355.2" cy="389.6" rx="4.1" ry="2.3" transform="rotate(19 355.2 389.6)" fill="url(#pg1)"/>
<ellipse cx="251.4" cy="438.6" rx="5.6" ry="3.7" transform="rotate(97 251.4 438.6)" fill="url(#pg1)"/>
<ellipse cx="207.8" cy="456.1" rx="6.6" ry="2.5" transform="rotate(138 207.8 456.1)" fill="url(#pg1)"/>
<ellipse cx="288.9" cy="430.5" rx="5.9" ry="4.1" transform="rotate(165 288.9 430.5)" fill="url(#pg2)"/>
<ellipse cx="208.8" cy="353.1" rx="4.5" ry="2.5" transform="rotate(70 208.8 353.1)" fill="url(#pg3)"/>
<ellipse cx="303.8" cy="253.7" rx="4.7" ry="4.9" transform="rotate(146 303.8 253.7)" fill="url(#pg1)"/>
<ellipse cx="278.4" cy="252.0" rx="3.6" ry="2.4" transform="rotate(117 278.4 252.0)" fill="url(#pg1)"/>
<ellipse cx="271.1" cy="381.8" rx="3.7" ry="3.1" transform="rotate(65 271.1 381.8)" fill="url(#pg2)"/>
<ellipse cx="277.3" cy="445.4" rx="7.7" ry="4.1" transform="rotate(61 277.3 445.4)" fill="url(#pg2)"/>
<ellipse cx="219.4" cy="399.2" rx="4.5" ry="3.3" transform="rotate(114 219.4 399.2)" fill="url(#pg1)"/>
<ellipse cx="232.7" cy="415.9" rx="5.8" ry="4.2" transform="rotate(132 232.7 415.9)" fill="url(#pg1)"/>
<ellipse cx="276.5" cy="408.3" rx="5.6" ry="2.7" transform="rotate(175 276.5 408.3)" fill="url(#pg3)"/>
<ellipse cx="323.7" cy="448.7" rx="2.7" ry="3.3" transform="rotate(146 323.7 448.7)" fill="url(#pg2)"/>
<ellipse cx="273.0" cy="339.5" rx="3.9" ry="3.0" transform="rotate(135 273.0 339.5)" fill="url(#pg3)"/>
<ellipse cx="211.1" cy="416.4" rx="7.6" ry="3.9" transform="rotate(154 211.1 416.4)" fill="url(#pg1)"/>
<ellipse cx="182.8" cy="400.5" rx="4.2" ry="2.8" transform="rotate(125 182.8 400.5)" fill="url(#pg1)"/>
<ellipse cx="191.0" cy="333.5" rx="4.8" ry="2.2" transform="rotate(127 191.0 333.5)" fill="url(#pg1)"/>
<ellipse cx="308.4" cy="360.7" rx="5.3" ry="2.1" transform="rotate(139 308.4 360.7)" fill="url(#pg3)"/>
<ellipse cx="304.5" cy="326.1" rx="5.0" ry="2.9" transform="rotate(6 304.5 326.1)" fill="url(#pg3)"/>
<ellipse cx="324.8" cy="297.0" rx="4.0" ry="2.8" transform="rotate(51 324.8 297.0)" fill="url(#pg1)"/>
<ellipse cx="211.1" cy="495.3" rx="5.3" ry="4.5" transform="rotate(49 211.1 495.3)" fill="url(#pg1)"/>
<ellipse cx="293.8" cy="427.1" rx="3.5" ry="3.1" transform="rotate(153 293.8 427.1)" fill="url(#pg1)"/>
<ellipse cx="323.1" cy="382.0" rx="3.9" ry="2.6" transform="rotate(136 323.1 382.0)" fill="url(#pg3)"/>
<ellipse cx="283.7" cy="409.5" rx="8.7" ry="3.4" transform="rotate(120 283.7 409.5)" fill="url(#pg3)"/>
<ellipse cx="263.3" cy="299.6" rx="4.8" ry="3.8" transform="rotate(137 263.3 299.6)" fill="url(#pg2)"/>
<ellipse cx="315.5" cy="274.1" rx="3.8" ry="4.3" transform="rotate(31 315.5 274.1)" fill="url(#pg2)"/>
<ellipse cx="346.4" cy="312.6" rx="6.2" ry="4.1" transform="rotate(41 346.4 312.6)" fill="url(#pg1)"/>
<ellipse cx="250.4" cy="437.3" rx="5.5" ry="4.0" transform="rotate(109 250.4 437.3)" fill="url(#pg1)"/>
<ellipse cx="228.1" cy="373.5" rx="4.6" ry="4.9" transform="rotate(44 228.1 373.5)" fill="url(#pg1)"/>
<ellipse cx="177.7" cy="353.2" rx="7.4" ry="3.9" transform="rotate(20 177.7 353.2)" fill="url(#pg3)"/>
<ellipse cx="249.1" cy="425.3" rx="6.2" ry="4.5" transform="rotate(142 249.1 425.3)" fill="url(#pg1)"/>
<ellipse cx="190.5" cy="404.7" rx="4.1" ry="3.5" transform="rotate(0 190.5 404.7)" fill="url(#pg3)"/>
<ellipse cx="273.2" cy="271.3" rx="7.4" ry="3.5" transform="rotate(76 273.2 271.3)" fill="url(#pg1)"/>
<ellipse cx="175.8" cy="338.9" rx="4.4" ry="4.0" transform="rotate(114 175.8 338.9)" fill="url(#pg1)"/>
<ellipse cx="288.4" cy="410.2" rx="3.2" ry="3.5" transform="rotate(80 288.4 410.2)" fill="url(#pg3)"/>
<ellipse cx="256.7" cy="420.4" rx="4.1" ry="3.9" transform="rotate(72 256.7 420.4)" fill="url(#pg1)"/>
<ellipse cx="229.1" cy="359.7" rx="6.4" ry="4.2" transform="rotate(21 229.1 359.7)" fill="url(#pg1)"/>
<ellipse cx="311.5" cy="341.2" rx="4.8" ry="4.6" transform="rotate(128 311.5 341.2)" fill="url(#pg1)"/>
<ellipse cx="247.1" cy="370.2" rx="3.4" ry="4.6" transform="rotate(176 247.1 370.2)" fill="url(#pg3)"/>
<ellipse cx="347.3" cy="408.5" rx="3.6" ry="2.4" transform="rotate(48 347.3 408.5)" fill="url(#pg1)"/>
<ellipse cx="280.8" cy="288.9" rx="6.6" ry="3.6" transform="rotate(114 280.8 288.9)" fill="url(#pg2)"/>
<ellipse cx="257.9" cy="250.6" rx="4.2" ry="5.0" transform="rotate(160 257.9 250.6)" fill="url(#pg1)"/>
<ellipse cx="252.9" cy="407.5" rx="6.7" ry="3.0" transform="rotate(147 252.9 407.5)" fill="url(#pg2)"/>
<ellipse cx="248.0" cy="363.6" rx="4.5" ry="5.4" transform="rotate(64 248.0 363.6)" fill="url(#pg3)"/>
<ellipse cx="205.8" cy="401.0" rx="6.4" ry="4.8" transform="rotate(56 205.8 401.0)" fill="url(#pg2)"/>
<ellipse cx="198.5" cy="398.8" rx="5.2" ry="2.6" transform="rotate(108 198.5 398.8)" fill="url(#pg1)"/>
<ellipse cx="347.5" cy="339.4" rx="6.2" ry="3.6" transform="rotate(21 347.5 339.4)" fill="url(#pg2)"/>
<ellipse cx="241.6" cy="369.3" rx="3.3" ry="2.8" transform="rotate(47 241.6 369.3)" fill="url(#pg1)"/>
<ellipse cx="314.1" cy="352.9" rx="5.2" ry="4.1" transform="rotate(3 314.1 352.9)" fill="url(#pg2)"/>
<ellipse cx="338.6" cy="375.2" rx="6.2" ry="4.7" transform="rotate(46 338.6 375.2)" fill="url(#pg1)"/>
<ellipse cx="281.7" cy="450.9" rx="3.3" ry="3.0" transform="rotate(164 281.7 450.9)" fill="url(#pg2)"/>
<ellipse cx="200.5" cy="374.8" rx="5.0" ry="2.8" transform="rotate(51 200.5 374.8)" fill="url(#pg1)"/>
<ellipse cx="210.3" cy="283.5" rx="5.7" ry="3.4" transform="rotate(159 210.3 283.5)" fill="url(#pg1)"/>
<ellipse cx="249.2" cy="374.0" rx="6.5" ry="3.9" transform="rotate(22 249.2 374.0)" fill="url(#pg3)"/>
<ellipse cx="316.3" cy="508.4" rx="5.4" ry="5.6" transform="rotate(9 316.3 508.4)" fill="url(#pg3)"/>
<ellipse cx="320.0" cy="311.5" rx="4.4" ry="2.4" transform="rotate(63 320.0 311.5)" fill="url(#pg3)"/>
<ellipse cx="314.8" cy="361.3" rx="4.7" ry="3.5" transform="rotate(28 314.8 361.3)" fill="url(#pg2)"/>
<ellipse cx="253.1" cy="288.4" rx="3.3" ry="3.8" transform="rotate(129 253.1 288.4)" fill="url(#pg2)"/>
<ellipse cx="232.8" cy="533.9" rx="4.3" ry="3.4" transform="rotate(40 232.8 533.9)" fill="url(#pg2)"/>
<ellipse cx="314.6" cy="396.8" rx="7.0" ry="4.4" transform="rotate(8 314.6 396.8)" fill="url(#pg2)"/>
<ellipse cx="268.2" cy="342.7" rx="4.0" ry="2.5" transform="rotate(111 268.2 342.7)" fill="url(#pg1)"/>
<ellipse cx="263.0" cy="272.7" rx="3.1" ry="3.3" transform="rotate(100 263.0 272.7)" fill="url(#pg2)"/>
<ellipse cx="269.3" cy="234.3" rx="6.0" ry="5.0" transform="rotate(57 269.3 234.3)" fill="url(#pg1)"/>
<ellipse cx="337.2" cy="354.1" rx="4.6" ry="4.3" transform="rotate(126 337.2 354.1)" fill="url(#pg3)"/>
<ellipse cx="237.6" cy="361.1" rx="3.4" ry="3.6" transform="rotate(18 237.6 361.1)" fill="url(#pg2)"/>
<ellipse cx="207.3" cy="278.0" rx="2.9" ry="3.3" transform="rotate(148 207.3 278.0)" fill="url(#pg2)"/>
<ellipse cx="195.7" cy="337.0" rx="5.1" ry="3.0" transform="rotate(12 195.7 337.0)" fill="url(#pg3)"/>
<ellipse cx="214.4" cy="381.3" rx="4.6" ry="4.5" transform="rotate(57 214.4 381.3)" fill="url(#pg1)"/>
<ellipse cx="214.4" cy="280.5" rx="4.5" ry="4.0" transform="rotate(162 214.4 280.5)" fill="url(#pg1)"/>
<ellipse cx="196.8" cy="391.7" rx="5.4" ry="2.3" transform="rotate(153 196.8 391.7)" fill="url(#pg1)"/>
<ellipse cx="225.7" cy="487.6" rx="6.0" ry="4.4" transform="rotate(169 225.7 487.6)" fill="url(#pg1)"/>
<ellipse cx="186.8" cy="342.2" rx="8.9" ry="3.4" transform="rotate(105 186.8 342.2)" fill="url(#pg3)"/>
<ellipse cx="332.4" cy="382.3" rx="7.8" ry="3.1" transform="rotate(39 332.4 382.3)" fill="url(#pg1)"/>
<ellipse cx="240.0" cy="385.6" rx="4.9" ry="2.4" transform="rotate(96 240.0 385.6)" fill="url(#pg1)"/>
<ellipse cx="214.3" cy="384.8" rx="5.2" ry="4.4" transform="rotate(68 214.3 384.8)" fill="url(#pg1)"/>
<ellipse cx="335.6" cy="292.0" rx="4.8" ry="4.9" transform="rotate(169 335.6 292.0)" fill="url(#pg3)"/>
<ellipse cx="226.6" cy="238.4" rx="4.1" ry="3.2" transform="rotate(48 226.6 238.4)" fill="url(#pg1)"/>
<ellipse cx="218.1" cy="401.0" rx="6.0" ry="3.4" transform="rotate(138 218.1 401.0)" fill="url(#pg1)"/>
<ellipse cx="312.9" cy="291.3" rx="2.7" ry="3.3" transform="rotate(157 312.9 291.3)" fill="url(#pg1)"/>
<ellipse cx="200.9" cy="240.6" rx="6.4" ry="4.9" fill="url(#pg1)"/>
<ellipse cx="208.1" cy="242.4" rx="4.1" ry="3.0" fill="url(#pg1)"/>
<ellipse cx="208.6" cy="235.0" rx="3.8" ry="2.7" fill="url(#pg1)"/>
<ellipse cx="211.7" cy="237.0" rx="4.9" ry="3.4" fill="url(#pg1)"/>
<ellipse cx="217.9" cy="229.1" rx="3.8" ry="3.5" fill="url(#pg1)"/>
<ellipse cx="225.5" cy="229.2" rx="4.0" ry="2.8" fill="url(#pg1)"/>
<ellipse cx="231.9" cy="223.9" rx="4.4" ry="3.2" fill="url(#pg1)"/>
<ellipse cx="241.4" cy="224.7" rx="4.3" ry="4.3" fill="url(#pg1)"/>
<ellipse cx="243.2" cy="219.2" rx="6.4" ry="4.1" fill="url(#pg1)"/>
<ellipse cx="250.3" cy="218.9" rx="7.2" ry="5.1" fill="url(#pg1)"/>
<ellipse cx="253.4" cy="213.9" rx="4.6" ry="4.0" fill="url(#pg1)"/>
<ellipse cx="260.2" cy="212.8" rx="4.1" ry="2.9" fill="url(#pg1)"/>
<ellipse cx="259.6" cy="213.2" rx="7.6" ry="5.0" fill="url(#pg1)"/>
<ellipse cx="264.7" cy="218.7" rx="2.3" ry="2.5" fill="url(#pg1)"/>
<ellipse cx="271.5" cy="220.6" rx="6.4" ry="4.8" fill="url(#pg1)"/>
<ellipse cx="278.6" cy="219.0" rx="3.7" ry="3.2" fill="url(#pg1)"/>
<ellipse cx="284.7" cy="226.4" rx="5.5" ry="4.0" fill="url(#pg1)"/>
<ellipse cx="284.6" cy="229.4" rx="6.7" ry="4.6" fill="url(#pg1)"/>
<ellipse cx="294.3" cy="238.3" rx="4.3" ry="4.3" fill="url(#pg1)"/>
<ellipse cx="296.3" cy="243.7" rx="3.8" ry="3.1" fill="url(#pg1)"/>
<ellipse cx="304.5" cy="246.5" rx="4.4" ry="5.0" fill="url(#pg1)"/>
<ellipse cx="311.7" cy="252.8" rx="4.8" ry="4.6" fill="url(#pg1)"/>
<ellipse cx="315.3" cy="258.1" rx="5.6" ry="5.0" fill="url(#pg1)"/>
<ellipse cx="318.9" cy="261.0" rx="5.3" ry="5.2" fill="url(#pg1)"/>
<ellipse cx="325.1" cy="270.9" rx="5.7" ry="4.0" fill="url(#pg1)"/>
<ellipse cx="330.1" cy="270.9" rx="6.7" ry="5.1" fill="url(#pg1)"/>
<ellipse cx="337.5" cy="281.9" rx="4.6" ry="5.3" fill="url(#pg1)"/>
<ellipse cx="341.7" cy="285.4" rx="6.0" ry="4.3" fill="url(#pg1)"/>
<ellipse cx="345.1" cy="291.5" rx="4.8" ry="4.7" fill="url(#pg1)"/>
<ellipse cx="343.3" cy="293.5" rx="7.2" ry="5.4" fill="url(#pg1)"/>
<ellipse cx="345.8" cy="301.0" rx="2.9" ry="3.0" fill="url(#pg1)"/>
<ellipse cx="348.8" cy="300.6" rx="4.6" ry="5.2" fill="url(#pg1)"/>
<ellipse cx="353.6" cy="299.2" rx="8.3" ry="5.3" fill="url(#pg1)"/>
<ellipse cx="355.6" cy="298.3" rx="5.8" ry="3.8" fill="url(#pg1)"/>
<ellipse cx="354.3" cy="307.0" rx="5.8" ry="5.1" fill="url(#pg1)"/>
<ellipse cx="349.9" cy="319.2" rx="4.7" ry="3.6" fill="url(#pg1)"/>
<ellipse cx="348.9" cy="326.3" rx="3.6" ry="3.3" fill="url(#pg1)"/>
<ellipse cx="352.0" cy="335.8" rx="7.1" ry="4.6" fill="url(#pg1)"/>
<ellipse cx="356.2" cy="344.2" rx="2.3" ry="2.8" fill="url(#pg1)"/>
<ellipse cx="357.7" cy="348.9" rx="4.4" ry="5.4" fill="url(#pg1)"/>
<ellipse cx="358.9" cy="364.2" rx="4.9" ry="3.4" fill="url(#pg1)"/>
<ellipse cx="359.9" cy="380.0" rx="3.8" ry="2.6" fill="url(#pg1)"/>
<ellipse cx="359.6" cy="387.8" rx="4.6" ry="2.9" fill="url(#pg1)"/>
<ellipse cx="362.0" cy="396.4" rx="6.3" ry="4.7" fill="url(#pg1)"/>
<ellipse cx="359.3" cy="399.7" rx="4.7" ry="4.1" fill="url(#pg1)"/>
<ellipse cx="356.8" cy="404.8" rx="5.6" ry="3.6" fill="url(#pg1)"/>
<ellipse cx="347.1" cy="407.9" rx="2.5" ry="2.7" fill="url(#pg1)"/>
<ellipse cx="339.9" cy="411.4" rx="4.0" ry="5.0" fill="url(#pg1)"/>
<ellipse cx="327.6" cy="416.3" rx="4.2" ry="3.0" fill="url(#pg1)"/>
<ellipse cx="330.8" cy="425.5" rx="4.9" ry="3.7" fill="url(#pg1)"/>
<ellipse cx="333.9" cy="437.7" rx="5.1" ry="4.6" fill="url(#pg1)"/>
<ellipse cx="337.4" cy="445.8" rx="7.0" ry="5.2" fill="url(#pg1)"/>
<ellipse cx="338.9" cy="451.6" rx="6.0" ry="4.4" fill="url(#pg1)"/>
<ellipse cx="342.9" cy="462.5" rx="4.6" ry="2.9" fill="url(#pg1)"/>
<ellipse cx="344.1" cy="466.6" rx="7.9" ry="5.1" fill="url(#pg1)"/>
<ellipse cx="347.6" cy="481.7" rx="5.1" ry="4.0" fill="url(#pg1)"/>
<ellipse cx="346.8" cy="490.0" rx="5.3" ry="4.8" fill="url(#pg1)"/>
<ellipse cx="348.3" cy="499.5" rx="3.5" ry="3.4" fill="url(#pg1)"/>
<ellipse cx="346.5" cy="510.1" rx="3.3" ry="4.1" fill="url(#pg1)"/>
<ellipse cx="344.3" cy="514.0" rx="4.9" ry="4.4" fill="url(#pg1)"/>
<ellipse cx="341.8" cy="521.6" rx="4.9" ry="4.3" fill="url(#pg1)"/>
<ellipse cx="332.9" cy="526.9" rx="7.1" ry="5.1" fill="url(#pg1)"/>
<ellipse cx="329.8" cy="519.9" rx="2.6" ry="2.7" fill="url(#pg1)"/>
<ellipse cx="322.7" cy="518.8" rx="4.6" ry="4.0" fill="url(#pg1)"/>
<ellipse cx="312.1" cy="516.8" rx="3.5" ry="2.7" fill="url(#pg1)"/>
<ellipse cx="306.7" cy="515.3" rx="2.7" ry="3.3" fill="url(#pg1)"/>
<ellipse cx="302.7" cy="506.0" rx="5.8" ry="4.0" fill="url(#pg1)"/>
<ellipse cx="294.2" cy="501.8" rx="3.4" ry="2.9" fill="url(#pg1)"/>
<ellipse cx="290.0" cy="494.5" rx="5.7" ry="5.2" fill="url(#pg1)"/>
<ellipse cx="285.1" cy="486.4" rx="4.1" ry="4.1" fill="url(#pg1)"/>
<ellipse cx="284.9" cy="477.3" rx="7.2" ry="5.2" fill="url(#pg1)"/>
<ellipse cx="279.8" cy="472.2" rx="5.8" ry="3.9" fill="url(#pg1)"/>
<ellipse cx="274.6" cy="459.1" rx="5.7" ry="3.8" fill="url(#pg1)"/>
<ellipse cx="271.3" cy="451.5" rx="4.7" ry="4.5" fill="url(#pg1)"/>
<ellipse cx="269.4" cy="445.9" rx="3.0" ry="3.0" fill="url(#pg1)"/>
<ellipse cx="267.3" cy="445.9" rx="5.8" ry="4.2" fill="url(#pg1)"/>
<ellipse cx="262.2" cy="441.8" rx="5.7" ry="5.3" fill="url(#pg1)"/>
<ellipse cx="258.2" cy="437.5" rx="7.6" ry="5.2" fill="url(#pg1)"/>
<ellipse cx="258.1" cy="441.0" rx="5.9" ry="5.0" fill="url(#pg1)"/>
<ellipse cx="253.5" cy="444.9" rx="4.8" ry="4.0" fill="url(#pg1)"/>
<ellipse cx="253.9" cy="460.0" rx="3.9" ry="2.6" fill="url(#pg1)"/>
<ellipse cx="251.7" cy="477.5" rx="5.2" ry="4.0" fill="url(#pg1)"/>
<ellipse cx="250.3" cy="485.8" rx="4.4" ry="5.0" fill="url(#pg1)"/>
<ellipse cx="252.6" cy="496.7" rx="3.9" ry="4.8" fill="url(#pg1)"/>
<ellipse cx="245.3" cy="512.0" rx="3.7" ry="2.6" fill="url(#pg1)"/>
<ellipse cx="242.5" cy="523.1" rx="3.2" ry="3.0" fill="url(#pg1)"/>
<ellipse cx="240.7" cy="528.2" rx="4.1" ry="2.8" fill="url(#pg1)"/>
<ellipse cx="237.1" cy="538.8" rx="2.8" ry="2.9" fill="url(#pg1)"/>
<ellipse cx="236.1" cy="539.2" rx="2.3" ry="2.7" fill="url(#pg1)"/>
<ellipse cx="227.7" cy="538.2" rx="4.9" ry="4.6" fill="url(#pg1)"/>
<ellipse cx="223.0" cy="537.4" rx="4.5" ry="4.9" fill="url(#pg1)"/>
<ellipse cx="211.7" cy="539.6" rx="6.4" ry="4.5" fill="url(#pg1)"/>
<ellipse cx="206.3" cy="532.4" rx="4.7" ry="4.2" fill="url(#pg1)"/>
<ellipse cx="198.0" cy="529.8" rx="3.3" ry="3.6" fill="url(#pg1)"/>
<ellipse cx="192.3" cy="520.3" rx="6.1" ry="4.0" fill="url(#pg1)"/>
<ellipse cx="193.2" cy="509.7" rx="5.1" ry="3.4" fill="url(#pg1)"/>
<ellipse cx="193.1" cy="498.3" rx="6.7" ry="4.7" fill="url(#pg1)"/>
<ellipse cx="188.1" cy="486.3" rx="5.1" ry="3.6" fill="url(#pg1)"/>
<ellipse cx="188.5" cy="478.5" rx="4.2" ry="3.5" fill="url(#pg1)"/>
<ellipse cx="188.9" cy="472.1" rx="8.0" ry="5.4" fill="url(#pg1)"/>
<ellipse cx="188.1" cy="461.1" rx="7.3" ry="4.8" fill="url(#pg1)"/>
<ellipse cx="197.9" cy="449.1" rx="4.9" ry="4.9" fill="url(#pg1)"/>
<ellipse cx="202.9" cy="439.2" rx="4.4" ry="4.1" fill="url(#pg1)"/>
<ellipse cx="204.5" cy="434.7" rx="6.0" ry="4.2" fill="url(#pg1)"/>
<ellipse cx="204.6" cy="429.2" rx="3.7" ry="2.6" fill="url(#pg1)"/>
<ellipse cx="201.7" cy="423.9" rx="7.2" ry="4.9" fill="url(#pg1)"/>
<ellipse cx="196.9" cy="419.0" rx="3.6" ry="2.5" fill="url(#pg1)"/>
<ellipse cx="185.9" cy="417.0" rx="5.7" ry="3.7" fill="url(#pg1)"/>
<ellipse cx="181.1" cy="412.1" rx="5.8" ry="3.7" fill="url(#pg1)"/>
<ellipse cx="175.2" cy="401.6" rx="4.4" ry="3.9" fill="url(#pg1)"/>
<ellipse cx="172.3" cy="388.6" rx="3.8" ry="3.9" fill="url(#pg1)"/>
<ellipse cx="168.3" cy="377.2" rx="4.7" ry="3.8" fill="url(#pg1)"/>
<ellipse cx="168.5" cy="366.5" rx="5.2" ry="5.1" fill="url(#pg1)"/>
<ellipse cx="169.7" cy="358.3" rx="6.0" ry="5.4" fill="url(#pg1)"/>
<ellipse cx="166.8" cy="352.2" rx="5.2" ry="4.5" fill="url(#pg1)"/>
<ellipse cx="171.5" cy="337.4" rx="5.1" ry="4.4" fill="url(#pg1)"/>
<ellipse cx="171.7" cy="333.9" rx="4.2" ry="3.3" fill="url(#pg1)"/>
<ellipse cx="169.9" cy="323.3" rx="2.1" ry="2.6" fill="url(#pg1)"/>
<ellipse cx="170.3" cy="325.7" rx="4.0" ry="4.4" fill="url(#pg1)"/>
<ellipse cx="168.5" cy="324.8" rx="7.9" ry="5.5" fill="url(#pg1)"/>
<ellipse cx="165.7" cy="322.7" rx="3.8" ry="3.7" fill="url(#pg1)"/>
<ellipse cx="162.3" cy="321.3" rx="4.4" ry="3.1" fill="url(#pg1)"/>
<ellipse cx="159.6" cy="313.9" rx="2.9" ry="3.4" fill="url(#pg1)"/>
<ellipse cx="160.9" cy="310.3" rx="7.0" ry="4.4" fill="url(#pg1)"/>
<ellipse cx="164.3" cy="305.2" rx="5.6" ry="5.5" fill="url(#pg1)"/>
<ellipse cx="169.4" cy="306.6" rx="3.1" ry="2.6" fill="url(#pg1)"/>
<ellipse cx="177.4" cy="299.5" rx="6.2" ry="5.5" fill="url(#pg1)"/>
<ellipse cx="180.9" cy="300.2" rx="4.0" ry="3.6" fill="url(#pg1)"/>
<ellipse cx="187.5" cy="297.1" rx="3.6" ry="4.2" fill="url(#pg1)"/>
<ellipse cx="187.5" cy="294.2" rx="3.6" ry="3.5" fill="url(#pg1)"/>
<ellipse cx="193.0" cy="289.9" rx="2.3" ry="2.5" fill="url(#pg1)"/>
<ellipse cx="191.9" cy="286.5" rx="4.1" ry="3.7" fill="url(#pg1)"/>
<ellipse cx="195.1" cy="279.2" rx="5.0" ry="3.3" fill="url(#pg1)"/>
<ellipse cx="198.2" cy="273.5" rx="2.6" ry="2.6" fill="url(#pg1)"/>
<ellipse cx="199.3" cy="268.3" rx="4.8" ry="3.4" fill="url(#pg1)"/>
<ellipse cx="195.0" cy="260.7" rx="5.1" ry="3.7" fill="url(#pg1)"/>
<ellipse cx="201.3" cy="253.1" rx="3.5" ry="2.5" fill="url(#pg1)"/>
<ellipse cx="201.3" cy="245.3" rx="4.1" ry="3.1" fill="url(#pg1)"/>
<ellipse cx="334.3" cy="394.2" rx="2.4" ry="1.3" transform="rotate(180 334.3 394.2)" fill="#fff"/>
<ellipse cx="300.3" cy="473.5" rx="2.3" ry="1.8" transform="rotate(122 300.3 473.5)" fill="#fff"/>
<ellipse cx="205.9" cy="461.8" rx="3.3" ry="1.2" transform="rotate(33 205.9 461.8)" fill="#fff"/>
<ellipse cx="222.7" cy="524.4" rx="3.2" ry="1.3" transform="rotate(117 222.7 524.4)" fill="#fff"/>
<ellipse cx="338.8" cy="359.4" rx="3.3" ry="0.9" transform="rotate(42 338.8 359.4)" fill="#fff"/>
<ellipse cx="314.5" cy="402.8" rx="3.0" ry="1.5" transform="rotate(27 314.5 402.8)" fill="#fff"/>
<ellipse cx="310.3" cy="409.9" rx="2.1" ry="1.2" transform="rotate(45 310.3 409.9)" fill="#fff"/>
<ellipse cx="190.7" cy="354.8" rx="1.6" ry="1.3" transform="rotate(116 190.7 354.8)" fill="#fff"/>
<ellipse cx="208.4" cy="512.4" rx="3.1" ry="0.9" transform="rotate(86 208.4 512.4)" fill="#fff"/>
<ellipse cx="353.3" cy="375.1" rx="2.6" ry="1.3" transform="rotate(39 353.3 375.1)" fill="#fff"/>
<ellipse cx="310.5" cy="422.5" rx="3.5" ry="1.0" transform="rotate(127 310.5 422.5)" fill="#fff"/>
<ellipse cx="213.2" cy="519.9" rx="1.5" ry="1.7" transform="rotate(118 213.2 519.9)" fill="#fff"/>
<ellipse cx="258.0" cy="415.8" rx="1.6" ry="0.9" transform="rotate(129 258.0 415.8)" fill="#fff"/>
<ellipse cx="206.8" cy="453.0" rx="3.1" ry="1.8" transform="rotate(102 206.8 453.0)" fill="#fff"/>
<ellipse cx="192.4" cy="480.6" rx="2.0" ry="1.2" transform="rotate(168 192.4 480.6)" fill="#fff"/>
<ellipse cx="241.0" cy="249.6" rx="2.9" ry="1.1" transform="rotate(92 241.0 249.6)" fill="#fff"/>
<ellipse cx="208.6" cy="464.4" rx="2.9" ry="1.5" transform="rotate(64 208.6 464.4)" fill="#fff"/>
<ellipse cx="267.3" cy="417.4" rx="3.5" ry="1.4" transform="rotate(173 267.3 417.4)" fill="#fff"/>
<ellipse cx="188.7" cy="333.7" rx="2.6" ry="1.3" transform="rotate(84 188.7 333.7)" fill="#fff"/>
<ellipse cx="264.0" cy="427.9" rx="3.1" ry="1.3" transform="rotate(110 264.0 427.9)" fill="#fff"/>
<ellipse cx="281.8" cy="234.0" rx="2.7" ry="1.5" transform="rotate(58 281.8 234.0)" fill="#fff"/>
<ellipse cx="272.3" cy="238.0" rx="3.2" ry="1.2" transform="rotate(52 272.3 238.0)" fill="#fff"/></g>
<path d="M349 322 C 352 312, 355 306, 359 301" stroke="#2f70d8" stroke-width="4" stroke-linecap="round" fill="none"/>
<!-- cell -->
<path d="M 620.0 249.0 L 620.5 247.2 L 621.0 246.4 L 621.5 245.9 L 622.0 245.5 L 622.5 245.3 L 623.0 245.2 L 623.5 245.3 L 624.0 245.5 L 624.5 245.9 L 625.0 246.4 L 625.5 247.2 L 626.0 249.0 L 626.4 250.8 L 626.9 251.6 L 627.4 252.1 L 627.9 252.5 L 628.4 252.7 L 628.9 252.8 L 629.4 252.7 L 629.9 252.5 L 630.4 252.1 L 630.9 251.6 L 631.4 250.8 L 631.9 249.0 L 632.4 247.2 L 632.9 246.4 L 633.4 245.9 L 633.9 245.5 L 634.4 245.3 L 634.9 245.2 L 635.4 245.3 L 635.9 245.5 L 636.4 245.9 L 636.9 246.4 L 637.4 247.2 L 637.9 249.0 L 638.3 250.8 L 638.8 251.6 L 639.3 252.1 L 639.8 252.5 L 640.3 252.7 L 640.8 252.8 L 641.3 252.7 L 641.8 252.5 L 642.3 252.1 L 642.8 251.6 L 643.3 250.8 L 643.8 249.0 L 644.3 247.2 L 644.8 246.4 L 645.3 245.9 L 645.8 245.5 L 646.3 245.3 L 646.8 245.2 L 647.3 245.3 L 647.8 245.5 L 648.3 245.9 L 648.8 246.4 L 649.3 247.2 L 649.8 249.0 L 650.2 250.8 L 650.7 251.6 L 651.2 252.1 L 651.7 252.5 L 652.2 252.7 L 652.7 252.8 L 653.2 252.7 L 653.7 252.5 L 654.2 252.1 L 654.7 251.6 L 655.2 250.8 L 655.7 249.0 L 656.2 247.2 L 656.7 246.4 L 657.2 245.9 L 657.7 245.5 L 658.2 245.3 L 658.7 245.2 L 659.2 245.3 L 659.7 245.5 L 660.2 245.9 L 660.7 246.4 L 661.2 247.2 L 661.6 249.0 L 662.1 250.8 L 662.6 251.6 L 663.1 252.1 L 663.6 252.5 L 664.1 252.7 L 664.6 252.8 L 665.1 252.7 L 665.6 252.5 L 666.1 252.1 L 666.6 251.6 L 667.1 250.8 L 667.6 249.0 L 668.1 247.2 L 668.6 246.4 L 669.1 245.9 L 669.6 245.5 L 670.1 245.3 L 670.6 245.2 L 671.1 245.3 L 671.6 245.5 L 672.1 245.9 L 672.6 246.4 L 673.1 247.2 L 673.5 249.0 L 674.0 250.8 L 674.5 251.6 L 675.0 252.1 L 675.5 252.5 L 676.0 252.7 L 676.5 252.8 L 677.0 252.7 L 677.5 252.5 L 678.0 252.1 L 678.5 251.6 L 679.0 250.8 L 679.5 249.0 L 680.0 247.2 L 680.5 246.4 L 681.0 245.9 L 681.5 245.5 L 682.0 245.3 L 682.5 245.2 L 683.0 245.3 L 683.5 245.5 L 684.0 245.9 L 684.5 246.4 L 685.0 247.2 L 685.5 249.0 L 685.9 250.8 L 686.4 251.6 L 686.9 252.1 L 687.4 252.5 L 687.9 252.7 L 688.4 252.8 L 688.9 252.7 L 689.4 252.5 L 689.9 252.1 L 690.4 251.6 L 690.9 250.8 L 691.4 249.0 L 691.9 247.2 L 692.4 246.4 L 692.9 245.9 L 693.4 245.5 L 693.9 245.3 L 694.4 245.2 L 694.9 245.3 L 695.4 245.5 L 695.9 245.9 L 696.4 246.4 L 696.9 247.2 L 697.4 249.0 L 697.8 250.8 L 698.3 251.6 L 698.8 252.1 L 699.3 252.5 L 699.8 252.7 L 700.3 252.8 L 700.8 252.7 L 701.3 252.5 L 701.8 252.1 L 702.3 251.6 L 702.8 250.8 L 703.3 249.0 L 703.8 247.2 L 704.3 246.4 L 704.8 245.9 L 705.3 245.5 L 705.8 245.3 L 706.3 245.2 L 706.8 245.3 L 707.3 245.5 L 707.8 245.9 L 708.3 246.4 L 708.8 247.2 L 709.2 249.0 L 709.7 250.8 L 710.2 251.6 L 710.7 252.1 L 711.2 252.5 L 711.7 252.7 L 712.2 252.8 L 712.7 252.7 L 713.2 252.5 L 713.7 252.1 L 714.2 251.6 L 714.7 250.8 L 715.2 249.0 L 715.7 247.2 L 716.2 246.4 L 716.7 245.9 L 717.2 245.5 L 717.7 245.3 L 718.2 245.2 L 718.7 245.3 L 719.2 245.5 L 719.7 245.9 L 720.2 246.4 L 720.7 247.2 L 721.1 249.0 L 721.6 250.8 L 722.1 251.6 L 722.6 252.1 L 723.1 252.5 L 723.6 252.7 L 724.1 252.8 L 724.6 252.7 L 725.1 252.5 L 725.6 252.1 L 726.1 251.6 L 726.6 250.8 L 727.1 249.0 L 727.6 247.2 L 728.1 246.4 L 728.6 245.9 L 729.1 245.5 L 729.6 245.3 L 730.1 245.2 L 730.6 245.3 L 731.1 245.5 L 731.6 245.9 L 732.1 246.4 L 732.6 247.2 L 733.0 249.0 L 733.5 250.8 L 734.0 251.6 L 734.5 252.1 L 735.0 252.5 L 735.5 252.7 L 736.0 252.8 L 736.5 252.7 L 737.0 252.5 L 737.5 252.1 L 738.0 251.6 L 738.5 250.8 L 739.0 249.0 L 767.0 297.0 L 768.1 298.6 L 768.4 299.6 L 768.5 300.4 L 768.5 301.2 L 768.3 301.9 L 767.9 302.6 L 767.5 303.1 L 767.0 303.6 L 766.3 303.9 L 765.4 304.2 L 764.4 304.4 L 762.5 304.0 L 760.6 303.6 L 759.6 303.8 L 758.7 304.1 L 758.0 304.4 L 757.5 304.9 L 757.1 305.4 L 756.7 306.1 L 756.5 306.8 L 756.5 307.6 L 756.6 308.4 L 756.9 309.4 L 758.0 311.0 L 759.0 309.4 L 759.7 308.8 L 760.4 308.4 L 760.9 308.2 L 761.5 308.2 L 762.0 308.2 L 762.4 308.5 L 762.9 308.8 L 763.2 309.3 L 763.5 310.0 L 763.8 310.9 L 763.8 312.7 L 763.7 314.6 L 764.0 315.5 L 764.3 316.2 L 764.6 316.7 L 765.1 317.0 L 765.5 317.3 L 766.0 317.3 L 766.6 317.3 L 767.1 317.1 L 767.8 316.7 L 768.5 316.1 L 769.5 314.5 L 770.5 312.9 L 771.2 312.3 L 771.9 311.9 L 772.4 311.7 L 773.0 311.7 L 773.5 311.7 L 773.9 312.0 L 774.4 312.3 L 774.7 312.8 L 775.0 313.5 L 775.3 314.4 L 775.3 316.2 L 775.2 318.1 L 775.5 319.0 L 775.8 319.7 L 776.1 320.2 L 776.6 320.5 L 777.0 320.8 L 777.5 320.8 L 778.1 320.8 L 778.6 320.6 L 779.3 320.2 L 780.0 319.6 L 781.0 318.0 L 811.0 371.0 L 812.2 372.4 L 812.6 373.3 L 812.7 374.1 L 812.7 374.7 L 812.6 375.3 L 812.4 375.7 L 812.1 376.1 L 811.6 376.4 L 811.0 376.7 L 810.2 376.8 L 809.3 376.8 L 807.5 376.2 L 805.7 375.7 L 804.8 375.6 L 804.0 375.8 L 803.4 376.0 L 802.9 376.3 L 802.6 376.7 L 802.4 377.2 L 802.3 377.7 L 802.3 378.4 L 802.4 379.1 L 802.8 380.0 L 804.0 381.4 L 805.2 382.9 L 805.6 383.8 L 805.7 384.5 L 805.7 385.1 L 805.6 385.7 L 805.4 386.2 L 805.1 386.6 L 804.6 386.9 L 804.0 387.1 L 803.2 387.2 L 802.3 387.2 L 800.5 386.7 L 798.7 386.1 L 797.8 386.1 L 797.0 386.2 L 796.4 386.5 L 795.9 386.8 L 795.6 387.2 L 795.4 387.6 L 795.3 388.2 L 795.3 388.8 L 795.4 389.6 L 795.8 390.4 L 797.0 391.9 L 798.2 393.3 L 798.6 394.2 L 798.7 394.9 L 798.7 395.6 L 798.6 396.1 L 798.4 396.6 L 798.1 397.0 L 797.6 397.3 L 797.0 397.6 L 796.2 397.7 L 795.3 397.7 L 793.5 397.1 L 791.7 396.5 L 790.8 396.5 L 790.0 396.7 L 789.4 396.9 L 788.9 397.2 L 788.6 397.6 L 788.4 398.1 L 788.3 398.6 L 788.3 399.3 L 788.4 400.0 L 788.8 400.9 L 790.0 402.3 L 791.2 403.8 L 791.6 404.6 L 791.7 405.4 L 791.7 406.0 L 791.6 406.6 L 791.4 407.1 L 791.1 407.5 L 790.6 407.8 L 790.0 408.0 L 789.2 408.1 L 788.3 408.1 L 786.5 407.6 L 784.7 407.0 L 783.8 407.0 L 783.0 407.1 L 782.4 407.3 L 781.9 407.7 L 781.6 408.1 L 781.4 408.5 L 781.3 409.1 L 781.3 409.7 L 781.4 410.5 L 781.8 411.3 L 783.0 412.8 L 784.2 414.2 L 784.6 415.1 L 784.7 415.8 L 784.7 416.5 L 784.6 417.0 L 784.4 417.5 L 784.1 417.9 L 783.6 418.2 L 783.0 418.4 L 782.2 418.6 L 781.3 418.6 L 779.5 418.0 L 777.7 417.4 L 776.8 417.4 L 776.0 417.6 L 775.4 417.8 L 774.9 418.1 L 774.6 418.5 L 774.4 419.0 L 774.3 419.5 L 774.3 420.2 L 774.4 420.9 L 774.8 421.8 L 776.0 423.2 L 777.2 424.7 L 777.6 425.5 L 777.7 426.3 L 777.7 426.9 L 777.6 427.5 L 777.4 427.9 L 777.1 428.3 L 776.6 428.7 L 776.0 428.9 L 775.2 429.0 L 774.3 429.0 L 772.5 428.4 L 770.7 427.9 L 769.8 427.9 L 769.0 428.0 L 768.4 428.2 L 767.9 428.5 L 767.6 428.9 L 767.4 429.4 L 767.3 430.0 L 767.3 430.6 L 767.4 431.4 L 767.8 432.2 L 769.0 433.7 L 770.2 435.1 L 770.6 436.0 L 770.7 436.7 L 770.7 437.4 L 770.6 437.9 L 770.4 438.4 L 770.1 438.8 L 769.6 439.1 L 769.0 439.3 L 768.2 439.5 L 767.3 439.5 L 765.5 438.9 L 763.7 438.3 L 762.8 438.3 L 762.0 438.4 L 761.4 438.7 L 760.9 439.0 L 760.6 439.4 L 760.4 439.9 L 760.3 440.4 L 760.3 441.1 L 760.4 441.8 L 760.8 442.7 L 762.0 444.1 L 763.2 445.6 L 763.6 446.4 L 763.7 447.2 L 763.7 447.8 L 763.6 448.4 L 763.4 448.8 L 763.1 449.2 L 762.6 449.5 L 762.0 449.8 L 761.2 449.9 L 760.3 449.9 L 758.5 449.3 L 756.7 448.8 L 755.8 448.8 L 755.0 448.9 L 754.4 449.1 L 753.9 449.4 L 753.6 449.8 L 753.4 450.3 L 753.3 450.9 L 753.3 451.5 L 753.4 452.2 L 753.8 453.1 L 755.0 454.6 L 756.2 456.0 L 756.6 456.9 L 756.7 457.6 L 756.7 458.3 L 756.6 458.8 L 756.4 459.3 L 756.1 459.7 L 755.6 460.0 L 755.0 460.2 L 754.2 460.4 L 753.3 460.3 L 751.5 459.8 L 749.7 459.2 L 748.8 459.2 L 748.0 459.3 L 747.4 459.6 L 746.9 459.9 L 746.6 460.3 L 746.4 460.7 L 746.3 461.3 L 746.3 461.9 L 746.4 462.7 L 746.8 463.6 L 748.0 465.0 L 695.0 465.0 L 693.3 466.0 L 692.3 466.2 L 691.5 466.2 L 690.8 466.0 L 690.1 465.8 L 689.6 465.4 L 689.1 464.9 L 688.8 464.4 L 688.5 463.7 L 688.3 462.8 L 688.3 461.8 L 689.0 460.0 L 689.7 458.2 L 689.7 457.2 L 689.5 456.3 L 689.2 455.6 L 688.9 455.1 L 688.4 454.6 L 687.9 454.2 L 687.2 454.0 L 686.5 453.8 L 685.7 453.8 L 684.7 454.0 L 683.0 455.0 L 683.7 456.8 L 683.7 457.8 L 683.5 458.7 L 683.2 459.4 L 682.9 459.9 L 682.4 460.4 L 681.9 460.8 L 681.2 461.0 L 680.5 461.2 L 679.7 461.2 L 678.7 461.0 L 677.0 460.0 L 675.3 459.0 L 674.3 458.8 L 673.5 458.8 L 672.8 459.0 L 672.1 459.2 L 671.6 459.6 L 671.1 460.1 L 670.8 460.6 L 670.5 461.3 L 670.3 462.2 L 670.3 463.2 L 671.0 465.0 L 615.0 465.0 L 613.2 465.4 L 612.2 465.4 L 611.5 465.2 L 610.9 464.9 L 610.4 464.5 L 610.1 464.1 L 609.9 463.6 L 609.8 463.0 L 609.9 462.4 L 610.1 461.7 L 610.5 460.8 L 611.8 459.4 L 613.1 458.1 L 613.6 457.2 L 613.8 456.5 L 613.8 455.9 L 613.8 455.3 L 613.6 454.8 L 613.2 454.4 L 612.8 454.0 L 612.2 453.7 L 611.4 453.5 L 610.5 453.5 L 608.7 453.9 L 606.8 454.3 L 605.9 454.2 L 605.1 454.1 L 604.6 453.8 L 604.1 453.4 L 603.8 453.0 L 603.6 452.5 L 603.5 451.9 L 603.6 451.3 L 603.8 450.5 L 604.2 449.7 L 605.5 448.3 L 606.8 447.0 L 607.2 446.1 L 607.4 445.4 L 607.5 444.7 L 607.4 444.2 L 607.2 443.7 L 606.9 443.2 L 606.4 442.9 L 605.9 442.6 L 605.1 442.4 L 604.2 442.3 L 602.3 442.8 L 600.5 443.2 L 599.6 443.1 L 598.8 442.9 L 598.2 442.7 L 597.8 442.3 L 597.4 441.9 L 597.2 441.4 L 597.2 440.8 L 597.2 440.2 L 597.4 439.4 L 597.9 438.6 L 599.2 437.2 L 600.5 435.9 L 600.9 435.0 L 601.1 434.3 L 601.2 433.6 L 601.1 433.1 L 600.9 432.6 L 600.6 432.1 L 600.1 431.8 L 599.5 431.5 L 598.8 431.3 L 597.8 431.2 L 596.0 431.7 L 594.2 432.1 L 593.2 432.0 L 592.5 431.8 L 591.9 431.6 L 591.4 431.2 L 591.1 430.8 L 590.9 430.3 L 590.8 429.7 L 590.9 429.1 L 591.1 428.3 L 591.5 427.5 L 592.8 426.1 L 594.1 424.8 L 594.6 423.9 L 594.8 423.2 L 594.8 422.5 L 594.8 422.0 L 594.6 421.5 L 594.2 421.0 L 593.8 420.7 L 593.2 420.4 L 592.4 420.2 L 591.5 420.1 L 589.7 420.6 L 587.8 421.0 L 586.9 420.9 L 586.1 420.7 L 585.6 420.4 L 585.1 420.1 L 584.8 419.7 L 584.6 419.2 L 584.5 418.6 L 584.6 417.9 L 584.8 417.2 L 585.2 416.4 L 586.5 415.0 L 587.8 413.6 L 588.2 412.8 L 588.4 412.1 L 588.5 411.4 L 588.4 410.8 L 588.2 410.3 L 587.9 409.9 L 587.4 409.6 L 586.9 409.3 L 586.1 409.1 L 585.2 409.0 L 583.3 409.4 L 581.5 409.9 L 580.6 409.8 L 579.8 409.6 L 579.2 409.3 L 578.8 409.0 L 578.4 408.5 L 578.2 408.0 L 578.2 407.5 L 578.2 406.8 L 578.4 406.1 L 578.9 405.2 L 580.2 403.9 L 581.5 402.5 L 581.9 401.7 L 582.1 400.9 L 582.2 400.3 L 582.1 399.7 L 581.9 399.2 L 581.6 398.8 L 581.1 398.4 L 580.5 398.2 L 579.8 398.0 L 578.8 397.9 L 577.0 398.3 L 575.2 398.8 L 574.2 398.7 L 573.5 398.5 L 572.9 398.2 L 572.4 397.9 L 572.1 397.4 L 571.9 396.9 L 571.8 396.4 L 571.9 395.7 L 572.1 395.0 L 572.5 394.1 L 573.8 392.8 L 575.1 391.4 L 575.6 390.6 L 575.8 389.8 L 575.8 389.2 L 575.8 388.6 L 575.6 388.1 L 575.2 387.7 L 574.8 387.3 L 574.2 387.1 L 573.4 386.9 L 572.5 386.8 L 570.7 387.2 L 568.8 387.7 L 567.9 387.6 L 567.1 387.4 L 566.6 387.1 L 566.1 386.8 L 565.8 386.3 L 565.6 385.8 L 565.5 385.3 L 565.6 384.6 L 565.8 383.9 L 566.2 383.0 L 567.5 381.7 L 568.8 380.3 L 569.2 379.5 L 569.4 378.7 L 569.5 378.1 L 569.4 377.5 L 569.2 377.0 L 568.9 376.6 L 568.4 376.2 L 567.9 375.9 L 567.1 375.8 L 566.2 375.7 L 564.3 376.1 L 562.5 376.5 L 561.6 376.5 L 560.8 376.3 L 560.2 376.0 L 559.8 375.6 L 559.4 375.2 L 559.2 374.7 L 559.2 374.1 L 559.2 373.5 L 559.4 372.8 L 559.9 371.9 L 561.2 370.6 L 562.5 369.2 L 562.9 368.3 L 563.1 367.6 L 563.2 367.0 L 563.1 366.4 L 562.9 365.9 L 562.6 365.5 L 562.1 365.1 L 561.5 364.8 L 560.8 364.6 L 559.8 364.6 L 558.0 365.0 L 590.0 313.0 L 590.9 311.3 L 591.5 310.7 L 592.0 310.3 L 592.6 310.0 L 593.1 309.9 L 593.5 309.9 L 593.9 310.1 L 594.3 310.4 L 594.7 310.9 L 595.0 311.5 L 595.2 312.4 L 595.3 314.2 L 595.3 316.1 L 595.5 317.0 L 595.8 317.6 L 596.2 318.1 L 596.6 318.4 L 597.0 318.6 L 597.4 318.6 L 597.9 318.5 L 598.5 318.2 L 599.0 317.8 L 599.6 317.2 L 600.5 315.5 L 601.4 313.8 L 602.0 313.2 L 602.5 312.8 L 603.1 312.5 L 603.6 312.4 L 604.0 312.4 L 604.4 312.6 L 604.8 312.9 L 605.2 313.4 L 605.5 314.0 L 605.7 314.9 L 605.8 316.7 L 605.8 318.6 L 606.0 319.5 L 606.3 320.1 L 606.7 320.6 L 607.1 320.9 L 607.5 321.1 L 607.9 321.1 L 608.4 321.0 L 609.0 320.7 L 609.5 320.3 L 610.1 319.7 L 611.0 318.0 L 609.1 317.8 L 608.2 317.4 L 607.5 316.9 L 607.0 316.4 L 606.6 315.9 L 606.4 315.3 L 606.4 314.6 L 606.4 314.0 L 606.6 313.3 L 607.0 312.6 L 607.6 311.8 L 609.2 310.8 L 610.9 309.7 L 611.5 308.9 L 611.9 308.2 L 612.1 307.5 L 612.1 306.9 L 612.1 306.2 L 611.9 305.6 L 611.5 305.1 L 611.0 304.6 L 610.3 304.1 L 609.4 303.7 L 607.5 303.5 L 605.6 303.3 L 604.7 302.9 L 604.0 302.4 L 603.5 301.9 L 603.1 301.4 L 602.9 300.8 L 602.9 300.1 L 602.9 299.5 L 603.1 298.8 L 603.5 298.1 L 604.1 297.3 L 605.7 296.3 L 607.4 295.2 L 608.0 294.4 L 608.4 293.7 L 608.6 293.0 L 608.6 292.4 L 608.6 291.7 L 608.4 291.1 L 608.0 290.6 L 607.5 290.1 L 606.8 289.6 L 605.9 289.2 L 604.0 289.0 Z" fill="#fcf0c4" stroke="#c8914a" stroke-width="2.4" stroke-linejoin="round"/>
<ellipse cx="694" cy="380.5" rx="46.5" ry="45" fill="#f5cf9a" stroke="#e3bf82" stroke-width="1.8"/>
<!-- chromosomes -->
<g fill="none" stroke="#e58383" stroke-width="1.1">
 <circle cx="692.5" cy="363" r="14"/><circle cx="692.5" cy="363" r="11.5"/>
 <path d="M686 346 h13 M686 349.5 h13 M690.5 349.5 v4 M694.5 349.5 v4 M686 376.5 h13 M686 380 h13 M690.5 372.5 v4 M694.5 372.5 v4"/>
 <circle cx="660" cy="386.5" r="10"/><circle cx="660" cy="386.5" r="8"/>
 <path d="M655 375 h10 M655 398 h10 M648 381.5 v10 M672 381.5 v10 M651.5 385 h-3.5 M651.5 388 h-3.5 M668.5 385 h3.5 M668.5 388 h3.5"/>
</g>
<!-- ER -->
<g id="er" fill="none" stroke-linecap="round">
 <path d="M630.5 313.5 Q 667 298, 702 304"/>
 <path d="M711 305.5 Q 730 310, 743.5 319"/>
 <path d="M629 329 Q 686 299, 741 333"/>
 <path d="M656 328 Q 686 316.5, 712.5 329.5"/>
 <path d="M633 316 L 634 325 M669 305 L 669 315 M697 304 L 697 314 M716 314 L 720 322 M738 320 L 738 329"/>
</g>
<use href="#er" stroke="#bccbdc" stroke-width="8.4"/>
<use href="#er" stroke="#e4e6eb" stroke-width="6.2"/>
<!-- golgi -->
<g id="golgi"><path d="M644 268 C 644 286, 665 294, 687 294 C 710 294, 728 286, 729 275 L 716 276 C 712 281, 700 281, 687 281 C 674 281, 660 280, 656 274 Z"/>
 <circle cx="649.7" cy="266" r="6.2"/><circle cx="721.7" cy="273.8" r="6.7"/>
 <circle cx="666.4" cy="273.8" r="5"/><circle cx="682" cy="273.8" r="5.6"/><circle cx="701" cy="272.6" r="5"/>
 <circle cx="639.6" cy="253" r="5"/><circle cx="673" cy="261.5" r="5"/><circle cx="720.6" cy="254.8" r="7"/></g>
<use href="#golgi" fill="none" stroke="#b9c5d8" stroke-width="2.4"/>
<use href="#golgi" fill="#fff"/>
<path d="M686.7 281 L686.7 319.5" stroke="#1a1a1a" stroke-width="1"/>
<!-- up arrow -->
<path d="M 688.3 283.1 L 689.2 279.1 L 689.8 275.1 L 690.5 271.3 L 691.1 267.5 L 691.8 263.8 L 692.5 260.1 L 693.2 256.6 L 694.0 253.1 L 694.8 249.7 L 695.7 246.4 L 696.6 243.2 L 697.5 240.0 L 698.5 237.0 L 699.5 233.9 L 700.5 231.0 L 701.6 228.2 L 702.7 225.4 L 703.9 222.7 L 705.1 220.0 L 706.3 217.5 L 707.6 215.0 L 709.0 212.5 L 710.3 210.2 L 711.8 207.9 L 713.2 205.7 L 714.7 203.5 L 716.3 201.4 L 717.8 199.4 L 719.5 197.4 L 721.2 195.5 L 722.9 193.6 L 724.6 191.8 L 726.5 190.0 L 728.3 188.3 L 730.2 186.7 L 732.2 185.1 L 734.2 183.6 L 736.2 182.1 L 738.3 180.7 L 740.5 179.3 L 735.5 171.7 L 733.2 173.3 L 731.0 175.0 L 728.8 176.7 L 726.7 178.4 L 724.6 180.2 L 722.6 182.1 L 720.6 184.0 L 718.7 186.0 L 716.8 188.0 L 715.0 190.1 L 713.2 192.3 L 711.5 194.5 L 709.9 196.8 L 708.3 199.1 L 706.8 201.5 L 705.3 204.0 L 703.9 206.5 L 702.5 209.1 L 701.2 211.7 L 699.9 214.4 L 698.7 217.2 L 697.5 220.0 L 696.4 222.9 L 695.4 225.9 L 694.3 228.9 L 693.4 232.0 L 692.5 235.2 L 691.6 238.4 L 690.8 241.7 L 690.0 245.1 L 689.3 248.5 L 688.7 252.0 L 688.1 255.6 L 687.5 259.3 L 687.0 263.0 L 686.5 266.8 L 686.2 270.7 L 685.8 274.7 L 685.6 278.7 L 685.7 282.9 Z" fill="#1a1a1a"/>
<polygon points="762,165.4 731.3,163.7 742.6,188" fill="#1a1a1a"/>
<!-- arrow protein->cell -->
<path d="M 345.6 405.3 L 348.3 408.3 L 351.3 411.2 L 354.5 414.0 L 358.0 416.6 L 361.8 419.1 L 365.8 421.5 L 370.1 423.8 L 374.5 425.9 L 379.3 427.8 L 384.2 429.7 L 389.4 431.3 L 394.8 432.8 L 400.3 434.2 L 406.1 435.3 L 412.0 436.4 L 418.1 437.2 L 424.4 437.9 L 430.9 438.3 L 437.5 438.6 L 444.3 438.8 L 451.2 438.7 L 458.2 438.4 L 465.3 437.9 L 472.6 437.3 L 480.0 436.4 L 487.5 435.3 L 495.1 434.0 L 502.8 432.5 L 510.5 430.7 L 518.3 428.7 L 526.3 426.5 L 534.2 424.1 L 542.2 421.4 L 550.3 418.5 L 558.4 415.3 L 566.5 411.9 L 574.7 408.2 L 582.8 404.3 L 591.0 400.1 L 599.2 395.6 L 596.8 391.4 L 588.8 395.9 L 580.8 400.1 L 572.7 404.1 L 564.7 407.8 L 556.7 411.3 L 548.8 414.5 L 540.8 417.5 L 533.0 420.2 L 525.1 422.7 L 517.3 425.0 L 509.6 427.1 L 502.0 428.9 L 494.4 430.5 L 486.9 431.9 L 479.5 433.0 L 472.2 434.0 L 465.1 434.8 L 458.0 435.3 L 451.1 435.7 L 444.2 435.9 L 437.6 435.8 L 431.0 435.6 L 424.7 435.3 L 418.4 434.7 L 412.4 434.0 L 406.5 433.0 L 400.8 432.0 L 395.3 430.7 L 390.0 429.3 L 384.8 427.8 L 379.9 426.1 L 375.2 424.3 L 370.8 422.3 L 366.5 420.1 L 362.5 417.9 L 358.8 415.5 L 355.3 413.0 L 352.1 410.3 L 349.1 407.6 L 346.4 404.7 Z" fill="#1a1a1a"/>
<polygon points="614.3,382.7 589.8,385.7 603.6,404" fill="#1a1a1a"/>
<!-- splat -->
<path d="M773.2 312.9 L777.6 323.8 L789 317.9 L785.5 328.8 L801.4 325.8 L790.5 336.7 L804.4 344.1 L784.6 344.6 L791.5 349.6 L781 347 L780.6 358.5 L773.7 346.6 L764.7 354.6 L762 347.6 L748.9 355.5 L754.8 342.7 L744.9 342.7 L758.8 334 L741.9 328.8 L760 327 L753.8 320.4 L767.7 325.8 Z" fill="#d4605f" fill-opacity="0.92" stroke="#8e3033" stroke-width="1.8" stroke-linejoin="miter"/>
<path d="M768.5 337.5 L776 340.5" stroke="#a84040" stroke-width="3.2"/>
<!-- dashed arrow -->
<path d="M796 352 L 839 393" stroke="#1a1a1a" stroke-width="4" stroke-dasharray="6.5 5.5"/>
<polygon points="849.3,409.8 833.5,400 848,390.4" fill="#1a1a1a"/>
<!-- dead cell -->
<g>
 <path d="M 825.0 440.2 C 826.6 436.6 834.3 433.3 839.6 432.9 C 844.9 432.5 853.0 433.7 856.6 437.8 C 860.3 441.9 862.7 453.6 861.5 457.3 C 860.3 460.9 854.6 460.1 849.3 459.7 C 844.0 459.3 833.9 458.1 829.9 454.8 C 825.8 451.6 823.4 443.9 825.0 440.2 Z" fill="#fcebe3"/><path d="M 929.5 383.1 C 931.6 378.8 946.0 376.8 951.4 378.2 C 956.9 379.7 962.4 387.8 962.4 391.6 C 962.4 395.5 955.3 399.3 951.4 401.3 C 947.6 403.4 942.9 406.8 939.3 403.8 C 935.6 400.7 927.5 387.4 929.5 383.1 Z" fill="#fcebe3"/><path d="M 927.1 464.5 C 929.5 461.3 936.4 459.3 939.3 462.1 C 942.1 465.0 945.4 477.1 944.1 481.6 C 942.9 486.0 935.2 488.9 932.0 488.9 C 928.7 488.9 925.5 485.6 924.7 481.6 C 923.9 477.5 924.7 467.8 927.1 464.5 Z" fill="#fcebe3"/>
 <circle cx="949" cy="479" r="3" fill="#fcebe3"/><circle cx="929.5" cy="485" r="4" fill="#fcebe3"/>
 <path d="M 859.0 396.5 C 863.1 394.0 877.1 396.3 880.9 394.0 C 884.8 391.8 880.9 385.5 882.1 383.1 C 883.4 380.7 885.6 379.5 888.2 379.5 C 890.8 379.5 894.7 382.1 897.9 383.1 C 901.2 384.1 903.6 384.5 907.7 385.5 C 911.7 386.5 918.6 387.8 922.3 389.2 C 925.9 390.6 927.9 391.8 929.5 394.0 C 931.2 396.3 930.4 400.1 932.0 402.5 C 933.6 405.0 938.3 404.8 939.3 408.6 C 940.3 412.5 938.1 420.4 938.1 425.6 C 938.1 430.9 939.9 435.8 939.3 440.2 C 938.7 444.7 935.6 448.7 934.4 452.4 C 933.2 456.0 934.8 460.1 932.0 462.1 C 929.1 464.1 921.4 463.5 917.4 464.5 C 913.3 465.6 911.7 467.6 907.7 468.2 C 903.6 468.8 896.3 467.2 893.1 468.2 C 889.8 469.2 890.2 473.3 888.2 474.3 C 886.2 475.3 882.5 475.9 880.9 474.3 C 879.3 472.7 880.9 467.4 878.5 464.5 C 876.1 461.7 870.0 459.7 866.3 457.3 C 862.7 454.8 859.4 452.8 856.6 450.0 C 853.8 447.1 850.1 443.1 849.3 440.2 C 848.5 437.4 850.1 435.8 851.7 432.9 C 853.4 430.1 858.2 427.3 859.0 423.2 C 859.8 419.2 856.6 413.1 856.6 408.6 C 856.6 404.2 855.0 398.9 859.0 396.5 Z" fill="#f6d5c3" stroke="#c9a08c" stroke-width="1" stroke-dasharray="2.5 2"/>
 <path d="M 889.4 422.0 C 890.6 419.4 894.9 416.3 897.9 414.7 C 901.0 413.1 904.4 412.1 907.7 412.3 C 910.9 412.5 915.2 413.7 917.4 415.9 C 919.6 418.1 921.4 423.2 921.0 425.6 C 920.6 428.1 917.6 430.3 915.0 430.5 C 912.3 430.7 908.1 426.5 905.2 426.9 C 902.4 427.3 900.4 432.3 897.9 432.9 C 895.5 433.5 892.1 432.3 890.6 430.5 C 889.2 428.7 888.2 424.6 889.4 422.0 Z" fill="#dfb4a2"/><path d="M 891.9 440.2 C 892.3 438.0 897.9 433.7 900.4 432.9 C 902.8 432.1 904.6 434.6 906.4 435.4 C 908.3 436.2 909.9 436.4 911.3 437.8 C 912.7 439.2 915.6 442.3 915.0 443.9 C 914.4 445.5 910.5 447.1 907.7 447.5 C 904.8 447.9 900.6 447.5 897.9 446.3 C 895.3 445.1 891.5 442.5 891.9 440.2 Z" fill="#dfb4a2"/>
 <circle cx="898" cy="413.5" r="3.6" fill="#dfb4a2"/>
 <g fill="none" stroke="#e6c0ae" stroke-width="0.8">
  <path d="M875 412 C 870 420, 870 432, 876 440"/><path d="M870 415 C 866 424, 866 432, 870 440"/>
  <path d="M925 412 C 930 420, 930 432, 924 440"/><path d="M900 448 C 895 452, 890 455, 885 455"/>
  <path d="M900 397 C 905 393, 915 393, 918 397"/><path d="M905 455 C 910 458, 915 458, 920 455"/>
 </g>
 <g fill="#f4cdb8" stroke="#c9a08c" stroke-width="1">
  <ellipse cx="867.5" cy="384.5" rx="8.5" ry="7.5"/><ellipse cx="922" cy="374.5" rx="7" ry="6.5"/>
  <ellipse cx="905" cy="377" rx="5" ry="2.5" transform="rotate(-20 905 377)"/><ellipse cx="925" cy="384.5" rx="4" ry="2.5" transform="rotate(20 925 384.5)"/>
  <ellipse cx="848" cy="415" rx="6" ry="9" transform="rotate(-20 848 415)"/><ellipse cx="937" cy="417" rx="8" ry="7"/>
  <circle cx="848" cy="434" r="3"/><circle cx="944" cy="446" r="5"/>
  <ellipse cx="862.7" cy="462" rx="6" ry="5.5"/><circle cx="870" cy="477" r="3.5"/><circle cx="903" cy="473" r="5"/>
 </g>
</g>
<!-- IV bag -->
<path d="M1029.5 113.5 L1140 117 C 1085 135, 1040 190, 1019 255 Z" fill="url(#wedge)"/>
<g>
 <path d="M953.5 24 C 953.5 18, 957 15.5, 962 15 C 972 13, 978 9, 980 6 C 983 4.5, 991 4.5, 994 6 C 996 9, 1002 13, 1013 15 C 1019 15.5, 1023 18, 1023 24 L 1023 125 C 1023 135, 1016 141, 1008 147 L 967 147 C 960 141, 953.5 135, 953.5 125 Z" fill="#d9ebf3" stroke="#aad0e4" stroke-width="1.5"/>
 <path d="M957.5 27 C 957.5 22, 960 19.5, 964 19 C 974 17, 980 13, 982 10 C 984 9, 990 9, 992 10 C 994 13, 1000 17, 1011 19 C 1016 19.5, 1019 22, 1019 27 L 1019 123 C 1019 131, 1013 137, 1006 142 L 969 142 C 962 137, 957.5 131, 957.5 123 Z" fill="none" stroke="#c3def0" stroke-width="1"/>
 <path d="M959.5 49 C 975 46.5, 1000 46.5, 1016.5 49 L 1016.5 122 C 1016.5 131, 1009 136, 1003 139 L 973 139 C 966 136, 959.5 131, 959.5 122 Z" fill="#abcdd5"/>
 <path d="M959.5 49 C 975 51.5, 1000 51.5, 1016.5 49" fill="none" stroke="#9fc4cd" stroke-width="1"/>
 <path d="M1004 52 L 1016.5 52 L 1016.5 122 C 1016.5 131, 1009 136, 1003 139 L 985 139 C 1000 132, 1006 125, 1006 110 Z" fill="#9cc1ca"/>
 <path d="M961 105 C 963 125, 975 135, 1000 137 L 973 139 C 966 136, 960 130, 961 105 Z" fill="#9cc1ca"/>
 <circle cx="987" cy="18" r="5" fill="#fff" stroke="#aad0e4" stroke-width="1.2"/>
 <rect x="969.3" y="38" width="3" height="66" rx="1.5" fill="#eef6f9" opacity="0.9"/>
 <rect x="979.5" y="144" width="5" height="19" fill="#c4dfea" stroke="#9cc3d8" stroke-width="0.8"/>
 <rect x="979" y="162" width="6" height="7" rx="1" fill="#cfcfcf" stroke="#b5b5b5" stroke-width="0.6"/>
 <rect x="992.5" y="144" width="5" height="25" fill="#c4dfea" stroke="#9cc3d8" stroke-width="0.8"/>
 <rect x="992" y="168" width="6" height="16" fill="#2f86ba"/>
 <path d="M995.5 184 C 996.5 205, 997 228, 995 236 C 993 246, 989 250, 983 250" fill="none" stroke="#76b6cc" stroke-width="1.8"/>
 <path d="M983 250 L 968 240" stroke="#4fa3c8" stroke-width="3"/>
 <path d="M970 241.5 L 964 237.5" stroke="#c9dde6" stroke-width="4.5"/>
 <path d="M965 238.5 C 960 235, 955 238, 951 246 C 948 252, 940 254, 935.5 245" fill="none" stroke="#e3e3e3" stroke-width="2.4"/>
 <path d="M922 241 L 926 245.5 L 944 237 L 941.5 232.5 Z" fill="#7cc0df" stroke="#5aa9cf" stroke-width="0.8" transform="rotate(8 933 239)"/>
 <path d="M930 234 L 936 246.5" stroke="#5aa9cf" stroke-width="1.6"/>
</g>
<!-- circle -->
<circle cx="1171" cy="268" r="152.5" fill="#fdfaf1" stroke="#3479c9" stroke-width="3.2"/>
<polygon points="1063.0,186.8 1076.0,194.8 1076.0,209.6 1063.0,217.5 1050.0,209.6 1050.0,194.8" fill="#a4dadc" stroke="#62bcc2" stroke-width="0.9" stroke-linejoin="round"/><path d="M1063.0 186.8 L1056.4 197.8 M1063.0 186.8 L1070.0 197.8 M1056.4 197.8 L1070.0 197.8 M1056.4 197.8 L1063.2 210.3 M1070.0 197.8 L1063.2 210.3 M1063.2 210.3 L1063.0 217.5 M1050.0 194.8 L1056.4 197.8 M1076.0 194.8 L1070.0 197.8 M1050.0 209.6 L1063.2 210.3 M1076.0 209.6 L1063.2 210.3 M1050.0 209.6 L1056.4 197.8 M1076.0 209.6 L1070.0 197.8" fill="none" stroke="#74c4c9" stroke-width="0.54"/><rect x="1056.2" y="201.2" width="13.5" height="2.0" rx="1.0" fill="#4a2a6e"/><rect x="1059.4" y="201.2" width="7.3" height="2.0" fill="#9062cc"/><path d="M1053.1 199.7 v4.9 M1072.9 199.7 v4.9" stroke="#a596cf" stroke-width="1.30"/><polygon points="1091.1,187.2 1104.1,195.1 1104.1,209.9 1091.1,217.8 1078.1,209.9 1078.1,195.1" fill="#a4dadc" stroke="#62bcc2" stroke-width="0.9" stroke-linejoin="round"/><path d="M1091.1 187.2 L1084.5 198.1 M1091.1 187.2 L1098.1 198.1 M1084.5 198.1 L1098.1 198.1 M1084.5 198.1 L1091.2 210.6 M1098.1 198.1 L1091.2 210.6 M1091.2 210.6 L1091.1 217.8 M1078.1 195.1 L1084.5 198.1 M1104.1 195.1 L1098.1 198.1 M1078.1 209.9 L1091.2 210.6 M1104.1 209.9 L1091.2 210.6 M1078.1 209.9 L1084.5 198.1 M1104.1 209.9 L1098.1 198.1" fill="none" stroke="#74c4c9" stroke-width="0.54"/><rect x="1084.3" y="201.5" width="13.5" height="2.0" rx="1.0" fill="#4a2a6e"/><rect x="1087.4" y="201.5" width="7.3" height="2.0" fill="#9062cc"/><path d="M1081.2 200.0 v4.9 M1100.9 200.0 v4.9" stroke="#a596cf" stroke-width="1.30"/><polygon points="1119.1,187.4 1132.1,195.4 1132.1,210.2 1119.1,218.1 1106.1,210.2 1106.1,195.4" fill="#a4dadc" stroke="#62bcc2" stroke-width="0.9" stroke-linejoin="round"/><path d="M1119.1 187.4 L1112.5 198.4 M1119.1 187.4 L1126.1 198.4 M1112.5 198.4 L1126.1 198.4 M1112.5 198.4 L1119.3 210.9 M1126.1 198.4 L1119.3 210.9 M1119.3 210.9 L1119.1 218.1 M1106.1 195.4 L1112.5 198.4 M1132.1 195.4 L1126.1 198.4 M1106.1 210.2 L1119.3 210.9 M1132.1 210.2 L1119.3 210.9 M1106.1 210.2 L1112.5 198.4 M1132.1 210.2 L1126.1 198.4" fill="none" stroke="#74c4c9" stroke-width="0.54"/><rect x="1112.4" y="201.8" width="13.5" height="2.0" rx="1.0" fill="#4a2a6e"/><rect x="1115.5" y="201.8" width="7.3" height="2.0" fill="#9062cc"/><path d="M1109.2 200.3 v4.9 M1129.0 200.3 v4.9" stroke="#a596cf" stroke-width="1.30"/><polygon points="1147.2,187.8 1160.2,195.7 1160.2,210.5 1147.2,218.4 1134.2,210.5 1134.2,195.7" fill="#a4dadc" stroke="#62bcc2" stroke-width="0.9" stroke-linejoin="round"/><path d="M1147.2 187.8 L1140.6 198.7 M1147.2 187.8 L1154.2 198.7 M1140.6 198.7 L1154.2 198.7 M1140.6 198.7 L1147.4 211.2 M1154.2 198.7 L1147.4 211.2 M1147.4 211.2 L1147.2 218.4 M1134.2 195.7 L1140.6 198.7 M1160.2 195.7 L1154.2 198.7 M1134.2 210.5 L1147.4 211.2 M1160.2 210.5 L1147.4 211.2 M1134.2 210.5 L1140.6 198.7 M1160.2 210.5 L1154.2 198.7" fill="none" stroke="#74c4c9" stroke-width="0.54"/><rect x="1140.4" y="202.1" width="13.5" height="2.0" rx="1.0" fill="#4a2a6e"/><rect x="1143.5" y="202.1" width="7.3" height="2.0" fill="#9062cc"/><path d="M1137.3 200.6 v4.9 M1157.1 200.6 v4.9" stroke="#a596cf" stroke-width="1.30"/><polygon points="1175.2,188.0 1188.2,196.0 1188.2,210.8 1175.2,218.7 1162.2,210.8 1162.2,196.0" fill="#a4dadc" stroke="#62bcc2" stroke-width="0.9" stroke-linejoin="round"/><path d="M1175.2 188.0 L1168.6 199.0 M1175.2 188.0 L1182.3 199.0 M1168.6 199.0 L1182.3 199.0 M1168.6 199.0 L1175.4 211.5 M1182.3 199.0 L1175.4 211.5 M1175.4 211.5 L1175.2 218.7 M1162.2 196.0 L1168.6 199.0 M1188.2 196.0 L1182.3 199.0 M1162.2 210.8 L1175.4 211.5 M1188.2 210.8 L1175.4 211.5 M1162.2 210.8 L1168.6 199.0 M1188.2 210.8 L1182.3 199.0" fill="none" stroke="#74c4c9" stroke-width="0.54"/><rect x="1168.5" y="202.4" width="13.5" height="2.0" rx="1.0" fill="#4a2a6e"/><rect x="1171.6" y="202.4" width="7.3" height="2.0" fill="#9062cc"/><path d="M1165.4 200.9 v4.9 M1185.1 200.9 v4.9" stroke="#a596cf" stroke-width="1.30"/><polygon points="1203.3,188.3 1216.3,196.3 1216.3,211.1 1203.3,219.0 1190.3,211.1 1190.3,196.3" fill="#a4dadc" stroke="#62bcc2" stroke-width="0.9" stroke-linejoin="round"/><path d="M1203.3 188.3 L1196.7 199.3 M1203.3 188.3 L1210.3 199.3 M1196.7 199.3 L1210.3 199.3 M1196.7 199.3 L1203.5 211.8 M1210.3 199.3 L1203.5 211.8 M1203.5 211.8 L1203.3 219.0 M1190.3 196.3 L1196.7 199.3 M1216.3 196.3 L1210.3 199.3 M1190.3 211.1 L1203.5 211.8 M1216.3 211.1 L1203.5 211.8 M1190.3 211.1 L1196.7 199.3 M1216.3 211.1 L1210.3 199.3" fill="none" stroke="#74c4c9" stroke-width="0.54"/><rect x="1196.5" y="202.7" width="13.5" height="2.0" rx="1.0" fill="#4a2a6e"/><rect x="1199.7" y="202.7" width="7.3" height="2.0" fill="#9062cc"/><path d="M1193.4 201.2 v4.9 M1213.2 201.2 v4.9" stroke="#a596cf" stroke-width="1.30"/><polygon points="1063.4,219.0 1076.4,227.0 1076.4,241.7 1063.4,249.7 1050.4,241.7 1050.4,227.0" fill="#a4dadc" stroke="#62bcc2" stroke-width="0.9" stroke-linejoin="round"/><path d="M1063.4 219.0 L1056.8 230.0 M1063.4 219.0 L1070.4 230.0 M1056.8 230.0 L1070.4 230.0 M1056.8 230.0 L1063.6 242.5 M1070.4 230.0 L1063.6 242.5 M1063.6 242.5 L1063.4 249.7 M1050.4 227.0 L1056.8 230.0 M1076.4 227.0 L1070.4 230.0 M1050.4 241.7 L1063.6 242.5 M1076.4 241.7 L1063.6 242.5 M1050.4 241.7 L1056.8 230.0 M1076.4 241.7 L1070.4 230.0" fill="none" stroke="#74c4c9" stroke-width="0.54"/><rect x="1056.6" y="233.4" width="13.5" height="2.0" rx="1.0" fill="#4a2a6e"/><rect x="1059.8" y="233.4" width="7.3" height="2.0" fill="#9062cc"/><path d="M1053.5 231.9 v4.9 M1073.3 231.9 v4.9" stroke="#a596cf" stroke-width="1.30"/><polygon points="1091.5,219.3 1104.5,227.3 1104.5,242.0 1091.5,250.0 1078.5,242.0 1078.5,227.3" fill="#a4dadc" stroke="#62bcc2" stroke-width="0.9" stroke-linejoin="round"/><path d="M1091.5 219.3 L1084.9 230.3 M1091.5 219.3 L1098.5 230.3 M1084.9 230.3 L1098.5 230.3 M1084.9 230.3 L1091.6 242.8 M1098.5 230.3 L1091.6 242.8 M1091.6 242.8 L1091.5 250.0 M1078.5 227.3 L1084.9 230.3 M1104.5 227.3 L1098.5 230.3 M1078.5 242.0 L1091.6 242.8 M1104.5 242.0 L1091.6 242.8 M1078.5 242.0 L1084.9 230.3 M1104.5 242.0 L1098.5 230.3" fill="none" stroke="#74c4c9" stroke-width="0.54"/><rect x="1084.7" y="233.7" width="13.5" height="2.0" rx="1.0" fill="#4a2a6e"/><rect x="1087.8" y="233.7" width="7.3" height="2.0" fill="#9062cc"/><path d="M1081.6 232.2 v4.9 M1101.3 232.2 v4.9" stroke="#a596cf" stroke-width="1.30"/><polygon points="1119.5,219.6 1132.5,227.6 1132.5,242.3 1119.5,250.3 1106.5,242.3 1106.5,227.6" fill="#a4dadc" stroke="#62bcc2" stroke-width="0.9" stroke-linejoin="round"/><path d="M1119.5 219.6 L1112.9 230.6 M1119.5 219.6 L1126.5 230.6 M1112.9 230.6 L1126.5 230.6 M1112.9 230.6 L1119.7 243.1 M1126.5 230.6 L1119.7 243.1 M1119.7 243.1 L1119.5 250.3 M1106.5 227.6 L1112.9 230.6 M1132.5 227.6 L1126.5 230.6 M1106.5 242.3 L1119.7 243.1 M1132.5 242.3 L1119.7 243.1 M1106.5 242.3 L1112.9 230.6 M1132.5 242.3 L1126.5 230.6" fill="none" stroke="#74c4c9" stroke-width="0.54"/><rect x="1112.8" y="234.0" width="13.5" height="2.0" rx="1.0" fill="#4a2a6e"/><rect x="1115.9" y="234.0" width="7.3" height="2.0" fill="#9062cc"/><path d="M1109.6 232.5 v4.9 M1129.4 232.5 v4.9" stroke="#a596cf" stroke-width="1.30"/><polygon points="1147.6,219.9 1160.6,227.9 1160.6,242.6 1147.6,250.6 1134.6,242.6 1134.6,227.9" fill="#a4dadc" stroke="#62bcc2" stroke-width="0.9" stroke-linejoin="round"/><path d="M1147.6 219.9 L1141.0 230.9 M1147.6 219.9 L1154.6 230.9 M1141.0 230.9 L1154.6 230.9 M1141.0 230.9 L1147.8 243.4 M1154.6 230.9 L1147.8 243.4 M1147.8 243.4 L1147.6 250.6 M1134.6 227.9 L1141.0 230.9 M1160.6 227.9 L1154.6 230.9 M1134.6 242.6 L1147.8 243.4 M1160.6 242.6 L1147.8 243.4 M1134.6 242.6 L1141.0 230.9 M1160.6 242.6 L1154.6 230.9" fill="none" stroke="#74c4c9" stroke-width="0.54"/><rect x="1140.8" y="234.3" width="13.5" height="2.0" rx="1.0" fill="#4a2a6e"/><rect x="1143.9" y="234.3" width="7.3" height="2.0" fill="#9062cc"/><path d="M1137.7 232.8 v4.9 M1157.5 232.8 v4.9" stroke="#a596cf" stroke-width="1.30"/><polygon points="1175.6,220.2 1188.6,228.2 1188.6,242.9 1175.6,250.9 1162.6,242.9 1162.6,228.2" fill="#a4dadc" stroke="#62bcc2" stroke-width="0.9" stroke-linejoin="round"/><path d="M1175.6 220.2 L1169.0 231.2 M1175.6 220.2 L1182.7 231.2 M1169.0 231.2 L1182.7 231.2 M1169.0 231.2 L1175.8 243.7 M1182.7 231.2 L1175.8 243.7 M1175.8 243.7 L1175.6 250.9 M1162.6 228.2 L1169.0 231.2 M1188.6 228.2 L1182.7 231.2 M1162.6 242.9 L1175.8 243.7 M1188.6 242.9 L1175.8 243.7 M1162.6 242.9 L1169.0 231.2 M1188.6 242.9 L1182.7 231.2" fill="none" stroke="#74c4c9" stroke-width="0.54"/><rect x="1168.9" y="234.6" width="13.5" height="2.0" rx="1.0" fill="#4a2a6e"/><rect x="1172.0" y="234.6" width="7.3" height="2.0" fill="#9062cc"/><path d="M1165.8 233.1 v4.9 M1185.5 233.1 v4.9" stroke="#a596cf" stroke-width="1.30"/><polygon points="1203.7,220.5 1216.7,228.5 1216.7,243.2 1203.7,251.2 1190.7,243.2 1190.7,228.5" fill="#a4dadc" stroke="#62bcc2" stroke-width="0.9" stroke-linejoin="round"/><path d="M1203.7 220.5 L1197.1 231.5 M1203.7 220.5 L1210.7 231.5 M1197.1 231.5 L1210.7 231.5 M1197.1 231.5 L1203.9 244.0 M1210.7 231.5 L1203.9 244.0 M1203.9 244.0 L1203.7 251.2 M1190.7 228.5 L1197.1 231.5 M1216.7 228.5 L1210.7 231.5 M1190.7 243.2 L1203.9 244.0 M1216.7 243.2 L1203.9 244.0 M1190.7 243.2 L1197.1 231.5 M1216.7 243.2 L1210.7 231.5" fill="none" stroke="#74c4c9" stroke-width="0.54"/><rect x="1196.9" y="234.9" width="13.5" height="2.0" rx="1.0" fill="#4a2a6e"/><rect x="1200.1" y="234.9" width="7.3" height="2.0" fill="#9062cc"/><path d="M1193.8 233.4 v4.9 M1213.6 233.4 v4.9" stroke="#a596cf" stroke-width="1.30"/><polygon points="1063.8,251.2 1076.8,259.1 1076.8,273.9 1063.8,281.9 1050.8,273.9 1050.8,259.1" fill="#a4dadc" stroke="#62bcc2" stroke-width="0.9" stroke-linejoin="round"/><path d="M1063.8 251.2 L1057.2 262.1 M1063.8 251.2 L1070.8 262.1 M1057.2 262.1 L1070.8 262.1 M1057.2 262.1 L1064.0 274.6 M1070.8 262.1 L1064.0 274.6 M1064.0 274.6 L1063.8 281.9 M1050.8 259.1 L1057.2 262.1 M1076.8 259.1 L1070.8 262.1 M1050.8 273.9 L1064.0 274.6 M1076.8 273.9 L1064.0 274.6 M1050.8 273.9 L1057.2 262.1 M1076.8 273.9 L1070.8 262.1" fill="none" stroke="#74c4c9" stroke-width="0.54"/><rect x="1057.0" y="265.5" width="13.5" height="2.0" rx="1.0" fill="#4a2a6e"/><rect x="1060.2" y="265.5" width="7.3" height="2.0" fill="#9062cc"/><path d="M1053.9 264.0 v4.9 M1073.7 264.0 v4.9" stroke="#a596cf" stroke-width="1.30"/><polygon points="1091.9,251.5 1104.9,259.4 1104.9,274.2 1091.9,282.2 1078.9,274.2 1078.9,259.4" fill="#a4dadc" stroke="#62bcc2" stroke-width="0.9" stroke-linejoin="round"/><path d="M1091.9 251.5 L1085.3 262.4 M1091.9 251.5 L1098.9 262.4 M1085.3 262.4 L1098.9 262.4 M1085.3 262.4 L1092.0 274.9 M1098.9 262.4 L1092.0 274.9 M1092.0 274.9 L1091.9 282.2 M1078.9 259.4 L1085.3 262.4 M1104.9 259.4 L1098.9 262.4 M1078.9 274.2 L1092.0 274.9 M1104.9 274.2 L1092.0 274.9 M1078.9 274.2 L1085.3 262.4 M1104.9 274.2 L1098.9 262.4" fill="none" stroke="#74c4c9" stroke-width="0.54"/><rect x="1085.1" y="265.8" width="13.5" height="2.0" rx="1.0" fill="#4a2a6e"/><rect x="1088.2" y="265.8" width="7.3" height="2.0" fill="#9062cc"/><path d="M1082.0 264.3 v4.9 M1101.7 264.3 v4.9" stroke="#a596cf" stroke-width="1.30"/><polygon points="1119.9,251.8 1132.9,259.7 1132.9,274.5 1119.9,282.5 1106.9,274.5 1106.9,259.7" fill="#a4dadc" stroke="#62bcc2" stroke-width="0.9" stroke-linejoin="round"/><path d="M1119.9 251.8 L1113.3 262.7 M1119.9 251.8 L1126.9 262.7 M1113.3 262.7 L1126.9 262.7 M1113.3 262.7 L1120.1 275.2 M1126.9 262.7 L1120.1 275.2 M1120.1 275.2 L1119.9 282.5 M1106.9 259.7 L1113.3 262.7 M1132.9 259.7 L1126.9 262.7 M1106.9 274.5 L1120.1 275.2 M1132.9 274.5 L1120.1 275.2 M1106.9 274.5 L1113.3 262.7 M1132.9 274.5 L1126.9 262.7" fill="none" stroke="#74c4c9" stroke-width="0.54"/><rect x="1113.2" y="266.1" width="13.5" height="2.0" rx="1.0" fill="#4a2a6e"/><rect x="1116.3" y="266.1" width="7.3" height="2.0" fill="#9062cc"/><path d="M1110.0 264.6 v4.9 M1129.8 264.6 v4.9" stroke="#a596cf" stroke-width="1.30"/><polygon points="1148.0,252.0 1161.0,260.0 1161.0,274.8 1148.0,282.8 1135.0,274.8 1135.0,260.0" fill="#a4dadc" stroke="#62bcc2" stroke-width="0.9" stroke-linejoin="round"/><path d="M1148.0 252.0 L1141.4 263.0 M1148.0 252.0 L1155.0 263.0 M1141.4 263.0 L1155.0 263.0 M1141.4 263.0 L1148.2 275.5 M1155.0 263.0 L1148.2 275.5 M1148.2 275.5 L1148.0 282.8 M1135.0 260.0 L1141.4 263.0 M1161.0 260.0 L1155.0 263.0 M1135.0 274.8 L1148.2 275.5 M1161.0 274.8 L1148.2 275.5 M1135.0 274.8 L1141.4 263.0 M1161.0 274.8 L1155.0 263.0" fill="none" stroke="#74c4c9" stroke-width="0.54"/><rect x="1141.2" y="266.4" width="13.5" height="2.0" rx="1.0" fill="#4a2a6e"/><rect x="1144.3" y="266.4" width="7.3" height="2.0" fill="#9062cc"/><path d="M1138.1 264.9 v4.9 M1157.9 264.9 v4.9" stroke="#a596cf" stroke-width="1.30"/><polygon points="1176.0,252.3 1189.0,260.3 1189.0,275.1 1176.0,283.1 1163.0,275.1 1163.0,260.3" fill="#a4dadc" stroke="#62bcc2" stroke-width="0.9" stroke-linejoin="round"/><path d="M1176.0 252.3 L1169.4 263.3 M1176.0 252.3 L1183.1 263.3 M1169.4 263.3 L1183.1 263.3 M1169.4 263.3 L1176.2 275.8 M1183.1 263.3 L1176.2 275.8 M1176.2 275.8 L1176.0 283.1 M1163.0 260.3 L1169.4 263.3 M1189.0 260.3 L1183.1 263.3 M1163.0 275.1 L1176.2 275.8 M1189.0 275.1 L1176.2 275.8 M1163.0 275.1 L1169.4 263.3 M1189.0 275.1 L1183.1 263.3" fill="none" stroke="#74c4c9" stroke-width="0.54"/><rect x="1169.3" y="266.7" width="13.5" height="2.0" rx="1.0" fill="#4a2a6e"/><rect x="1172.4" y="266.7" width="7.3" height="2.0" fill="#9062cc"/><path d="M1166.2 265.2 v4.9 M1185.9 265.2 v4.9" stroke="#a596cf" stroke-width="1.30"/><polygon points="1204.1,252.7 1217.1,260.6 1217.1,275.4 1204.1,283.4 1191.1,275.4 1191.1,260.6" fill="#a4dadc" stroke="#62bcc2" stroke-width="0.9" stroke-linejoin="round"/><path d="M1204.1 252.7 L1197.5 263.6 M1204.1 252.7 L1211.1 263.6 M1197.5 263.6 L1211.1 263.6 M1197.5 263.6 L1204.3 276.1 M1211.1 263.6 L1204.3 276.1 M1204.3 276.1 L1204.1 283.4 M1191.1 260.6 L1197.5 263.6 M1217.1 260.6 L1211.1 263.6 M1191.1 275.4 L1204.3 276.1 M1217.1 275.4 L1204.3 276.1 M1191.1 275.4 L1197.5 263.6 M1217.1 275.4 L1211.1 263.6" fill="none" stroke="#74c4c9" stroke-width="0.54"/><rect x="1197.3" y="267.0" width="13.5" height="2.0" rx="1.0" fill="#4a2a6e"/><rect x="1200.5" y="267.0" width="7.3" height="2.0" fill="#9062cc"/><path d="M1194.2 265.5 v4.9 M1214.0 265.5 v4.9" stroke="#a596cf" stroke-width="1.30"/><polygon points="1064.2,283.3 1077.2,291.3 1077.2,306.0 1064.2,314.0 1051.2,306.0 1051.2,291.3" fill="#a4dadc" stroke="#62bcc2" stroke-width="0.9" stroke-linejoin="round"/><path d="M1064.2 283.3 L1057.6 294.3 M1064.2 283.3 L1071.2 294.3 M1057.6 294.3 L1071.2 294.3 M1057.6 294.3 L1064.4 306.8 M1071.2 294.3 L1064.4 306.8 M1064.4 306.8 L1064.2 314.0 M1051.2 291.3 L1057.6 294.3 M1077.2 291.3 L1071.2 294.3 M1051.2 306.0 L1064.4 306.8 M1077.2 306.0 L1064.4 306.8 M1051.2 306.0 L1057.6 294.3 M1077.2 306.0 L1071.2 294.3" fill="none" stroke="#74c4c9" stroke-width="0.54"/><rect x="1057.4" y="297.7" width="13.5" height="2.0" rx="1.0" fill="#4a2a6e"/><rect x="1060.6" y="297.7" width="7.3" height="2.0" fill="#9062cc"/><path d="M1054.3 296.2 v4.9 M1074.1 296.2 v4.9" stroke="#a596cf" stroke-width="1.30"/><polygon points="1092.3,283.6 1105.3,291.6 1105.3,306.3 1092.3,314.3 1079.3,306.3 1079.3,291.6" fill="#a4dadc" stroke="#62bcc2" stroke-width="0.9" stroke-linejoin="round"/><path d="M1092.3 283.6 L1085.7 294.6 M1092.3 283.6 L1099.3 294.6 M1085.7 294.6 L1099.3 294.6 M1085.7 294.6 L1092.4 307.1 M1099.3 294.6 L1092.4 307.1 M1092.4 307.1 L1092.3 314.3 M1079.3 291.6 L1085.7 294.6 M1105.3 291.6 L1099.3 294.6 M1079.3 306.3 L1092.4 307.1 M1105.3 306.3 L1092.4 307.1 M1079.3 306.3 L1085.7 294.6 M1105.3 306.3 L1099.3 294.6" fill="none" stroke="#74c4c9" stroke-width="0.54"/><rect x="1085.5" y="298.0" width="13.5" height="2.0" rx="1.0" fill="#4a2a6e"/><rect x="1088.6" y="298.0" width="7.3" height="2.0" fill="#9062cc"/><path d="M1082.4 296.5 v4.9 M1102.1 296.5 v4.9" stroke="#a596cf" stroke-width="1.30"/><polygon points="1120.3,283.9 1133.3,291.9 1133.3,306.6 1120.3,314.6 1107.3,306.6 1107.3,291.9" fill="#a4dadc" stroke="#62bcc2" stroke-width="0.9" stroke-linejoin="round"/><path d="M1120.3 283.9 L1113.7 294.9 M1120.3 283.9 L1127.3 294.9 M1113.7 294.9 L1127.3 294.9 M1113.7 294.9 L1120.5 307.4 M1127.3 294.9 L1120.5 307.4 M1120.5 307.4 L1120.3 314.6 M1107.3 291.9 L1113.7 294.9 M1133.3 291.9 L1127.3 294.9 M1107.3 306.6 L1120.5 307.4 M1133.3 306.6 L1120.5 307.4 M1107.3 306.6 L1113.7 294.9 M1133.3 306.6 L1127.3 294.9" fill="none" stroke="#74c4c9" stroke-width="0.54"/><rect x="1113.6" y="298.3" width="13.5" height="2.0" rx="1.0" fill="#4a2a6e"/><rect x="1116.7" y="298.3" width="7.3" height="2.0" fill="#9062cc"/><path d="M1110.4 296.8 v4.9 M1130.2 296.8 v4.9" stroke="#a596cf" stroke-width="1.30"/><polygon points="1148.4,284.2 1161.4,292.2 1161.4,306.9 1148.4,314.9 1135.4,306.9 1135.4,292.2" fill="#a4dadc" stroke="#62bcc2" stroke-width="0.9" stroke-linejoin="round"/><path d="M1148.4 284.2 L1141.8 295.2 M1148.4 284.2 L1155.4 295.2 M1141.8 295.2 L1155.4 295.2 M1141.8 295.2 L1148.6 307.7 M1155.4 295.2 L1148.6 307.7 M1148.6 307.7 L1148.4 314.9 M1135.4 292.2 L1141.8 295.2 M1161.4 292.2 L1155.4 295.2 M1135.4 306.9 L1148.6 307.7 M1161.4 306.9 L1148.6 307.7 M1135.4 306.9 L1141.8 295.2 M1161.4 306.9 L1155.4 295.2" fill="none" stroke="#74c4c9" stroke-width="0.54"/><rect x="1141.6" y="298.6" width="13.5" height="2.0" rx="1.0" fill="#4a2a6e"/><rect x="1144.7" y="298.6" width="7.3" height="2.0" fill="#9062cc"/><path d="M1138.5 297.1 v4.9 M1158.3 297.1 v4.9" stroke="#a596cf" stroke-width="1.30"/><polygon points="1176.4,284.5 1189.4,292.5 1189.4,307.2 1176.4,315.2 1163.4,307.2 1163.4,292.5" fill="#a4dadc" stroke="#62bcc2" stroke-width="0.9" stroke-linejoin="round"/><path d="M1176.4 284.5 L1169.8 295.5 M1176.4 284.5 L1183.5 295.5 M1169.8 295.5 L1183.5 295.5 M1169.8 295.5 L1176.6 308.0 M1183.5 295.5 L1176.6 308.0 M1176.6 308.0 L1176.4 315.2 M1163.4 292.5 L1169.8 295.5 M1189.4 292.5 L1183.5 295.5 M1163.4 307.2 L1176.6 308.0 M1189.4 307.2 L1176.6 308.0 M1163.4 307.2 L1169.8 295.5 M1189.4 307.2 L1183.5 295.5" fill="none" stroke="#74c4c9" stroke-width="0.54"/><rect x="1169.7" y="298.9" width="13.5" height="2.0" rx="1.0" fill="#4a2a6e"/><rect x="1172.8" y="298.9" width="7.3" height="2.0" fill="#9062cc"/><path d="M1166.6 297.4 v4.9 M1186.3 297.4 v4.9" stroke="#a596cf" stroke-width="1.30"/><polygon points="1204.5,284.8 1217.5,292.8 1217.5,307.5 1204.5,315.5 1191.5,307.5 1191.5,292.8" fill="#a4dadc" stroke="#62bcc2" stroke-width="0.9" stroke-linejoin="round"/><path d="M1204.5 284.8 L1197.9 295.8 M1204.5 284.8 L1211.5 295.8 M1197.9 295.8 L1211.5 295.8 M1197.9 295.8 L1204.7 308.3 M1211.5 295.8 L1204.7 308.3 M1204.7 308.3 L1204.5 315.5 M1191.5 292.8 L1197.9 295.8 M1217.5 292.8 L1211.5 295.8 M1191.5 307.5 L1204.7 308.3 M1217.5 307.5 L1204.7 308.3 M1191.5 307.5 L1197.9 295.8 M1217.5 307.5 L1211.5 295.8" fill="none" stroke="#74c4c9" stroke-width="0.54"/><rect x="1197.7" y="299.2" width="13.5" height="2.0" rx="1.0" fill="#4a2a6e"/><rect x="1200.9" y="299.2" width="7.3" height="2.0" fill="#9062cc"/><path d="M1194.6 297.7 v4.9 M1214.4 297.7 v4.9" stroke="#a596cf" stroke-width="1.30"/><polygon points="1064.6,315.4 1077.6,323.4 1077.6,338.2 1064.6,346.1 1051.6,338.2 1051.6,323.4" fill="#a4dadc" stroke="#62bcc2" stroke-width="0.9" stroke-linejoin="round"/><path d="M1064.6 315.4 L1058.0 326.4 M1064.6 315.4 L1071.6 326.4 M1058.0 326.4 L1071.6 326.4 M1058.0 326.4 L1064.8 338.9 M1071.6 326.4 L1064.8 338.9 M1064.8 338.9 L1064.6 346.1 M1051.6 323.4 L1058.0 326.4 M1077.6 323.4 L1071.6 326.4 M1051.6 338.2 L1064.8 338.9 M1077.6 338.2 L1064.8 338.9 M1051.6 338.2 L1058.0 326.4 M1077.6 338.2 L1071.6 326.4" fill="none" stroke="#74c4c9" stroke-width="0.54"/><rect x="1057.8" y="329.8" width="13.5" height="2.0" rx="1.0" fill="#4a2a6e"/><rect x="1061.0" y="329.8" width="7.3" height="2.0" fill="#9062cc"/><path d="M1054.7 328.3 v4.9 M1074.5 328.3 v4.9" stroke="#a596cf" stroke-width="1.30"/><polygon points="1092.7,315.7 1105.7,323.7 1105.7,338.5 1092.7,346.4 1079.7,338.5 1079.7,323.7" fill="#a4dadc" stroke="#62bcc2" stroke-width="0.9" stroke-linejoin="round"/><path d="M1092.7 315.7 L1086.1 326.7 M1092.7 315.7 L1099.7 326.7 M1086.1 326.7 L1099.7 326.7 M1086.1 326.7 L1092.8 339.2 M1099.7 326.7 L1092.8 339.2 M1092.8 339.2 L1092.7 346.4 M1079.7 323.7 L1086.1 326.7 M1105.7 323.7 L1099.7 326.7 M1079.7 338.5 L1092.8 339.2 M1105.7 338.5 L1092.8 339.2 M1079.7 338.5 L1086.1 326.7 M1105.7 338.5 L1099.7 326.7" fill="none" stroke="#74c4c9" stroke-width="0.54"/><rect x="1085.9" y="330.1" width="13.5" height="2.0" rx="1.0" fill="#4a2a6e"/><rect x="1089.0" y="330.1" width="7.3" height="2.0" fill="#9062cc"/><path d="M1082.8 328.6 v4.9 M1102.5 328.6 v4.9" stroke="#a596cf" stroke-width="1.30"/><polygon points="1120.7,316.0 1133.7,324.0 1133.7,338.8 1120.7,346.7 1107.7,338.8 1107.7,324.0" fill="#a4dadc" stroke="#62bcc2" stroke-width="0.9" stroke-linejoin="round"/><path d="M1120.7 316.0 L1114.1 327.0 M1120.7 316.0 L1127.7 327.0 M1114.1 327.0 L1127.7 327.0 M1114.1 327.0 L1120.9 339.5 M1127.7 327.0 L1120.9 339.5 M1120.9 339.5 L1120.7 346.7 M1107.7 324.0 L1114.1 327.0 M1133.7 324.0 L1127.7 327.0 M1107.7 338.8 L1120.9 339.5 M1133.7 338.8 L1120.9 339.5 M1107.7 338.8 L1114.1 327.0 M1133.7 338.8 L1127.7 327.0" fill="none" stroke="#74c4c9" stroke-width="0.54"/><rect x="1114.0" y="330.4" width="13.5" height="2.0" rx="1.0" fill="#4a2a6e"/><rect x="1117.1" y="330.4" width="7.3" height="2.0" fill="#9062cc"/><path d="M1110.8 328.9 v4.9 M1130.6 328.9 v4.9" stroke="#a596cf" stroke-width="1.30"/><polygon points="1148.8,316.3 1161.8,324.3 1161.8,339.1 1148.8,347.0 1135.8,339.1 1135.8,324.3" fill="#a4dadc" stroke="#62bcc2" stroke-width="0.9" stroke-linejoin="round"/><path d="M1148.8 316.3 L1142.2 327.3 M1148.8 316.3 L1155.8 327.3 M1142.2 327.3 L1155.8 327.3 M1142.2 327.3 L1149.0 339.8 M1155.8 327.3 L1149.0 339.8 M1149.0 339.8 L1148.8 347.0 M1135.8 324.3 L1142.2 327.3 M1161.8 324.3 L1155.8 327.3 M1135.8 339.1 L1149.0 339.8 M1161.8 339.1 L1149.0 339.8 M1135.8 339.1 L1142.2 327.3 M1161.8 339.1 L1155.8 327.3" fill="none" stroke="#74c4c9" stroke-width="0.54"/><rect x="1142.0" y="330.7" width="13.5" height="2.0" rx="1.0" fill="#4a2a6e"/><rect x="1145.1" y="330.7" width="7.3" height="2.0" fill="#9062cc"/><path d="M1138.9 329.2 v4.9 M1158.7 329.2 v4.9" stroke="#a596cf" stroke-width="1.30"/><polygon points="1176.8,316.6 1189.8,324.6 1189.8,339.4 1176.8,347.3 1163.8,339.4 1163.8,324.6" fill="#a4dadc" stroke="#62bcc2" stroke-width="0.9" stroke-linejoin="round"/><path d="M1176.8 316.6 L1170.2 327.6 M1176.8 316.6 L1183.9 327.6 M1170.2 327.6 L1183.9 327.6 M1170.2 327.6 L1177.0 340.1 M1183.9 327.6 L1177.0 340.1 M1177.0 340.1 L1176.8 347.3 M1163.8 324.6 L1170.2 327.6 M1189.8 324.6 L1183.9 327.6 M1163.8 339.4 L1177.0 340.1 M1189.8 339.4 L1177.0 340.1 M1163.8 339.4 L1170.2 327.6 M1189.8 339.4 L1183.9 327.6" fill="none" stroke="#74c4c9" stroke-width="0.54"/><rect x="1170.1" y="331.0" width="13.5" height="2.0" rx="1.0" fill="#4a2a6e"/><rect x="1173.2" y="331.0" width="7.3" height="2.0" fill="#9062cc"/><path d="M1167.0 329.5 v4.9 M1186.7 329.5 v4.9" stroke="#a596cf" stroke-width="1.30"/><polygon points="1204.9,316.9 1217.9,324.9 1217.9,339.7 1204.9,347.6 1191.9,339.7 1191.9,324.9" fill="#a4dadc" stroke="#62bcc2" stroke-width="0.9" stroke-linejoin="round"/><path d="M1204.9 316.9 L1198.3 327.9 M1204.9 316.9 L1211.9 327.9 M1198.3 327.9 L1211.9 327.9 M1198.3 327.9 L1205.1 340.4 M1211.9 327.9 L1205.1 340.4 M1205.1 340.4 L1204.9 347.6 M1191.9 324.9 L1198.3 327.9 M1217.9 324.9 L1211.9 327.9 M1191.9 339.7 L1205.1 340.4 M1217.9 339.7 L1205.1 340.4 M1191.9 339.7 L1198.3 327.9 M1217.9 339.7 L1211.9 327.9" fill="none" stroke="#74c4c9" stroke-width="0.54"/><rect x="1198.1" y="331.3" width="13.5" height="2.0" rx="1.0" fill="#4a2a6e"/><rect x="1201.3" y="331.3" width="7.3" height="2.0" fill="#9062cc"/><path d="M1195.0 329.8 v4.9 M1214.8 329.8 v4.9" stroke="#a596cf" stroke-width="1.30"/><polygon points="1293.4,251.5 1312.6,263.3 1312.6,285.1 1293.4,296.9 1274.2,285.1 1274.2,263.3" fill="#f8dce3" stroke="#eba7b6" stroke-width="1.0" stroke-linejoin="round"/><path d="M1293.4 251.5 L1283.6 267.8 M1293.4 251.5 L1303.8 267.8 M1283.6 267.8 L1303.8 267.8 M1283.6 267.8 L1293.7 286.2 M1303.8 267.8 L1293.7 286.2 M1293.7 286.2 L1293.4 296.9 M1274.2 263.3 L1283.6 267.8 M1312.6 263.3 L1303.8 267.8 M1274.2 285.1 L1293.7 286.2 M1312.6 285.1 L1293.7 286.2 M1274.2 285.1 L1283.6 267.8 M1312.6 285.1 L1303.8 267.8" fill="none" stroke="#efb9c5" stroke-width="0.60"/><rect x="1283.4" y="272.7" width="20.0" height="3.0" rx="1.5" fill="#3d1f5c"/><rect x="1288.0" y="272.7" width="10.8" height="3.0" fill="#8a55c8"/><path d="M1278.8 270.6 v7.3 M1308.0 270.6 v7.3" stroke="#8a7bc0" stroke-width="1.92"/>
<!-- chevrons -->
<path d="M1225.5 259.5 L1240 278 L1224.5 293 M1236 259.5 L1250.5 278 L1235 293 M1246.5 259.5 L1261 277.5 L1246.5 293.5" fill="none" stroke="#222" stroke-width="4.6"/>
</svg>
<div class="t" id="t1" style="left:60px;top:14px;font-size:27px;letter-spacing:1.65px;">改変型凝固第<span style="font-family:&quot;Liberation Serif&quot;,serif">VIII</span>因子</div>
<div class="t" id="t2" style="left:367px;top:298px;font-size:25px;letter-spacing:0.8px;">高凝固因子活性</div>
<div class="t" id="t3" style="left:673px;top:130px;font-size:24px;letter-spacing:1.9px;">高発現と高分泌</div>
<div class="t" id="t4" style="left:815px;top:331px;font-size:24px;letter-spacing:1.4px;">低小胞体ストレス</div>
<div class="t" id="t5" style="left:626px;top:481px;font-size:20px;letter-spacing:2.6px;">肝実質細胞</div>
<div class="t" id="t6" style="left:1059px;top:65px;font-size:20px;"><span style="letter-spacing:0.3px;font-size:22px">AAV</span><span style="letter-spacing:2.6px">ベクター</span></div>
<div class="t" id="t7" style="left:1110px;top:353px;font-size:17px;letter-spacing:-0.4px;-webkit-text-stroke:0.2px currentColor;">野生型</div>
<div class="t" id="t8" style="left:1267px;top:226px;font-size:16px;color:#9b2a2a;-webkit-text-stroke:0px;">改変型</div>
<div class="t" id="t9" style="left:1230px;top:309px;font-size:24px;color:#9b2a2a;letter-spacing:0.8px;-webkit-text-stroke:0.3px #9b2a2a;">&lt;1/30</div>
<div class="t" id="t10" style="left:1014px;top:439px;font-size:25px;color:#9b2a2a;letter-spacing:0.1px;">改変型凝固第<span style="font-family:&quot;Liberation Serif&quot;,serif">VIII</span>因子の利用で</div>
<div class="t" id="t11" style="left:1014px;top:471px;font-size:25px;color:#9b2a2a;letter-spacing:0.1px;">ベクター投与量が削減できる</div>
</body></html>
